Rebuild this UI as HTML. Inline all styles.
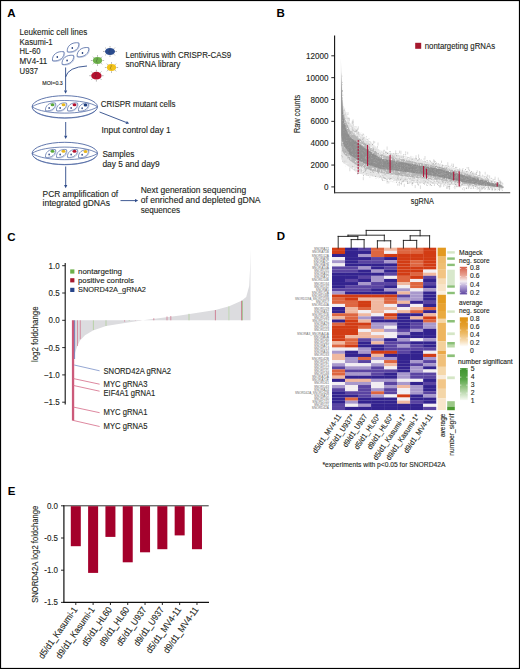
<!DOCTYPE html>
<html><head><meta charset="utf-8"><style>
html,body{margin:0;padding:0;background:#fff;}
svg{display:block;font-family:"Liberation Sans", sans-serif;}
</style></head><body>
<svg width="520" height="669" viewBox="0 0 520 669">
<rect width="520" height="669" fill="#fff"/>
<rect x="0.5" y="0.5" width="519" height="668" fill="none" stroke="#000" stroke-width="1.2"/>
<text x="7.20" y="17.00" font-size="11.5" fill="#000" text-anchor="start" stroke="#000" stroke-width="0" font-weight="bold" >A</text>
<text x="276.60" y="17.40" font-size="11.5" fill="#000" text-anchor="start" stroke="#000" stroke-width="0" font-weight="bold" >B</text>
<text x="7.20" y="240.80" font-size="11.5" fill="#000" text-anchor="start" stroke="#000" stroke-width="0" font-weight="bold" >C</text>
<text x="276.80" y="240.40" font-size="11.5" fill="#000" text-anchor="start" stroke="#000" stroke-width="0" font-weight="bold" >D</text>
<text x="7.80" y="495.20" font-size="11.5" fill="#000" text-anchor="start" stroke="#000" stroke-width="0" font-weight="bold" >E</text>
<text x="19.60" y="34.80" font-size="8.3" fill="#231f20" text-anchor="start" stroke="#231f20" stroke-width="0.12" textLength="67.7" lengthAdjust="spacingAndGlyphs" >Leukemic cell lines</text>
<text x="19.60" y="44.55" font-size="8.3" fill="#231f20" text-anchor="start" stroke="#231f20" stroke-width="0.12" textLength="33.1" lengthAdjust="spacingAndGlyphs" >Kasumi-1</text>
<text x="19.60" y="54.30" font-size="8.3" fill="#231f20" text-anchor="start" stroke="#231f20" stroke-width="0.12" textLength="20.8" lengthAdjust="spacingAndGlyphs" >HL-60</text>
<text x="19.60" y="64.05" font-size="8.3" fill="#231f20" text-anchor="start" stroke="#231f20" stroke-width="0.12" textLength="27.7" lengthAdjust="spacingAndGlyphs" >MV4-11</text>
<text x="19.60" y="73.80" font-size="8.3" fill="#231f20" text-anchor="start" stroke="#231f20" stroke-width="0.12" textLength="18.5" lengthAdjust="spacingAndGlyphs" >U937</text>
<text x="62.80" y="85.30" font-size="5.0" fill="#231f20" text-anchor="end" stroke="#231f20" stroke-width="0.12" textLength="20.5" lengthAdjust="spacingAndGlyphs" >MOI=0.3</text>
<text x="125.50" y="57.60" font-size="8.2" fill="#231f20" text-anchor="start" stroke="#231f20" stroke-width="0.12" textLength="105.7" lengthAdjust="spacingAndGlyphs" >Lentivirus with CRISPR-CAS9</text>
<text x="125.50" y="67.20" font-size="8.2" fill="#231f20" text-anchor="start" stroke="#231f20" stroke-width="0.12" textLength="55" lengthAdjust="spacingAndGlyphs" >snoRNA library</text>
<text x="100.80" y="107.30" font-size="8.2" fill="#231f20" text-anchor="start" stroke="#231f20" stroke-width="0.12" textLength="74.6" lengthAdjust="spacingAndGlyphs" >CRISPR mutant cells</text>
<text x="101.50" y="132.70" font-size="8.2" fill="#231f20" text-anchor="start" stroke="#231f20" stroke-width="0.12" textLength="69.2" lengthAdjust="spacingAndGlyphs" >Input control day 1</text>
<text x="102.40" y="157.00" font-size="8.2" fill="#231f20" text-anchor="start" stroke="#231f20" stroke-width="0.12" textLength="31.9" lengthAdjust="spacingAndGlyphs" >Samples</text>
<text x="102.40" y="166.70" font-size="8.2" fill="#231f20" text-anchor="start" stroke="#231f20" stroke-width="0.12" textLength="57.3" lengthAdjust="spacingAndGlyphs" >day 5 and day9</text>
<text x="42.60" y="196.90" font-size="8.2" fill="#231f20" text-anchor="start" stroke="#231f20" stroke-width="0.12" textLength="75.6" lengthAdjust="spacingAndGlyphs" >PCR amplification of</text>
<text x="42.60" y="205.60" font-size="8.2" fill="#231f20" text-anchor="start" stroke="#231f20" stroke-width="0.12" textLength="67.4" lengthAdjust="spacingAndGlyphs" >integrated gDNAs</text>
<text x="140.70" y="192.90" font-size="8.2" fill="#231f20" text-anchor="start" stroke="#231f20" stroke-width="0.12" textLength="105.5" lengthAdjust="spacingAndGlyphs" >Next generation sequencing</text>
<text x="140.70" y="203.00" font-size="8.2" fill="#231f20" text-anchor="start" stroke="#231f20" stroke-width="0.12" textLength="119.9" lengthAdjust="spacingAndGlyphs" >of enriched and depleted gDNA</text>
<text x="140.70" y="212.50" font-size="8.2" fill="#231f20" text-anchor="start" stroke="#231f20" stroke-width="0.12" textLength="39.3" lengthAdjust="spacingAndGlyphs" >sequences</text>
<path transform="translate(58.3 56.2)" d="M-5.80,4.60 C-6.60,-1.20 -1.20,-5.60 5.70,-4.40 C6.60,1.20 1.20,5.60 -5.80,4.60 Z" fill="#fff" stroke="#4f68a3" stroke-width="0.8"/>
<path transform="translate(58.3 56.2)" d="M-5.20,5.20 C1.80,6.20 7.20,1.80 6.30,-3.80" fill="none" stroke="#8a9cc8" stroke-width="0.5"/>
<ellipse cx="57.3" cy="57.1" rx="0.8" ry="1.0" fill="#1f3a7a"/>
<path transform="translate(73.1 47.3)" d="M-5.80,4.60 C-6.60,-1.20 -1.20,-5.60 5.70,-4.40 C6.60,1.20 1.20,5.60 -5.80,4.60 Z" fill="#fff" stroke="#4f68a3" stroke-width="0.8"/>
<path transform="translate(73.1 47.3)" d="M-5.20,5.20 C1.80,6.20 7.20,1.80 6.30,-3.80" fill="none" stroke="#8a9cc8" stroke-width="0.5"/>
<ellipse cx="72.3" cy="48.1" rx="0.8" ry="1.0" fill="#1f3a7a"/>
<path transform="translate(83.0 52.1)" d="M-5.80,4.60 C-6.60,-1.20 -1.20,-5.60 5.70,-4.40 C6.60,1.20 1.20,5.60 -5.80,4.60 Z" fill="#fff" stroke="#4f68a3" stroke-width="0.8"/>
<path transform="translate(83.0 52.1)" d="M-5.20,5.20 C1.80,6.20 7.20,1.80 6.30,-3.80" fill="none" stroke="#8a9cc8" stroke-width="0.5"/>
<ellipse cx="82.5" cy="53.1" rx="0.8" ry="1.0" fill="#1f3a7a"/>
<path transform="translate(67.9 59.8)" d="M-5.80,4.60 C-6.60,-1.20 -1.20,-5.60 5.70,-4.40 C6.60,1.20 1.20,5.60 -5.80,4.60 Z" fill="#fff" stroke="#4f68a3" stroke-width="0.8"/>
<path transform="translate(67.9 59.8)" d="M-5.20,5.20 C1.80,6.20 7.20,1.80 6.30,-3.80" fill="none" stroke="#8a9cc8" stroke-width="0.5"/>
<ellipse cx="67.1" cy="60.6" rx="0.8" ry="1.0" fill="#1f3a7a"/>
<path d="M65.6,77 Q68,67 87,66" fill="none" stroke="#2d4a88" stroke-width="0.9"/>
<line x1="65.6" y1="67.5" x2="65.60" y2="90.60" stroke="#2d4a88" stroke-width="0.9"/>
<path d="M65.60,93.80 L64.00,90.60 L67.20,90.60 Z" fill="#2d4a88"/>
<line x1="65.7" y1="122" x2="65.70" y2="135.80" stroke="#2d4a88" stroke-width="0.9"/>
<path d="M65.70,139.00 L64.10,135.80 L67.30,135.80 Z" fill="#2d4a88"/>
<line x1="65.7" y1="166.5" x2="65.70" y2="185.10" stroke="#2d4a88" stroke-width="0.9"/>
<path d="M65.70,188.30 L64.10,185.10 L67.30,185.10 Z" fill="#2d4a88"/>
<line x1="99.6" y1="112" x2="126.22" y2="122.43" stroke="#2d4a88" stroke-width="0.9"/>
<path d="M129.20,123.60 L125.64,123.92 L126.80,120.94 Z" fill="#2d4a88"/>
<line x1="120.5" y1="200.6" x2="135.00" y2="200.60" stroke="#2d4a88" stroke-width="0.9"/>
<path d="M138.20,200.60 L135.00,202.20 L135.00,199.00 Z" fill="#2d4a88"/>
<line x1="115.30" y1="51.50" x2="117.00" y2="51.50" stroke="#7a7a7a" stroke-width="0.55"/>
<line x1="113.75" y1="54.19" x2="114.95" y2="55.39" stroke="#7a7a7a" stroke-width="0.55"/>
<line x1="110.00" y1="55.30" x2="110.00" y2="57.00" stroke="#7a7a7a" stroke-width="0.55"/>
<line x1="106.25" y1="54.19" x2="105.05" y2="55.39" stroke="#7a7a7a" stroke-width="0.55"/>
<line x1="104.70" y1="51.50" x2="103.00" y2="51.50" stroke="#7a7a7a" stroke-width="0.55"/>
<line x1="106.25" y1="48.81" x2="105.05" y2="47.61" stroke="#7a7a7a" stroke-width="0.55"/>
<line x1="110.00" y1="47.70" x2="110.00" y2="46.00" stroke="#7a7a7a" stroke-width="0.55"/>
<line x1="113.75" y1="48.81" x2="114.95" y2="47.61" stroke="#7a7a7a" stroke-width="0.55"/>
<ellipse cx="110" cy="51.5" rx="5" ry="3.5" fill="#2a4b8d"/>
<path d="M109.2,48.8 q1.6,0.8 0,2.4499999999999997 q-1.2,0.8 0.6,2.4499999999999997" fill="none" stroke="#333" stroke-width="0.5" opacity="0.7"/>
<line x1="102.40" y1="60.50" x2="104.10" y2="60.50" stroke="#7a7a7a" stroke-width="0.55"/>
<line x1="100.96" y1="63.12" x2="102.17" y2="64.32" stroke="#7a7a7a" stroke-width="0.55"/>
<line x1="97.50" y1="64.20" x2="97.50" y2="65.90" stroke="#7a7a7a" stroke-width="0.55"/>
<line x1="94.04" y1="63.12" x2="92.83" y2="64.32" stroke="#7a7a7a" stroke-width="0.55"/>
<line x1="92.60" y1="60.50" x2="90.90" y2="60.50" stroke="#7a7a7a" stroke-width="0.55"/>
<line x1="94.04" y1="57.88" x2="92.83" y2="56.68" stroke="#7a7a7a" stroke-width="0.55"/>
<line x1="97.50" y1="56.80" x2="97.50" y2="55.10" stroke="#7a7a7a" stroke-width="0.55"/>
<line x1="100.96" y1="57.88" x2="102.17" y2="56.68" stroke="#7a7a7a" stroke-width="0.55"/>
<ellipse cx="97.5" cy="60.5" rx="4.6" ry="3.4" fill="#6cb04a"/>
<path d="M96.7,57.9 q1.6,0.8 0,2.38 q-1.2,0.8 0.6,2.38" fill="none" stroke="#333" stroke-width="0.5" opacity="0.7"/>
<line x1="116.40" y1="67.50" x2="118.10" y2="67.50" stroke="#7a7a7a" stroke-width="0.55"/>
<line x1="114.96" y1="70.12" x2="116.17" y2="71.32" stroke="#7a7a7a" stroke-width="0.55"/>
<line x1="111.50" y1="71.20" x2="111.50" y2="72.90" stroke="#7a7a7a" stroke-width="0.55"/>
<line x1="108.04" y1="70.12" x2="106.83" y2="71.32" stroke="#7a7a7a" stroke-width="0.55"/>
<line x1="106.60" y1="67.50" x2="104.90" y2="67.50" stroke="#7a7a7a" stroke-width="0.55"/>
<line x1="108.04" y1="64.88" x2="106.83" y2="63.68" stroke="#7a7a7a" stroke-width="0.55"/>
<line x1="111.50" y1="63.80" x2="111.50" y2="62.10" stroke="#7a7a7a" stroke-width="0.55"/>
<line x1="114.96" y1="64.88" x2="116.17" y2="63.68" stroke="#7a7a7a" stroke-width="0.55"/>
<ellipse cx="111.5" cy="67.5" rx="4.6" ry="3.4" fill="#f2c21a"/>
<path d="M110.7,64.89999999999999 q1.6,0.8 0,2.38 q-1.2,0.8 0.6,2.38" fill="none" stroke="#333" stroke-width="0.5" opacity="0.7"/>
<line x1="101.90" y1="75.70" x2="103.60" y2="75.70" stroke="#7a7a7a" stroke-width="0.55"/>
<line x1="100.29" y1="78.67" x2="101.49" y2="79.87" stroke="#7a7a7a" stroke-width="0.55"/>
<line x1="96.40" y1="79.90" x2="96.40" y2="81.60" stroke="#7a7a7a" stroke-width="0.55"/>
<line x1="92.51" y1="78.67" x2="91.31" y2="79.87" stroke="#7a7a7a" stroke-width="0.55"/>
<line x1="90.90" y1="75.70" x2="89.20" y2="75.70" stroke="#7a7a7a" stroke-width="0.55"/>
<line x1="92.51" y1="72.73" x2="91.31" y2="71.53" stroke="#7a7a7a" stroke-width="0.55"/>
<line x1="96.40" y1="71.50" x2="96.40" y2="69.80" stroke="#7a7a7a" stroke-width="0.55"/>
<line x1="100.29" y1="72.73" x2="101.49" y2="71.53" stroke="#7a7a7a" stroke-width="0.55"/>
<ellipse cx="96.4" cy="75.7" rx="5.2" ry="3.9" fill="#b5102e"/>
<path d="M95.60000000000001,72.6 q1.6,0.8 0,2.73 q-1.2,0.8 0.6,2.73" fill="none" stroke="#333" stroke-width="0.5" opacity="0.7"/>
<ellipse cx="64.8" cy="106.8" rx="32.7" ry="11.1" fill="#fff" stroke="#4f68a3" stroke-width="0.9"/>
<path d="M33.3,109.8 A32.4,11 0 0 0 96.3,109.8" fill="none" stroke="#4f68a3" stroke-width="0.6"/>
<path d="M32.099999999999994,106.8 C43.8,98.39999999999999 85.8,98.39999999999999 97.5,106.8 C85.8,115.2 43.8,115.2 32.099999999999994,106.8 Z" fill="none" stroke="#4f68a3" stroke-width="0.8"/>
<path transform="translate(50.5 106.8)" d="M-4.99,3.96 C-5.68,-1.03 -1.03,-4.82 4.90,-3.78 C5.68,1.03 1.03,4.82 -4.99,3.96 Z" fill="#fff" stroke="#4f68a3" stroke-width="0.7"/>
<path transform="translate(50.5 106.8)" d="M-4.39,4.56 C1.63,5.42 6.28,1.63 5.50,-3.18" fill="none" stroke="#8a9cc8" stroke-width="0.5"/>
<ellipse cx="52.5" cy="104.7" rx="1.9" ry="1.5" fill="#5aa83a"/>
<ellipse cx="49.1" cy="107.89999999999999" rx="0.75" ry="1.0" fill="#1f3a7a"/>
<path transform="translate(61.5 106.8)" d="M-4.99,3.96 C-5.68,-1.03 -1.03,-4.82 4.90,-3.78 C5.68,1.03 1.03,4.82 -4.99,3.96 Z" fill="#fff" stroke="#4f68a3" stroke-width="0.7"/>
<path transform="translate(61.5 106.8)" d="M-4.39,4.56 C1.63,5.42 6.28,1.63 5.50,-3.18" fill="none" stroke="#8a9cc8" stroke-width="0.5"/>
<ellipse cx="63.5" cy="104.7" rx="1.9" ry="1.5" fill="#e8b820"/>
<ellipse cx="60.1" cy="107.89999999999999" rx="0.75" ry="1.0" fill="#1f3a7a"/>
<path transform="translate(72.5 106.8)" d="M-4.99,3.96 C-5.68,-1.03 -1.03,-4.82 4.90,-3.78 C5.68,1.03 1.03,4.82 -4.99,3.96 Z" fill="#fff" stroke="#4f68a3" stroke-width="0.7"/>
<path transform="translate(72.5 106.8)" d="M-4.39,4.56 C1.63,5.42 6.28,1.63 5.50,-3.18" fill="none" stroke="#8a9cc8" stroke-width="0.5"/>
<ellipse cx="74.5" cy="104.7" rx="1.9" ry="1.5" fill="#b5102e"/>
<ellipse cx="71.1" cy="107.89999999999999" rx="0.75" ry="1.0" fill="#1f3a7a"/>
<path transform="translate(83.5 107.1)" d="M-4.99,3.96 C-5.68,-1.03 -1.03,-4.82 4.90,-3.78 C5.68,1.03 1.03,4.82 -4.99,3.96 Z" fill="#fff" stroke="#4f68a3" stroke-width="0.7"/>
<path transform="translate(83.5 107.1)" d="M-4.39,4.56 C1.63,5.42 6.28,1.63 5.50,-3.18" fill="none" stroke="#8a9cc8" stroke-width="0.5"/>
<ellipse cx="85.5" cy="105.0" rx="1.9" ry="1.5" fill="#1f3f80"/>
<ellipse cx="82.1" cy="108.19999999999999" rx="0.75" ry="1.0" fill="#1f3a7a"/>
<ellipse cx="64.8" cy="153.4" rx="32.7" ry="11.1" fill="#fff" stroke="#4f68a3" stroke-width="0.9"/>
<path d="M33.3,156.4 A32.4,11 0 0 0 96.3,156.4" fill="none" stroke="#4f68a3" stroke-width="0.6"/>
<path d="M32.099999999999994,153.4 C43.8,145.0 85.8,145.0 97.5,153.4 C85.8,161.8 43.8,161.8 32.099999999999994,153.4 Z" fill="none" stroke="#4f68a3" stroke-width="0.8"/>
<path transform="translate(50.5 153.4)" d="M-4.99,3.96 C-5.68,-1.03 -1.03,-4.82 4.90,-3.78 C5.68,1.03 1.03,4.82 -4.99,3.96 Z" fill="#fff" stroke="#4f68a3" stroke-width="0.7"/>
<path transform="translate(50.5 153.4)" d="M-4.39,4.56 C1.63,5.42 6.28,1.63 5.50,-3.18" fill="none" stroke="#8a9cc8" stroke-width="0.5"/>
<ellipse cx="52.5" cy="151.3" rx="1.9" ry="1.5" fill="#5aa83a"/>
<ellipse cx="49.1" cy="154.5" rx="0.75" ry="1.0" fill="#1f3a7a"/>
<path transform="translate(61.5 153.4)" d="M-4.99,3.96 C-5.68,-1.03 -1.03,-4.82 4.90,-3.78 C5.68,1.03 1.03,4.82 -4.99,3.96 Z" fill="#fff" stroke="#4f68a3" stroke-width="0.7"/>
<path transform="translate(61.5 153.4)" d="M-4.39,4.56 C1.63,5.42 6.28,1.63 5.50,-3.18" fill="none" stroke="#8a9cc8" stroke-width="0.5"/>
<ellipse cx="63.5" cy="151.3" rx="1.9" ry="1.5" fill="#e8b820"/>
<ellipse cx="60.1" cy="154.5" rx="0.75" ry="1.0" fill="#1f3a7a"/>
<path transform="translate(72.5 153.4)" d="M-4.99,3.96 C-5.68,-1.03 -1.03,-4.82 4.90,-3.78 C5.68,1.03 1.03,4.82 -4.99,3.96 Z" fill="#fff" stroke="#4f68a3" stroke-width="0.7"/>
<path transform="translate(72.5 153.4)" d="M-4.39,4.56 C1.63,5.42 6.28,1.63 5.50,-3.18" fill="none" stroke="#8a9cc8" stroke-width="0.5"/>
<ellipse cx="74.5" cy="151.3" rx="1.9" ry="1.5" fill="#b5102e"/>
<ellipse cx="71.1" cy="154.5" rx="0.75" ry="1.0" fill="#1f3a7a"/>
<path transform="translate(83.5 153.70000000000002)" d="M-4.99,3.96 C-5.68,-1.03 -1.03,-4.82 4.90,-3.78 C5.68,1.03 1.03,4.82 -4.99,3.96 Z" fill="#fff" stroke="#4f68a3" stroke-width="0.7"/>
<path transform="translate(83.5 153.70000000000002)" d="M-4.39,4.56 C1.63,5.42 6.28,1.63 5.50,-3.18" fill="none" stroke="#8a9cc8" stroke-width="0.5"/>
<ellipse cx="85.5" cy="151.60000000000002" rx="1.9" ry="1.5" fill="#e8b820"/>
<ellipse cx="82.1" cy="154.8" rx="0.75" ry="1.0" fill="#1f3a7a"/>
<line x1="334.6" y1="35.5" x2="334.6" y2="193.3" stroke="#111" stroke-width="1.1"/>
<line x1="334.1" y1="192.8" x2="510.2" y2="192.8" stroke="#333" stroke-width="1.1"/>
<line x1="331.3" y1="186.90" x2="334.6" y2="186.90" stroke="#111" stroke-width="0.9"/>
<text x="328.40" y="190.00" font-size="8.96" fill="#231f20" text-anchor="end" stroke="#231f20" stroke-width="0.12" textLength="4.5" lengthAdjust="spacingAndGlyphs" >0</text>
<line x1="331.3" y1="165.05" x2="334.6" y2="165.05" stroke="#111" stroke-width="0.9"/>
<text x="328.40" y="168.15" font-size="8.96" fill="#231f20" text-anchor="end" stroke="#231f20" stroke-width="0.12" textLength="18.0" lengthAdjust="spacingAndGlyphs" >2000</text>
<line x1="331.3" y1="143.20" x2="334.6" y2="143.20" stroke="#111" stroke-width="0.9"/>
<text x="328.40" y="146.30" font-size="8.96" fill="#231f20" text-anchor="end" stroke="#231f20" stroke-width="0.12" textLength="18.0" lengthAdjust="spacingAndGlyphs" >4000</text>
<line x1="331.3" y1="121.35" x2="334.6" y2="121.35" stroke="#111" stroke-width="0.9"/>
<text x="328.40" y="124.45" font-size="8.96" fill="#231f20" text-anchor="end" stroke="#231f20" stroke-width="0.12" textLength="18.0" lengthAdjust="spacingAndGlyphs" >6000</text>
<line x1="331.3" y1="99.50" x2="334.6" y2="99.50" stroke="#111" stroke-width="0.9"/>
<text x="328.40" y="102.60" font-size="8.96" fill="#231f20" text-anchor="end" stroke="#231f20" stroke-width="0.12" textLength="18.0" lengthAdjust="spacingAndGlyphs" >8000</text>
<line x1="331.3" y1="77.65" x2="334.6" y2="77.65" stroke="#111" stroke-width="0.9"/>
<text x="328.40" y="80.75" font-size="8.96" fill="#231f20" text-anchor="end" stroke="#231f20" stroke-width="0.12" textLength="22.5" lengthAdjust="spacingAndGlyphs" >10000</text>
<line x1="331.3" y1="55.80" x2="334.6" y2="55.80" stroke="#111" stroke-width="0.9"/>
<text x="328.40" y="58.90" font-size="8.96" fill="#231f20" text-anchor="end" stroke="#231f20" stroke-width="0.12" textLength="22.5" lengthAdjust="spacingAndGlyphs" >12000</text>
<text x="299.80" y="114.00" font-size="9.6" fill="#231f20" text-anchor="middle" stroke="#231f20" stroke-width="0.12" textLength="38.2" lengthAdjust="spacingAndGlyphs" transform="rotate(-90 299.80 114.00)" >Raw counts</text>
<text x="422.30" y="204.40" font-size="9.29" fill="#231f20" text-anchor="middle" stroke="#231f20" stroke-width="0.12" textLength="23" lengthAdjust="spacingAndGlyphs" >sgRNA</text>
<rect x="415.2" y="42.8" width="6" height="6" fill="#a6192e"/>
<text x="424.70" y="48.60" font-size="8.53" fill="#231f20" text-anchor="start" stroke="#231f20" stroke-width="0.12" textLength="70.4" lengthAdjust="spacingAndGlyphs" >nontargeting gRNAs</text>
<polygon points="340.8,58.0 341.3,68.0 341.8,78.4 342.3,89.1 342.8,99.7 343.3,104.9 343.8,106.3 344.3,107.7 344.8,109.1 345.3,110.6 345.8,112.0 346.3,113.4 346.8,114.8 347.3,116.1 347.8,117.3 348.3,118.6 348.8,119.9 349.3,121.2 349.8,122.5 350.3,123.3 350.8,123.8 351.3,124.3 351.8,124.8 352.3,125.3 352.8,125.8 353.3,126.3 353.8,126.8 354.3,127.3 354.8,127.8 355.3,128.3 355.8,128.8 356.3,129.3 356.8,129.8 357.3,130.3 357.8,130.8 358.3,131.3 358.8,131.7 359.3,132.1 359.8,132.6 360.3,133.0 360.8,133.5 361.3,133.9 361.8,134.4 362.3,134.8 362.8,135.2 363.3,135.7 363.8,136.1 364.3,136.6 364.8,137.0 365.3,137.4 365.8,137.9 366.3,138.3 366.8,138.8 367.3,139.2 367.8,139.6 368.3,140.1 368.8,140.5 369.3,141.0 369.8,141.4 370.3,141.8 370.8,142.3 371.3,142.7 371.8,143.2 372.3,143.6 372.8,144.1 373.3,144.5 373.8,144.9 374.3,145.4 374.8,145.8 375.3,146.3 375.8,146.7 376.3,147.1 376.8,147.6 377.3,148.0 377.8,148.5 378.3,148.9 378.8,149.3 379.3,149.8 379.8,150.2 380.3,150.5 380.8,150.6 381.3,150.7 381.8,150.8 382.3,150.9 382.8,151.0 383.3,151.2 383.8,151.3 384.3,151.4 384.8,151.5 385.3,151.6 385.8,151.7 386.3,151.8 386.8,152.0 387.3,152.1 387.8,152.2 388.3,152.3 388.8,152.4 389.3,152.5 389.8,152.7 390.3,152.8 390.8,152.9 391.3,153.0 391.8,153.1 392.3,153.2 392.8,153.3 393.3,153.5 393.8,153.6 394.3,153.7 394.8,153.8 395.3,153.9 395.8,154.0 396.3,154.1 396.8,154.3 397.3,154.4 397.8,154.5 398.3,154.6 398.8,154.7 399.3,154.8 399.8,155.0 400.3,155.1 400.8,155.2 401.3,155.3 401.8,155.4 402.3,155.5 402.8,155.6 403.3,155.8 403.8,155.9 404.3,156.0 404.8,156.1 405.3,156.2 405.8,156.3 406.3,156.4 406.8,156.6 407.3,156.7 407.8,156.8 408.3,156.9 408.8,157.0 409.3,157.1 409.8,157.3 410.3,157.4 410.8,157.5 411.3,157.6 411.8,157.7 412.3,157.8 412.8,157.9 413.3,158.1 413.8,158.2 414.3,158.3 414.8,158.4 415.3,158.5 415.8,158.6 416.3,158.7 416.8,158.9 417.3,159.0 417.8,159.1 418.3,159.2 418.8,159.3 419.3,159.4 419.8,159.6 420.3,159.7 420.8,159.8 421.3,159.9 421.8,160.0 422.3,160.1 422.8,160.2 423.3,160.4 423.8,160.5 424.3,160.6 424.8,160.7 425.3,160.8 425.8,160.9 426.3,161.0 426.8,161.2 427.3,161.3 427.8,161.4 428.3,161.5 428.8,161.6 429.3,161.7 429.8,161.9 430.3,162.0 430.8,162.1 431.3,162.2 431.8,162.3 432.3,162.4 432.8,162.5 433.3,162.7 433.8,162.8 434.3,162.9 434.8,163.0 435.3,163.1 435.8,163.2 436.3,163.3 436.8,163.5 437.3,163.6 437.8,163.7 438.3,163.8 438.8,163.9 439.3,164.0 439.8,164.2 440.3,164.3 440.8,164.4 441.3,164.5 441.8,164.7 442.3,164.8 442.8,164.9 443.3,165.1 443.8,165.2 444.3,165.3 444.8,165.4 445.3,165.6 445.8,165.7 446.3,165.8 446.8,166.0 447.3,166.1 447.8,166.2 448.3,166.4 448.8,166.5 449.3,166.6 449.8,166.7 450.3,166.9 450.8,167.0 451.3,167.1 451.8,167.3 452.3,167.4 452.8,167.5 453.3,167.7 453.8,167.8 454.3,167.9 454.8,168.0 455.3,168.2 455.8,168.3 456.3,168.4 456.8,168.6 457.3,168.7 457.8,168.8 458.3,169.0 458.8,169.1 459.3,169.2 459.8,169.3 460.3,169.5 460.8,169.6 461.3,169.7 461.8,169.9 462.3,170.0 462.8,170.1 463.3,170.3 463.8,170.4 464.3,170.5 464.8,170.6 465.3,170.8 465.8,170.9 466.3,171.0 466.8,171.2 467.3,171.3 467.8,171.4 468.3,171.6 468.8,171.7 469.3,171.8 469.8,171.9 470.3,172.1 470.8,172.3 471.3,172.5 471.8,172.7 472.3,172.8 472.8,173.0 473.3,173.2 473.8,173.4 474.3,173.6 474.8,173.8 475.3,173.9 475.8,174.1 476.3,174.3 476.8,174.5 477.3,174.7 477.8,174.9 478.3,175.0 478.8,175.2 479.3,175.4 479.8,175.6 480.3,175.8 480.8,176.0 481.3,176.1 481.8,176.3 482.3,176.5 482.8,176.7 483.3,176.9 483.8,177.1 484.3,177.2 484.8,177.4 485.3,177.6 485.8,177.8 486.3,178.0 486.8,178.2 487.3,178.3 487.8,178.5 488.3,178.7 488.8,178.9 489.3,179.1 489.8,179.3 490.3,179.4 490.8,179.6 491.3,179.8 491.8,180.0 492.3,180.2 492.8,180.4 493.3,180.5 493.8,180.7 494.3,180.9 494.8,181.1 495.3,181.3 495.8,181.5 496.3,181.6 496.8,181.8 497.3,182.0 497.8,182.2 498.3,182.4 498.8,182.6 499.3,182.7 499.8,182.9 500.3,183.3 500.8,183.8 501.3,184.3 501.8,184.8 502.3,185.3 502.8,185.8 503.3,186.3 503.3,188.2 502.8,188.2 502.3,188.1 501.8,188.1 501.3,188.1 500.8,188.0 500.3,188.0 499.8,188.0 499.3,188.0 498.8,187.9 498.3,187.9 497.8,187.9 497.3,187.9 496.8,187.8 496.3,187.8 495.8,187.8 495.3,187.8 494.8,187.7 494.3,187.7 493.8,187.7 493.3,187.7 492.8,187.6 492.3,187.6 491.8,187.6 491.3,187.6 490.8,187.5 490.3,187.5 489.8,187.5 489.3,187.5 488.8,187.4 488.3,187.4 487.8,187.4 487.3,187.4 486.8,187.3 486.3,187.3 485.8,187.3 485.3,187.3 484.8,187.2 484.3,187.2 483.8,187.2 483.3,187.2 482.8,187.1 482.3,187.1 481.8,187.1 481.3,187.1 480.8,187.0 480.3,187.0 479.8,187.0 479.3,187.0 478.8,186.9 478.3,186.9 477.8,186.9 477.3,186.9 476.8,186.8 476.3,186.8 475.8,186.8 475.3,186.8 474.8,186.7 474.3,186.7 473.8,186.7 473.3,186.7 472.8,186.6 472.3,186.6 471.8,186.6 471.3,186.6 470.8,186.5 470.3,186.5 469.8,186.5 469.3,186.4 468.8,186.4 468.3,186.4 467.8,186.3 467.3,186.3 466.8,186.2 466.3,186.2 465.8,186.2 465.3,186.1 464.8,186.1 464.3,186.0 463.8,186.0 463.3,185.9 462.8,185.9 462.3,185.9 461.8,185.8 461.3,185.8 460.8,185.7 460.3,185.7 459.8,185.7 459.3,185.6 458.8,185.6 458.3,185.5 457.8,185.5 457.3,185.4 456.8,185.4 456.3,185.4 455.8,185.3 455.3,185.3 454.8,185.2 454.3,185.2 453.8,185.2 453.3,185.1 452.8,185.1 452.3,185.0 451.8,185.0 451.3,184.9 450.8,184.9 450.3,184.9 449.8,184.8 449.3,184.8 448.8,184.7 448.3,184.7 447.8,184.7 447.3,184.6 446.8,184.6 446.3,184.5 445.8,184.5 445.3,184.4 444.8,184.4 444.3,184.4 443.8,184.3 443.3,184.3 442.8,184.2 442.3,184.2 441.8,184.2 441.3,184.1 440.8,184.1 440.3,184.0 439.8,184.0 439.3,184.0 438.8,183.9 438.3,183.9 437.8,183.9 437.3,183.9 436.8,183.9 436.3,183.8 435.8,183.8 435.3,183.8 434.8,183.8 434.3,183.8 433.8,183.7 433.3,183.7 432.8,183.7 432.3,183.7 431.8,183.6 431.3,183.6 430.8,183.6 430.3,183.6 429.8,183.6 429.3,183.5 428.8,183.5 428.3,183.5 427.8,183.5 427.3,183.4 426.8,183.4 426.3,183.4 425.8,183.4 425.3,183.4 424.8,183.3 424.3,183.3 423.8,183.3 423.3,183.3 422.8,183.3 422.3,183.2 421.8,183.2 421.3,183.2 420.8,183.2 420.3,183.1 419.8,183.1 419.3,183.1 418.8,183.1 418.3,183.1 417.8,183.0 417.3,183.0 416.8,183.0 416.3,183.0 415.8,183.0 415.3,182.9 414.8,182.9 414.3,182.9 413.8,182.9 413.3,182.8 412.8,182.8 412.3,182.8 411.8,182.8 411.3,182.8 410.8,182.7 410.3,182.7 409.8,182.7 409.3,182.6 408.8,182.5 408.3,182.4 407.8,182.4 407.3,182.3 406.8,182.2 406.3,182.1 405.8,182.0 405.3,182.0 404.8,181.9 404.3,181.8 403.8,181.7 403.3,181.7 402.8,181.6 402.3,181.5 401.8,181.4 401.3,181.3 400.8,181.3 400.3,181.2 399.8,181.1 399.3,181.0 398.8,180.9 398.3,180.9 397.8,180.8 397.3,180.7 396.8,180.6 396.3,180.6 395.8,180.5 395.3,180.4 394.8,180.3 394.3,180.2 393.8,180.2 393.3,180.1 392.8,180.0 392.3,179.9 391.8,179.8 391.3,179.8 390.8,179.7 390.3,179.6 389.8,179.5 389.3,179.5 388.8,179.4 388.3,179.3 387.8,179.2 387.3,179.1 386.8,179.1 386.3,179.0 385.8,178.9 385.3,178.8 384.8,178.8 384.3,178.7 383.8,178.6 383.3,178.5 382.8,178.4 382.3,178.4 381.8,178.3 381.3,178.2 380.8,178.1 380.3,178.0 379.8,178.0 379.3,177.9 378.8,177.7 378.3,177.6 377.8,177.5 377.3,177.4 376.8,177.3 376.3,177.2 375.8,177.1 375.3,177.0 374.8,176.9 374.3,176.8 373.8,176.7 373.3,176.6 372.8,176.5 372.3,176.4 371.8,176.3 371.3,176.2 370.8,176.1 370.3,176.0 369.8,175.9 369.3,175.8 368.8,175.7 368.3,175.6 367.8,175.4 367.3,175.3 366.8,175.2 366.3,175.1 365.8,175.0 365.3,174.9 364.8,174.8 364.3,174.7 363.8,174.6 363.3,174.5 362.8,174.4 362.3,174.3 361.8,174.2 361.3,174.1 360.8,174.0 360.3,173.9 359.8,173.8 359.3,173.7 358.8,173.6 358.3,173.5 357.8,173.3 357.3,172.9 356.8,172.5 356.3,172.1 355.8,171.8 355.3,171.4 354.8,171.0 354.3,170.7 353.8,170.3 353.3,169.9 352.8,169.6 352.3,169.2 351.8,168.8 351.3,168.5 350.8,168.1 350.3,167.7 349.8,167.4 349.3,167.0 348.8,166.6 348.3,166.3 347.8,165.9 347.3,165.6 346.8,165.2 346.3,164.9 345.8,164.6 345.3,164.3 344.8,164.0 344.3,163.7 343.8,163.5 343.3,163.2 342.8,162.5 342.3,161.3 341.8,160.0 341.3,158.8 340.8,110.0" fill="#e4e4e4"/>
<polygon points="341.0,71.9 341.5,79.0 342.0,90.2 342.5,101.4 343.0,108.8 343.5,112.0 344.0,115.2 344.5,116.7 345.0,118.2 345.5,119.8 346.0,121.3 346.5,122.8 347.0,123.9 347.5,125.1 348.0,126.2 348.5,127.3 349.0,128.4 349.5,129.6 350.0,130.7 350.5,131.1 351.0,131.6 351.5,132.0 352.0,132.4 352.5,132.9 353.0,133.3 353.5,133.7 354.0,134.2 354.5,134.6 355.0,135.0 355.5,135.4 356.0,135.9 356.5,136.3 357.0,136.7 357.5,137.2 358.0,137.6 358.5,138.0 359.0,138.4 359.5,138.8 360.0,139.2 360.5,139.6 361.0,140.0 361.5,140.4 362.0,140.8 362.5,141.2 363.0,141.6 363.5,142.1 364.0,142.5 364.5,142.8 365.0,143.2 365.5,143.6 366.0,144.0 366.5,144.4 367.0,144.7 367.5,145.1 368.0,145.5 368.5,145.9 369.0,146.2 369.5,146.6 370.0,147.0 370.5,147.4 371.0,147.8 371.5,148.1 372.0,148.5 372.5,148.9 373.0,149.3 373.5,149.7 374.0,150.0 374.5,150.4 375.0,150.8 375.5,151.2 376.0,151.5 376.5,151.9 377.0,152.3 377.5,152.7 378.0,153.1 378.5,153.4 379.0,153.8 379.5,154.2 380.0,154.6 380.5,154.7 381.0,154.8 381.5,154.9 382.0,155.0 382.5,155.1 383.0,155.2 383.5,155.3 384.0,155.4 384.5,155.5 385.0,155.6 385.5,155.7 386.0,155.8 386.5,155.9 387.0,156.0 387.5,156.1 388.0,156.2 388.5,156.3 389.0,156.4 389.5,156.5 390.0,156.6 390.5,156.7 391.0,156.8 391.5,157.0 392.0,157.1 392.5,157.2 393.0,157.3 393.5,157.4 394.0,157.5 394.5,157.6 395.0,157.7 395.5,157.8 396.0,157.9 396.5,158.0 397.0,158.1 397.5,158.2 398.0,158.3 398.5,158.4 399.0,158.5 399.5,158.6 400.0,158.7 400.5,158.8 401.0,158.9 401.5,159.0 402.0,159.1 402.5,159.2 403.0,159.3 403.5,159.4 404.0,159.5 404.5,159.6 405.0,159.7 405.5,159.8 406.0,159.9 406.5,160.0 407.0,160.1 407.5,160.2 408.0,160.4 408.5,160.5 409.0,160.6 409.5,160.7 410.0,160.8 410.5,160.9 411.0,161.0 411.5,161.1 412.0,161.2 412.5,161.3 413.0,161.4 413.5,161.5 414.0,161.6 414.5,161.7 415.0,161.8 415.5,161.9 416.0,162.0 416.5,162.1 417.0,162.2 417.5,162.3 418.0,162.4 418.5,162.5 419.0,162.6 419.5,162.7 420.0,162.8 420.5,162.9 421.0,163.0 421.5,163.1 422.0,163.2 422.5,163.3 423.0,163.4 423.5,163.5 424.0,163.6 424.5,163.7 425.0,163.8 425.5,163.9 426.0,164.0 426.5,164.1 427.0,164.2 427.5,164.3 428.0,164.4 428.5,164.5 429.0,164.6 429.5,164.7 430.0,164.8 430.5,164.9 431.0,165.0 431.5,165.1 432.0,165.2 432.5,165.3 433.0,165.4 433.5,165.5 434.0,165.6 434.5,165.7 435.0,165.8 435.5,165.9 436.0,166.0 436.5,166.1 437.0,166.2 437.5,166.3 438.0,166.4 438.5,166.5 439.0,166.6 439.5,166.7 440.0,166.8 440.5,167.0 441.0,167.1 441.5,167.2 442.0,167.3 442.5,167.5 443.0,167.6 443.5,167.7 444.0,167.9 444.5,168.0 445.0,168.1 445.5,168.2 446.0,168.4 446.5,168.5 447.0,168.6 447.5,168.7 448.0,168.9 448.5,169.0 449.0,169.1 449.5,169.3 450.0,169.4 450.5,169.5 451.0,169.6 451.5,169.8 452.0,169.9 452.5,170.0 453.0,170.1 453.5,170.3 454.0,170.4 454.5,170.5 455.0,170.7 455.5,170.8 456.0,170.9 456.5,171.0 457.0,171.2 457.5,171.3 458.0,171.4 458.5,171.5 459.0,171.7 459.5,171.8 460.0,171.9 460.5,172.1 461.0,172.2 461.5,172.3 462.0,172.4 462.5,172.6 463.0,172.7 463.5,172.8 464.0,172.9 464.5,173.1 465.0,173.2 465.5,173.3 466.0,173.5 466.5,173.6 467.0,173.7 467.5,173.8 468.0,174.0 468.5,174.1 469.0,174.2 469.5,174.3 470.0,174.5 470.5,174.6 471.0,174.8 471.5,174.9 472.0,175.1 472.5,175.3 473.0,175.4 473.5,175.6 474.0,175.7 474.5,175.9 475.0,176.1 475.5,176.2 476.0,176.4 476.5,176.5 477.0,176.7 477.5,176.8 478.0,177.0 478.5,177.2 479.0,177.3 479.5,177.5 480.0,177.6 480.5,177.8 481.0,177.9 481.5,178.1 482.0,178.3 482.5,178.4 483.0,178.6 483.5,178.7 484.0,178.9 484.5,179.0 485.0,179.2 485.5,179.4 486.0,179.5 486.5,179.7 487.0,179.8 487.5,180.0 488.0,180.2 488.5,180.3 489.0,180.5 489.5,180.6 490.0,180.8 490.5,180.9 491.0,181.1 491.5,181.3 492.0,181.4 492.5,181.6 493.0,181.7 493.5,181.9 494.0,182.0 494.5,182.2 495.0,182.4 495.5,182.5 496.0,182.7 496.5,182.8 497.0,183.0 497.5,183.1 498.0,183.3 498.5,183.5 499.0,183.6 499.5,183.8 500.0,183.9 500.5,184.3 501.0,184.7 501.5,185.1 502.0,185.5 502.5,185.9 503.0,186.3 503.5,186.7 503.5,187.9 503.0,187.8 502.5,187.8 502.0,187.8 501.5,187.7 501.0,187.7 500.5,187.7 500.0,187.6 499.5,187.6 499.0,187.5 498.5,187.5 498.0,187.4 497.5,187.4 497.0,187.3 496.5,187.3 496.0,187.2 495.5,187.2 495.0,187.2 494.5,187.1 494.0,187.1 493.5,187.0 493.0,187.0 492.5,186.9 492.0,186.9 491.5,186.8 491.0,186.8 490.5,186.7 490.0,186.7 489.5,186.6 489.0,186.6 488.5,186.6 488.0,186.5 487.5,186.5 487.0,186.4 486.5,186.4 486.0,186.3 485.5,186.3 485.0,186.2 484.5,186.2 484.0,186.1 483.5,186.1 483.0,186.0 482.5,186.0 482.0,186.0 481.5,185.9 481.0,185.9 480.5,185.8 480.0,185.8 479.5,185.7 479.0,185.7 478.5,185.6 478.0,185.6 477.5,185.5 477.0,185.5 476.5,185.4 476.0,185.4 475.5,185.4 475.0,185.3 474.5,185.3 474.0,185.2 473.5,185.2 473.0,185.1 472.5,185.1 472.0,185.0 471.5,185.0 471.0,184.9 470.5,184.9 470.0,184.9 469.5,184.8 469.0,184.7 468.5,184.6 468.0,184.5 467.5,184.5 467.0,184.4 466.5,184.3 466.0,184.2 465.5,184.1 465.0,184.1 464.5,184.0 464.0,183.9 463.5,183.8 463.0,183.8 462.5,183.7 462.0,183.6 461.5,183.5 461.0,183.4 460.5,183.4 460.0,183.3 459.5,183.2 459.0,183.1 458.5,183.0 458.0,183.0 457.5,182.9 457.0,182.8 456.5,182.7 456.0,182.7 455.5,182.6 455.0,182.5 454.5,182.4 454.0,182.3 453.5,182.3 453.0,182.2 452.5,182.1 452.0,182.0 451.5,182.0 451.0,181.9 450.5,181.8 450.0,181.7 449.5,181.6 449.0,181.6 448.5,181.5 448.0,181.4 447.5,181.3 447.0,181.2 446.5,181.2 446.0,181.1 445.5,181.0 445.0,180.9 444.5,180.9 444.0,180.8 443.5,180.7 443.0,180.6 442.5,180.5 442.0,180.5 441.5,180.4 441.0,180.3 440.5,180.2 440.0,180.2 439.5,180.1 439.0,180.0 438.5,180.0 438.0,179.9 437.5,179.9 437.0,179.8 436.5,179.8 436.0,179.7 435.5,179.7 435.0,179.6 434.5,179.6 434.0,179.5 433.5,179.5 433.0,179.4 432.5,179.4 432.0,179.3 431.5,179.3 431.0,179.2 430.5,179.1 430.0,179.1 429.5,179.0 429.0,179.0 428.5,178.9 428.0,178.9 427.5,178.8 427.0,178.8 426.5,178.7 426.0,178.7 425.5,178.6 425.0,178.6 424.5,178.5 424.0,178.5 423.5,178.4 423.0,178.4 422.5,178.3 422.0,178.2 421.5,178.2 421.0,178.1 420.5,178.1 420.0,178.0 419.5,178.0 419.0,177.9 418.5,177.9 418.0,177.8 417.5,177.8 417.0,177.7 416.5,177.7 416.0,177.6 415.5,177.6 415.0,177.5 414.5,177.5 414.0,177.4 413.5,177.3 413.0,177.3 412.5,177.2 412.0,177.2 411.5,177.1 411.0,177.1 410.5,177.0 410.0,177.0 409.5,176.9 409.0,176.8 408.5,176.8 408.0,176.7 407.5,176.6 407.0,176.6 406.5,176.5 406.0,176.4 405.5,176.4 405.0,176.3 404.5,176.2 404.0,176.2 403.5,176.1 403.0,176.0 402.5,176.0 402.0,175.9 401.5,175.8 401.0,175.8 400.5,175.7 400.0,175.6 399.5,175.6 399.0,175.5 398.5,175.4 398.0,175.4 397.5,175.3 397.0,175.2 396.5,175.2 396.0,175.1 395.5,175.0 395.0,175.0 394.5,174.9 394.0,174.8 393.5,174.8 393.0,174.7 392.5,174.6 392.0,174.6 391.5,174.5 391.0,174.4 390.5,174.4 390.0,174.3 389.5,174.2 389.0,174.2 388.5,174.1 388.0,174.0 387.5,174.0 387.0,173.9 386.5,173.8 386.0,173.7 385.5,173.7 385.0,173.6 384.5,173.5 384.0,173.5 383.5,173.4 383.0,173.3 382.5,173.3 382.0,173.2 381.5,173.1 381.0,173.1 380.5,173.0 380.0,172.9 379.5,172.8 379.0,172.6 378.5,172.5 378.0,172.4 377.5,172.2 377.0,172.1 376.5,171.9 376.0,171.8 375.5,171.6 375.0,171.5 374.5,171.3 374.0,171.2 373.5,171.0 373.0,170.9 372.5,170.7 372.0,170.6 371.5,170.4 371.0,170.3 370.5,170.2 370.0,170.0 369.5,169.9 369.0,169.7 368.5,169.6 368.0,169.4 367.5,169.3 367.0,169.1 366.5,169.0 366.0,168.8 365.5,168.7 365.0,168.5 364.5,168.4 364.0,168.2 363.5,168.1 363.0,167.9 362.5,167.7 362.0,167.5 361.5,167.3 361.0,167.1 360.5,167.0 360.0,166.8 359.5,166.6 359.0,166.4 358.5,166.2 358.0,166.0 357.5,165.7 357.0,165.4 356.5,165.0 356.0,164.7 355.5,164.3 355.0,164.0 354.5,163.7 354.0,163.3 353.5,163.0 353.0,162.7 352.5,162.3 352.0,162.0 351.5,161.6 351.0,161.3 350.5,161.0 350.0,160.6 349.5,160.0 349.0,159.4 348.5,158.7 348.0,158.1 347.5,157.5 347.0,156.8 346.5,156.2 346.0,155.7 345.5,155.3 345.0,154.8 344.5,154.4 344.0,153.9 343.5,153.0 343.0,152.2 342.5,150.9 342.0,148.7 341.5,146.6 341.0,145.4" fill="#b6b6b6"/>
<polygon points="341.3,80.0 341.8,91.7 342.3,103.3 342.8,110.8 343.3,115.5 343.8,120.1 344.3,123.0 344.8,124.6 345.3,126.2 345.8,127.8 346.3,129.4 346.8,130.6 347.3,131.6 347.8,132.6 348.3,133.6 348.8,134.6 349.3,135.6 349.8,136.6 350.3,137.2 350.8,137.6 351.3,138.0 351.8,138.4 352.3,138.7 352.8,139.1 353.3,139.5 353.8,139.9 354.3,140.2 354.8,140.6 355.3,141.0 355.8,141.4 356.3,141.7 356.8,142.1 357.3,142.5 357.8,142.9 358.3,143.2 358.8,143.6 359.3,144.0 359.8,144.4 360.3,144.7 360.8,145.1 361.3,145.5 361.8,145.9 362.3,146.2 362.8,146.6 363.3,147.0 363.8,147.4 364.3,147.7 364.8,148.0 365.3,148.4 365.8,148.7 366.3,149.0 366.8,149.3 367.3,149.7 367.8,150.0 368.3,150.3 368.8,150.7 369.3,151.0 369.8,151.3 370.3,151.6 370.8,152.0 371.3,152.3 371.8,152.6 372.3,152.9 372.8,153.3 373.3,153.6 373.8,153.9 374.3,154.3 374.8,154.6 375.3,154.9 375.8,155.2 376.3,155.6 376.8,155.9 377.3,156.2 377.8,156.6 378.3,156.9 378.8,157.2 379.3,157.5 379.8,157.9 380.3,158.1 380.8,158.1 381.3,158.2 381.8,158.3 382.3,158.4 382.8,158.5 383.3,158.6 383.8,158.7 384.3,158.8 384.8,158.9 385.3,159.0 385.8,159.1 386.3,159.2 386.8,159.3 387.3,159.4 387.8,159.5 388.3,159.5 388.8,159.6 389.3,159.7 389.8,159.8 390.3,159.9 390.8,160.0 391.3,160.1 391.8,160.2 392.3,160.3 392.8,160.4 393.3,160.5 393.8,160.6 394.3,160.7 394.8,160.8 395.3,160.9 395.8,160.9 396.3,161.0 396.8,161.1 397.3,161.2 397.8,161.3 398.3,161.4 398.8,161.5 399.3,161.6 399.8,161.7 400.3,161.8 400.8,161.9 401.3,162.0 401.8,162.1 402.3,162.2 402.8,162.3 403.3,162.3 403.8,162.4 404.3,162.5 404.8,162.6 405.3,162.7 405.8,162.8 406.3,162.9 406.8,163.0 407.3,163.1 407.8,163.2 408.3,163.3 408.8,163.4 409.3,163.5 409.8,163.6 410.3,163.7 410.8,163.7 411.3,163.8 411.8,163.9 412.3,164.0 412.8,164.1 413.3,164.2 413.8,164.3 414.3,164.4 414.8,164.5 415.3,164.6 415.8,164.6 416.3,164.7 416.8,164.8 417.3,164.9 417.8,165.0 418.3,165.1 418.8,165.2 419.3,165.3 419.8,165.4 420.3,165.5 420.8,165.5 421.3,165.6 421.8,165.7 422.3,165.8 422.8,165.9 423.3,166.0 423.8,166.1 424.3,166.2 424.8,166.3 425.3,166.4 425.8,166.4 426.3,166.5 426.8,166.6 427.3,166.7 427.8,166.8 428.3,166.9 428.8,167.0 429.3,167.1 429.8,167.2 430.3,167.3 430.8,167.3 431.3,167.4 431.8,167.5 432.3,167.6 432.8,167.7 433.3,167.8 433.8,167.9 434.3,168.0 434.8,168.1 435.3,168.2 435.8,168.2 436.3,168.3 436.8,168.4 437.3,168.5 437.8,168.6 438.3,168.7 438.8,168.8 439.3,168.9 439.8,169.0 440.3,169.1 440.8,169.2 441.3,169.3 441.8,169.4 442.3,169.6 442.8,169.7 443.3,169.8 443.8,169.9 444.3,170.1 444.8,170.2 445.3,170.3 445.8,170.4 446.3,170.6 446.8,170.7 447.3,170.8 447.8,171.0 448.3,171.1 448.8,171.2 449.3,171.3 449.8,171.4 450.3,171.6 450.8,171.7 451.3,171.8 451.8,171.9 452.3,172.1 452.8,172.2 453.3,172.3 453.8,172.4 454.3,172.6 454.8,172.7 455.3,172.8 455.8,172.9 456.3,173.1 456.8,173.2 457.3,173.3 457.8,173.4 458.3,173.6 458.8,173.7 459.3,173.8 459.8,173.9 460.3,174.1 460.8,174.2 461.3,174.3 461.8,174.4 462.3,174.6 462.8,174.7 463.3,174.8 463.8,174.9 464.3,175.1 464.8,175.2 465.3,175.3 465.8,175.4 466.3,175.6 466.8,175.7 467.3,175.8 467.8,175.9 468.3,176.1 468.8,176.2 469.3,176.3 469.8,176.4 470.3,176.6 470.8,176.7 471.3,176.9 471.8,177.0 472.3,177.1 472.8,177.3 473.3,177.4 473.8,177.5 474.3,177.7 474.8,177.8 475.3,177.9 475.8,178.1 476.3,178.2 476.8,178.4 477.3,178.5 477.8,178.6 478.3,178.8 478.8,178.9 479.3,179.0 479.8,179.2 480.3,179.3 480.8,179.5 481.3,179.6 481.8,179.7 482.3,179.9 482.8,180.0 483.3,180.1 483.8,180.3 484.3,180.4 484.8,180.5 485.3,180.7 485.8,180.8 486.3,181.0 486.8,181.1 487.3,181.2 487.8,181.4 488.3,181.5 488.8,181.6 489.3,181.8 489.8,181.9 490.3,182.0 490.8,182.2 491.3,182.3 491.8,182.5 492.3,182.6 492.8,182.7 493.3,182.9 493.8,183.0 494.3,183.1 494.8,183.3 495.3,183.4 495.8,183.6 496.3,183.7 496.8,183.8 497.3,184.0 497.8,184.1 498.3,184.2 498.8,184.4 499.3,184.5 499.8,184.6 500.3,184.9 500.8,185.2 501.3,185.5 501.8,185.8 502.3,186.1 502.8,186.5 503.3,186.8 503.3,187.6 502.8,187.5 502.3,187.5 501.8,187.5 501.3,187.4 500.8,187.4 500.3,187.3 499.8,187.3 499.3,187.2 498.8,187.1 498.3,187.1 497.8,187.0 497.3,187.0 496.8,186.9 496.3,186.8 495.8,186.8 495.3,186.7 494.8,186.6 494.3,186.6 493.8,186.5 493.3,186.5 492.8,186.4 492.3,186.3 491.8,186.3 491.3,186.2 490.8,186.1 490.3,186.1 489.8,186.0 489.3,185.9 488.8,185.9 488.3,185.8 487.8,185.8 487.3,185.7 486.8,185.6 486.3,185.6 485.8,185.5 485.3,185.4 484.8,185.4 484.3,185.3 483.8,185.2 483.3,185.2 482.8,185.1 482.3,185.1 481.8,185.0 481.3,184.9 480.8,184.9 480.3,184.8 479.8,184.7 479.3,184.7 478.8,184.6 478.3,184.6 477.8,184.5 477.3,184.4 476.8,184.4 476.3,184.3 475.8,184.2 475.3,184.2 474.8,184.1 474.3,184.0 473.8,184.0 473.3,183.9 472.8,183.9 472.3,183.8 471.8,183.7 471.3,183.7 470.8,183.6 470.3,183.5 469.8,183.5 469.3,183.3 468.8,183.2 468.3,183.1 467.8,183.0 467.3,182.9 466.8,182.8 466.3,182.7 465.8,182.6 465.3,182.5 464.8,182.4 464.3,182.3 463.8,182.2 463.3,182.0 462.8,181.9 462.3,181.8 461.8,181.7 461.3,181.6 460.8,181.5 460.3,181.4 459.8,181.3 459.3,181.2 458.8,181.1 458.3,181.0 457.8,180.9 457.3,180.7 456.8,180.6 456.3,180.5 455.8,180.4 455.3,180.3 454.8,180.2 454.3,180.1 453.8,180.0 453.3,179.9 452.8,179.8 452.3,179.7 451.8,179.6 451.3,179.4 450.8,179.3 450.3,179.2 449.8,179.1 449.3,179.0 448.8,178.9 448.3,178.8 447.8,178.7 447.3,178.6 446.8,178.5 446.3,178.4 445.8,178.3 445.3,178.1 444.8,178.0 444.3,177.9 443.8,177.8 443.3,177.7 442.8,177.6 442.3,177.5 441.8,177.4 441.3,177.3 440.8,177.2 440.3,177.1 439.8,177.0 439.3,176.9 438.8,176.8 438.3,176.7 437.8,176.7 437.3,176.6 436.8,176.5 436.3,176.4 435.8,176.3 435.3,176.3 434.8,176.2 434.3,176.1 433.8,176.0 433.3,176.0 432.8,175.9 432.3,175.8 431.8,175.7 431.3,175.6 430.8,175.6 430.3,175.5 429.8,175.4 429.3,175.3 428.8,175.2 428.3,175.2 427.8,175.1 427.3,175.0 426.8,174.9 426.3,174.9 425.8,174.8 425.3,174.7 424.8,174.6 424.3,174.5 423.8,174.5 423.3,174.4 422.8,174.3 422.3,174.2 421.8,174.1 421.3,174.1 420.8,174.0 420.3,173.9 419.8,173.8 419.3,173.8 418.8,173.7 418.3,173.6 417.8,173.5 417.3,173.4 416.8,173.4 416.3,173.3 415.8,173.2 415.3,173.1 414.8,173.1 414.3,173.0 413.8,172.9 413.3,172.8 412.8,172.7 412.3,172.7 411.8,172.6 411.3,172.5 410.8,172.4 410.3,172.3 409.8,172.3 409.3,172.2 408.8,172.2 408.3,172.1 407.8,172.0 407.3,172.0 406.8,171.9 406.3,171.9 405.8,171.8 405.3,171.8 404.8,171.7 404.3,171.6 403.8,171.6 403.3,171.5 402.8,171.5 402.3,171.4 401.8,171.3 401.3,171.3 400.8,171.2 400.3,171.2 399.8,171.1 399.3,171.1 398.8,171.0 398.3,170.9 397.8,170.9 397.3,170.8 396.8,170.8 396.3,170.7 395.8,170.6 395.3,170.6 394.8,170.5 394.3,170.5 393.8,170.4 393.3,170.4 392.8,170.3 392.3,170.2 391.8,170.2 391.3,170.1 390.8,170.1 390.3,170.0 389.8,169.9 389.3,169.9 388.8,169.8 388.3,169.8 387.8,169.7 387.3,169.7 386.8,169.6 386.3,169.5 385.8,169.5 385.3,169.4 384.8,169.4 384.3,169.3 383.8,169.2 383.3,169.2 382.8,169.1 382.3,169.1 381.8,169.0 381.3,169.0 380.8,168.9 380.3,168.8 379.8,168.7 379.3,168.5 378.8,168.4 378.3,168.2 377.8,168.0 377.3,167.8 376.8,167.6 376.3,167.5 375.8,167.3 375.3,167.1 374.8,166.9 374.3,166.7 373.8,166.6 373.3,166.4 372.8,166.2 372.3,166.0 371.8,165.8 371.3,165.6 370.8,165.5 370.3,165.3 369.8,165.1 369.3,164.9 368.8,164.7 368.3,164.6 367.8,164.4 367.3,164.2 366.8,164.0 366.3,163.8 365.8,163.7 365.3,163.5 364.8,163.3 364.3,163.1 363.8,162.9 363.3,162.7 362.8,162.4 362.3,162.2 361.8,161.9 361.3,161.7 360.8,161.4 360.3,161.2 359.8,160.9 359.3,160.7 358.8,160.4 358.3,160.2 357.8,159.9 357.3,159.6 356.8,159.2 356.3,158.9 355.8,158.6 355.3,158.3 354.8,158.0 354.3,157.7 353.8,157.4 353.3,157.1 352.8,156.8 352.3,156.4 351.8,156.1 351.3,155.8 350.8,155.5 350.3,155.2 349.8,154.7 349.3,153.8 348.8,152.9 348.3,152.1 347.8,151.2 347.3,150.4 346.8,149.5 346.3,148.8 345.8,148.2 345.3,147.6 344.8,147.0 344.3,146.4 343.8,145.5 343.3,144.1 342.8,142.8 342.3,140.8 341.8,137.9 341.3,135.0" fill="#8f8f8f"/>
<g><rect x="393.6" y="162.0" width="0.8" height="0.7" fill="#a4a4a4"/><rect x="353.2" y="148.8" width="0.8" height="0.7" fill="#848484"/><rect x="435.3" y="175.5" width="0.8" height="0.7" fill="#9c9c9c"/><rect x="347.5" y="140.2" width="0.8" height="0.7" fill="#a4a4a4"/><rect x="380.2" y="164.0" width="0.8" height="0.7" fill="#a4a4a4"/><rect x="474.6" y="178.5" width="0.8" height="0.7" fill="#9c9c9c"/><rect x="443.0" y="174.4" width="0.8" height="0.7" fill="#a4a4a4"/><rect x="434.4" y="171.2" width="0.8" height="0.7" fill="#9c9c9c"/><rect x="349.0" y="150.7" width="0.8" height="0.7" fill="#848484"/><rect x="409.0" y="168.2" width="0.8" height="0.7" fill="#848484"/><rect x="431.7" y="173.1" width="0.8" height="0.7" fill="#a4a4a4"/><rect x="435.1" y="173.3" width="0.8" height="0.7" fill="#848484"/><rect x="357.2" y="154.6" width="0.8" height="0.7" fill="#a4a4a4"/><rect x="441.2" y="173.2" width="0.8" height="0.7" fill="#b0b0b0"/><rect x="466.6" y="179.0" width="0.8" height="0.7" fill="#b0b0b0"/><rect x="399.7" y="164.0" width="0.8" height="0.7" fill="#9c9c9c"/><rect x="454.0" y="174.3" width="0.8" height="0.7" fill="#848484"/><rect x="426.1" y="173.8" width="0.8" height="0.7" fill="#b0b0b0"/><rect x="387.9" y="169.5" width="0.8" height="0.7" fill="#a4a4a4"/><rect x="423.9" y="167.5" width="0.8" height="0.7" fill="#848484"/><rect x="366.0" y="156.1" width="0.8" height="0.7" fill="#a4a4a4"/><rect x="496.4" y="184.0" width="0.8" height="0.7" fill="#848484"/><rect x="396.3" y="164.4" width="0.8" height="0.7" fill="#b0b0b0"/><rect x="434.9" y="171.8" width="0.8" height="0.7" fill="#a4a4a4"/><rect x="493.6" y="184.6" width="0.8" height="0.7" fill="#a4a4a4"/><rect x="351.3" y="150.5" width="0.8" height="0.7" fill="#b0b0b0"/><rect x="387.3" y="163.3" width="0.8" height="0.7" fill="#848484"/><rect x="345.1" y="135.7" width="0.8" height="0.7" fill="#9c9c9c"/><rect x="439.9" y="172.9" width="0.8" height="0.7" fill="#9c9c9c"/><rect x="465.2" y="176.2" width="0.8" height="0.7" fill="#9c9c9c"/><rect x="405.6" y="171.0" width="0.8" height="0.7" fill="#b0b0b0"/><rect x="354.5" y="148.2" width="0.8" height="0.7" fill="#848484"/><rect x="483.7" y="184.3" width="0.8" height="0.7" fill="#848484"/><rect x="455.2" y="180.2" width="0.8" height="0.7" fill="#b0b0b0"/><rect x="495.7" y="184.0" width="0.8" height="0.7" fill="#9c9c9c"/><rect x="365.9" y="158.6" width="0.8" height="0.7" fill="#a4a4a4"/><rect x="419.6" y="170.3" width="0.8" height="0.7" fill="#848484"/><rect x="386.9" y="160.8" width="0.8" height="0.7" fill="#848484"/><rect x="439.7" y="171.5" width="0.8" height="0.7" fill="#9c9c9c"/><rect x="452.7" y="176.1" width="0.8" height="0.7" fill="#a4a4a4"/><rect x="415.0" y="172.0" width="0.8" height="0.7" fill="#b0b0b0"/><rect x="405.6" y="166.3" width="0.8" height="0.7" fill="#b0b0b0"/><rect x="443.6" y="170.4" width="0.8" height="0.7" fill="#a4a4a4"/><rect x="500.0" y="185.9" width="0.8" height="0.7" fill="#a4a4a4"/><rect x="396.2" y="161.5" width="0.8" height="0.7" fill="#a4a4a4"/><rect x="432.8" y="172.1" width="0.8" height="0.7" fill="#848484"/><rect x="440.3" y="169.6" width="0.8" height="0.7" fill="#9c9c9c"/><rect x="440.4" y="170.3" width="0.8" height="0.7" fill="#848484"/><rect x="495.3" y="185.4" width="0.8" height="0.7" fill="#b0b0b0"/><rect x="361.3" y="159.2" width="0.8" height="0.7" fill="#b0b0b0"/><rect x="418.8" y="167.8" width="0.8" height="0.7" fill="#9c9c9c"/><rect x="358.0" y="148.8" width="0.8" height="0.7" fill="#848484"/><rect x="418.6" y="171.0" width="0.8" height="0.7" fill="#a4a4a4"/><rect x="374.5" y="166.2" width="0.8" height="0.7" fill="#848484"/><rect x="365.1" y="156.5" width="0.8" height="0.7" fill="#a4a4a4"/><rect x="463.6" y="177.0" width="0.8" height="0.7" fill="#a4a4a4"/><rect x="453.6" y="174.4" width="0.8" height="0.7" fill="#848484"/><rect x="487.7" y="182.9" width="0.8" height="0.7" fill="#9c9c9c"/><rect x="427.2" y="173.2" width="0.8" height="0.7" fill="#848484"/><rect x="444.0" y="174.8" width="0.8" height="0.7" fill="#9c9c9c"/><rect x="471.3" y="182.4" width="0.8" height="0.7" fill="#9c9c9c"/><rect x="373.7" y="160.1" width="0.8" height="0.7" fill="#a4a4a4"/><rect x="500.8" y="186.9" width="0.8" height="0.7" fill="#b0b0b0"/><rect x="383.2" y="165.9" width="0.8" height="0.7" fill="#848484"/><rect x="413.5" y="172.3" width="0.8" height="0.7" fill="#848484"/><rect x="495.3" y="184.6" width="0.8" height="0.7" fill="#9c9c9c"/><rect x="357.9" y="151.0" width="0.8" height="0.7" fill="#848484"/><rect x="374.4" y="162.1" width="0.8" height="0.7" fill="#a4a4a4"/><rect x="418.7" y="170.7" width="0.8" height="0.7" fill="#a4a4a4"/><rect x="475.9" y="178.8" width="0.8" height="0.7" fill="#b0b0b0"/><rect x="467.5" y="181.2" width="0.8" height="0.7" fill="#b0b0b0"/><rect x="484.6" y="182.6" width="0.8" height="0.7" fill="#848484"/><rect x="355.5" y="157.5" width="0.8" height="0.7" fill="#b0b0b0"/><rect x="416.1" y="171.1" width="0.8" height="0.7" fill="#a4a4a4"/><rect x="458.2" y="174.8" width="0.8" height="0.7" fill="#9c9c9c"/><rect x="345.9" y="140.1" width="0.8" height="0.7" fill="#b0b0b0"/><rect x="471.3" y="177.9" width="0.8" height="0.7" fill="#b0b0b0"/><rect x="447.3" y="173.5" width="0.8" height="0.7" fill="#9c9c9c"/><rect x="344.9" y="142.7" width="0.8" height="0.7" fill="#a4a4a4"/><rect x="426.3" y="174.3" width="0.8" height="0.7" fill="#b0b0b0"/><rect x="500.3" y="185.4" width="0.8" height="0.7" fill="#9c9c9c"/><rect x="346.0" y="132.7" width="0.8" height="0.7" fill="#9c9c9c"/><rect x="464.5" y="177.5" width="0.8" height="0.7" fill="#b0b0b0"/><rect x="475.8" y="178.5" width="0.8" height="0.7" fill="#848484"/><rect x="486.0" y="184.0" width="0.8" height="0.7" fill="#b0b0b0"/><rect x="474.7" y="183.3" width="0.8" height="0.7" fill="#9c9c9c"/><rect x="427.1" y="171.0" width="0.8" height="0.7" fill="#a4a4a4"/><rect x="482.0" y="183.9" width="0.8" height="0.7" fill="#a4a4a4"/><rect x="466.4" y="176.7" width="0.8" height="0.7" fill="#9c9c9c"/><rect x="417.7" y="171.2" width="0.8" height="0.7" fill="#a4a4a4"/><rect x="394.0" y="165.7" width="0.8" height="0.7" fill="#b0b0b0"/><rect x="467.8" y="176.7" width="0.8" height="0.7" fill="#a4a4a4"/><rect x="381.5" y="161.2" width="0.8" height="0.7" fill="#a4a4a4"/><rect x="423.2" y="170.7" width="0.8" height="0.7" fill="#a4a4a4"/><rect x="412.9" y="169.4" width="0.8" height="0.7" fill="#9c9c9c"/><rect x="453.0" y="175.7" width="0.8" height="0.7" fill="#b0b0b0"/><rect x="423.2" y="168.1" width="0.8" height="0.7" fill="#848484"/><rect x="490.1" y="185.6" width="0.8" height="0.7" fill="#9c9c9c"/><rect x="476.7" y="179.2" width="0.8" height="0.7" fill="#a4a4a4"/><rect x="404.7" y="165.5" width="0.8" height="0.7" fill="#9c9c9c"/><rect x="410.5" y="165.5" width="0.8" height="0.7" fill="#848484"/><rect x="467.7" y="182.3" width="0.8" height="0.7" fill="#9c9c9c"/><rect x="492.8" y="185.1" width="0.8" height="0.7" fill="#848484"/><rect x="364.5" y="161.4" width="0.8" height="0.7" fill="#b0b0b0"/><rect x="376.9" y="167.1" width="0.8" height="0.7" fill="#b0b0b0"/><rect x="484.0" y="181.1" width="0.8" height="0.7" fill="#9c9c9c"/><rect x="367.5" y="156.0" width="0.8" height="0.7" fill="#b0b0b0"/><rect x="396.1" y="162.9" width="0.8" height="0.7" fill="#848484"/><rect x="356.3" y="148.1" width="0.8" height="0.7" fill="#848484"/><rect x="430.7" y="170.9" width="0.8" height="0.7" fill="#a4a4a4"/><rect x="403.4" y="167.1" width="0.8" height="0.7" fill="#848484"/><rect x="424.0" y="166.7" width="0.8" height="0.7" fill="#9c9c9c"/><rect x="497.9" y="184.4" width="0.8" height="0.7" fill="#848484"/><rect x="385.3" y="168.4" width="0.8" height="0.7" fill="#9c9c9c"/><rect x="385.0" y="160.3" width="0.8" height="0.7" fill="#b0b0b0"/><rect x="478.3" y="182.7" width="0.8" height="0.7" fill="#848484"/><rect x="406.9" y="167.8" width="0.8" height="0.7" fill="#b0b0b0"/><rect x="454.3" y="173.2" width="0.8" height="0.7" fill="#a4a4a4"/><rect x="470.2" y="177.8" width="0.8" height="0.7" fill="#a4a4a4"/><rect x="384.8" y="159.1" width="0.8" height="0.7" fill="#a4a4a4"/><rect x="470.6" y="177.2" width="0.8" height="0.7" fill="#9c9c9c"/><rect x="352.2" y="154.0" width="0.8" height="0.7" fill="#b0b0b0"/><rect x="343.4" y="144.1" width="0.8" height="0.7" fill="#b0b0b0"/><rect x="490.7" y="183.2" width="0.8" height="0.7" fill="#9c9c9c"/><rect x="348.5" y="147.0" width="0.8" height="0.7" fill="#a4a4a4"/><rect x="497.5" y="184.8" width="0.8" height="0.7" fill="#9c9c9c"/><rect x="374.0" y="158.0" width="0.8" height="0.7" fill="#848484"/><rect x="427.0" y="168.4" width="0.8" height="0.7" fill="#b0b0b0"/><rect x="422.0" y="167.3" width="0.8" height="0.7" fill="#848484"/><rect x="470.9" y="183.6" width="0.8" height="0.7" fill="#a4a4a4"/><rect x="344.0" y="139.5" width="0.8" height="0.7" fill="#9c9c9c"/><rect x="424.3" y="168.2" width="0.8" height="0.7" fill="#b0b0b0"/><rect x="358.6" y="157.3" width="0.8" height="0.7" fill="#b0b0b0"/><rect x="447.2" y="175.0" width="0.8" height="0.7" fill="#b0b0b0"/><rect x="497.7" y="185.0" width="0.8" height="0.7" fill="#9c9c9c"/><rect x="499.7" y="185.5" width="0.8" height="0.7" fill="#9c9c9c"/><rect x="406.7" y="166.1" width="0.8" height="0.7" fill="#a4a4a4"/><rect x="476.3" y="178.3" width="0.8" height="0.7" fill="#848484"/><rect x="410.8" y="164.2" width="0.8" height="0.7" fill="#b0b0b0"/><rect x="481.7" y="183.2" width="0.8" height="0.7" fill="#848484"/><rect x="437.9" y="174.2" width="0.8" height="0.7" fill="#a4a4a4"/><rect x="415.5" y="165.9" width="0.8" height="0.7" fill="#b0b0b0"/><rect x="342.1" y="113.3" width="0.8" height="0.7" fill="#848484"/><rect x="498.1" y="185.8" width="0.8" height="0.7" fill="#9c9c9c"/><rect x="347.0" y="147.7" width="0.8" height="0.7" fill="#9c9c9c"/><rect x="398.9" y="161.5" width="0.8" height="0.7" fill="#b0b0b0"/><rect x="355.0" y="145.6" width="0.8" height="0.7" fill="#9c9c9c"/><rect x="381.5" y="166.6" width="0.8" height="0.7" fill="#a4a4a4"/><rect x="384.0" y="159.7" width="0.8" height="0.7" fill="#b0b0b0"/><rect x="436.0" y="171.5" width="0.8" height="0.7" fill="#848484"/><rect x="390.5" y="162.3" width="0.8" height="0.7" fill="#9c9c9c"/><rect x="447.4" y="176.4" width="0.8" height="0.7" fill="#b0b0b0"/><rect x="464.6" y="180.3" width="0.8" height="0.7" fill="#b0b0b0"/><rect x="365.6" y="159.4" width="0.8" height="0.7" fill="#9c9c9c"/><rect x="348.5" y="149.5" width="0.8" height="0.7" fill="#b0b0b0"/><rect x="459.7" y="179.9" width="0.8" height="0.7" fill="#9c9c9c"/><rect x="488.0" y="184.7" width="0.8" height="0.7" fill="#a4a4a4"/><rect x="474.6" y="181.4" width="0.8" height="0.7" fill="#9c9c9c"/><rect x="355.2" y="141.6" width="0.8" height="0.7" fill="#848484"/><rect x="496.0" y="184.8" width="0.8" height="0.7" fill="#b0b0b0"/><rect x="431.4" y="172.6" width="0.8" height="0.7" fill="#9c9c9c"/><rect x="420.3" y="165.5" width="0.8" height="0.7" fill="#a4a4a4"/><rect x="462.0" y="178.1" width="0.8" height="0.7" fill="#a4a4a4"/><rect x="447.6" y="171.4" width="0.8" height="0.7" fill="#b0b0b0"/><rect x="382.1" y="159.2" width="0.8" height="0.7" fill="#848484"/><rect x="379.3" y="165.9" width="0.8" height="0.7" fill="#9c9c9c"/><rect x="460.6" y="181.3" width="0.8" height="0.7" fill="#b0b0b0"/><rect x="477.6" y="179.0" width="0.8" height="0.7" fill="#848484"/><rect x="465.0" y="179.7" width="0.8" height="0.7" fill="#9c9c9c"/><rect x="354.0" y="142.6" width="0.8" height="0.7" fill="#848484"/><rect x="446.4" y="176.0" width="0.8" height="0.7" fill="#9c9c9c"/><rect x="343.5" y="119.1" width="0.8" height="0.7" fill="#848484"/><rect x="498.1" y="184.5" width="0.8" height="0.7" fill="#9c9c9c"/><rect x="450.3" y="173.8" width="0.8" height="0.7" fill="#848484"/><rect x="416.3" y="168.7" width="0.8" height="0.7" fill="#a4a4a4"/><rect x="501.4" y="186.6" width="0.8" height="0.7" fill="#848484"/><rect x="499.0" y="187.0" width="0.8" height="0.7" fill="#a4a4a4"/><rect x="388.1" y="160.3" width="0.8" height="0.7" fill="#b0b0b0"/><rect x="501.5" y="186.3" width="0.8" height="0.7" fill="#9c9c9c"/><rect x="353.5" y="141.2" width="0.8" height="0.7" fill="#848484"/><rect x="494.9" y="183.7" width="0.8" height="0.7" fill="#848484"/><rect x="484.3" y="183.9" width="0.8" height="0.7" fill="#9c9c9c"/><rect x="421.7" y="173.1" width="0.8" height="0.7" fill="#b0b0b0"/><rect x="345.5" y="126.9" width="0.8" height="0.7" fill="#b0b0b0"/><rect x="451.2" y="174.9" width="0.8" height="0.7" fill="#9c9c9c"/><rect x="408.5" y="166.6" width="0.8" height="0.7" fill="#a4a4a4"/><rect x="476.8" y="178.4" width="0.8" height="0.7" fill="#848484"/><rect x="476.6" y="179.0" width="0.8" height="0.7" fill="#9c9c9c"/><rect x="456.3" y="179.8" width="0.8" height="0.7" fill="#848484"/><rect x="382.3" y="159.1" width="0.8" height="0.7" fill="#b0b0b0"/><rect x="502.3" y="186.9" width="0.8" height="0.7" fill="#848484"/><rect x="490.5" y="185.1" width="0.8" height="0.7" fill="#a4a4a4"/><rect x="386.7" y="159.8" width="0.8" height="0.7" fill="#848484"/><rect x="443.7" y="171.1" width="0.8" height="0.7" fill="#848484"/><rect x="411.7" y="166.6" width="0.8" height="0.7" fill="#848484"/><rect x="467.9" y="179.0" width="0.8" height="0.7" fill="#a4a4a4"/><rect x="472.2" y="181.3" width="0.8" height="0.7" fill="#9c9c9c"/><rect x="457.4" y="173.7" width="0.8" height="0.7" fill="#b0b0b0"/><rect x="414.1" y="170.8" width="0.8" height="0.7" fill="#848484"/><rect x="419.7" y="173.1" width="0.8" height="0.7" fill="#9c9c9c"/><rect x="369.0" y="156.6" width="0.8" height="0.7" fill="#848484"/><rect x="389.4" y="167.3" width="0.8" height="0.7" fill="#848484"/><rect x="406.9" y="165.1" width="0.8" height="0.7" fill="#b0b0b0"/><rect x="431.2" y="170.7" width="0.8" height="0.7" fill="#9c9c9c"/><rect x="445.1" y="170.9" width="0.8" height="0.7" fill="#b0b0b0"/><rect x="430.1" y="170.9" width="0.8" height="0.7" fill="#848484"/><rect x="501.9" y="186.6" width="0.8" height="0.7" fill="#9c9c9c"/><rect x="429.7" y="169.2" width="0.8" height="0.7" fill="#9c9c9c"/><rect x="396.6" y="162.0" width="0.8" height="0.7" fill="#9c9c9c"/><rect x="400.8" y="169.4" width="0.8" height="0.7" fill="#9c9c9c"/><rect x="484.3" y="184.1" width="0.8" height="0.7" fill="#b0b0b0"/><rect x="403.1" y="169.2" width="0.8" height="0.7" fill="#9c9c9c"/><rect x="402.2" y="165.3" width="0.8" height="0.7" fill="#a4a4a4"/><rect x="421.7" y="170.5" width="0.8" height="0.7" fill="#848484"/><rect x="361.8" y="153.9" width="0.8" height="0.7" fill="#9c9c9c"/><rect x="356.4" y="157.2" width="0.8" height="0.7" fill="#b0b0b0"/><rect x="405.9" y="166.8" width="0.8" height="0.7" fill="#848484"/><rect x="478.1" y="183.8" width="0.8" height="0.7" fill="#a4a4a4"/><rect x="362.0" y="152.8" width="0.8" height="0.7" fill="#b0b0b0"/><rect x="497.4" y="185.4" width="0.8" height="0.7" fill="#a4a4a4"/><rect x="404.5" y="171.0" width="0.8" height="0.7" fill="#b0b0b0"/><rect x="498.0" y="184.9" width="0.8" height="0.7" fill="#a4a4a4"/><rect x="377.5" y="158.1" width="0.8" height="0.7" fill="#a4a4a4"/><rect x="493.1" y="185.4" width="0.8" height="0.7" fill="#b0b0b0"/><rect x="355.2" y="154.4" width="0.8" height="0.7" fill="#a4a4a4"/><rect x="467.5" y="177.5" width="0.8" height="0.7" fill="#a4a4a4"/><rect x="445.4" y="172.7" width="0.8" height="0.7" fill="#9c9c9c"/><rect x="442.4" y="173.8" width="0.8" height="0.7" fill="#b0b0b0"/><rect x="454.0" y="173.3" width="0.8" height="0.7" fill="#a4a4a4"/><rect x="389.9" y="169.4" width="0.8" height="0.7" fill="#9c9c9c"/><rect x="404.0" y="164.5" width="0.8" height="0.7" fill="#a4a4a4"/><rect x="343.2" y="123.3" width="0.8" height="0.7" fill="#b0b0b0"/><rect x="386.4" y="162.5" width="0.8" height="0.7" fill="#9c9c9c"/><rect x="418.0" y="167.0" width="0.8" height="0.7" fill="#9c9c9c"/><rect x="346.2" y="137.1" width="0.8" height="0.7" fill="#848484"/><rect x="350.4" y="140.8" width="0.8" height="0.7" fill="#b0b0b0"/><rect x="354.6" y="144.4" width="0.8" height="0.7" fill="#b0b0b0"/><rect x="490.5" y="183.0" width="0.8" height="0.7" fill="#a4a4a4"/><rect x="453.5" y="177.8" width="0.8" height="0.7" fill="#848484"/><rect x="451.4" y="173.4" width="0.8" height="0.7" fill="#848484"/><rect x="460.5" y="177.8" width="0.8" height="0.7" fill="#9c9c9c"/><rect x="421.3" y="167.3" width="0.8" height="0.7" fill="#9c9c9c"/><rect x="378.7" y="159.6" width="0.8" height="0.7" fill="#848484"/><rect x="359.1" y="154.2" width="0.8" height="0.7" fill="#9c9c9c"/><rect x="485.8" y="183.1" width="0.8" height="0.7" fill="#a4a4a4"/><rect x="494.3" y="183.6" width="0.8" height="0.7" fill="#b0b0b0"/><rect x="350.3" y="137.6" width="0.8" height="0.7" fill="#9c9c9c"/><rect x="408.4" y="169.6" width="0.8" height="0.7" fill="#9c9c9c"/><rect x="404.8" y="170.8" width="0.8" height="0.7" fill="#848484"/><rect x="459.5" y="181.2" width="0.8" height="0.7" fill="#9c9c9c"/><rect x="394.5" y="162.5" width="0.8" height="0.7" fill="#b0b0b0"/><rect x="346.6" y="142.9" width="0.8" height="0.7" fill="#b0b0b0"/><rect x="476.6" y="184.2" width="0.8" height="0.7" fill="#b0b0b0"/><rect x="368.8" y="150.7" width="0.8" height="0.7" fill="#848484"/><rect x="354.5" y="147.7" width="0.8" height="0.7" fill="#a4a4a4"/><rect x="431.8" y="173.7" width="0.8" height="0.7" fill="#b0b0b0"/><rect x="398.9" y="169.3" width="0.8" height="0.7" fill="#b0b0b0"/><rect x="355.6" y="153.4" width="0.8" height="0.7" fill="#9c9c9c"/><rect x="401.5" y="170.6" width="0.8" height="0.7" fill="#9c9c9c"/><rect x="393.6" y="167.8" width="0.8" height="0.7" fill="#b0b0b0"/><rect x="346.4" y="137.5" width="0.8" height="0.7" fill="#b0b0b0"/><rect x="348.0" y="133.7" width="0.8" height="0.7" fill="#a4a4a4"/><rect x="470.8" y="177.2" width="0.8" height="0.7" fill="#9c9c9c"/><rect x="461.8" y="181.0" width="0.8" height="0.7" fill="#848484"/><rect x="399.9" y="164.9" width="0.8" height="0.7" fill="#a4a4a4"/><rect x="383.7" y="166.2" width="0.8" height="0.7" fill="#848484"/><rect x="490.3" y="183.2" width="0.8" height="0.7" fill="#a4a4a4"/><rect x="345.4" y="131.5" width="0.8" height="0.7" fill="#b0b0b0"/><rect x="456.7" y="176.6" width="0.8" height="0.7" fill="#b0b0b0"/><rect x="468.7" y="182.6" width="0.8" height="0.7" fill="#b0b0b0"/><rect x="362.9" y="154.5" width="0.8" height="0.7" fill="#a4a4a4"/><rect x="470.7" y="181.8" width="0.8" height="0.7" fill="#9c9c9c"/><rect x="439.3" y="171.5" width="0.8" height="0.7" fill="#848484"/><rect x="415.7" y="171.3" width="0.8" height="0.7" fill="#a4a4a4"/><rect x="423.9" y="169.4" width="0.8" height="0.7" fill="#9c9c9c"/><rect x="381.3" y="158.9" width="0.8" height="0.7" fill="#a4a4a4"/><rect x="419.1" y="169.9" width="0.8" height="0.7" fill="#9c9c9c"/><rect x="499.3" y="186.9" width="0.8" height="0.7" fill="#a4a4a4"/><rect x="384.1" y="159.7" width="0.8" height="0.7" fill="#a4a4a4"/><rect x="409.3" y="172.1" width="0.8" height="0.7" fill="#b0b0b0"/><rect x="369.4" y="152.9" width="0.8" height="0.7" fill="#b0b0b0"/><rect x="441.4" y="174.7" width="0.8" height="0.7" fill="#a4a4a4"/><rect x="467.0" y="177.8" width="0.8" height="0.7" fill="#848484"/><rect x="432.8" y="170.7" width="0.8" height="0.7" fill="#848484"/><rect x="373.6" y="156.9" width="0.8" height="0.7" fill="#9c9c9c"/><rect x="379.4" y="160.7" width="0.8" height="0.7" fill="#9c9c9c"/><rect x="394.0" y="164.5" width="0.8" height="0.7" fill="#9c9c9c"/><rect x="423.2" y="167.9" width="0.8" height="0.7" fill="#a4a4a4"/><rect x="446.7" y="178.4" width="0.8" height="0.7" fill="#a4a4a4"/><rect x="342.2" y="135.8" width="0.8" height="0.7" fill="#9c9c9c"/><rect x="476.8" y="183.9" width="0.8" height="0.7" fill="#a4a4a4"/><rect x="482.7" y="181.2" width="0.8" height="0.7" fill="#a4a4a4"/><rect x="372.0" y="165.6" width="0.8" height="0.7" fill="#9c9c9c"/><rect x="491.3" y="183.8" width="0.8" height="0.7" fill="#9c9c9c"/><rect x="413.8" y="166.5" width="0.8" height="0.7" fill="#a4a4a4"/><rect x="358.5" y="153.5" width="0.8" height="0.7" fill="#848484"/><rect x="376.5" y="160.1" width="0.8" height="0.7" fill="#9c9c9c"/><rect x="348.6" y="152.6" width="0.8" height="0.7" fill="#a4a4a4"/><rect x="438.0" y="173.9" width="0.8" height="0.7" fill="#9c9c9c"/><rect x="472.7" y="182.6" width="0.8" height="0.7" fill="#b0b0b0"/><rect x="450.7" y="173.1" width="0.8" height="0.7" fill="#848484"/><rect x="354.0" y="140.6" width="0.8" height="0.7" fill="#b0b0b0"/><rect x="429.7" y="167.7" width="0.8" height="0.7" fill="#a4a4a4"/><rect x="469.6" y="181.1" width="0.8" height="0.7" fill="#9c9c9c"/><rect x="444.4" y="170.8" width="0.8" height="0.7" fill="#9c9c9c"/><rect x="405.5" y="165.2" width="0.8" height="0.7" fill="#848484"/><rect x="449.0" y="174.5" width="0.8" height="0.7" fill="#a4a4a4"/><rect x="391.8" y="165.9" width="0.8" height="0.7" fill="#848484"/><rect x="408.2" y="163.4" width="0.8" height="0.7" fill="#848484"/><rect x="445.3" y="173.4" width="0.8" height="0.7" fill="#b0b0b0"/><rect x="374.3" y="154.3" width="0.8" height="0.7" fill="#9c9c9c"/><rect x="409.7" y="170.7" width="0.8" height="0.7" fill="#b0b0b0"/><rect x="434.5" y="171.0" width="0.8" height="0.7" fill="#9c9c9c"/><rect x="362.4" y="147.1" width="0.8" height="0.7" fill="#9c9c9c"/><rect x="444.6" y="177.3" width="0.8" height="0.7" fill="#a4a4a4"/><rect x="433.7" y="175.4" width="0.8" height="0.7" fill="#9c9c9c"/><rect x="365.0" y="152.5" width="0.8" height="0.7" fill="#9c9c9c"/><rect x="490.5" y="182.5" width="0.8" height="0.7" fill="#b0b0b0"/><rect x="462.8" y="180.4" width="0.8" height="0.7" fill="#9c9c9c"/><rect x="390.1" y="168.3" width="0.8" height="0.7" fill="#a4a4a4"/><rect x="498.6" y="185.7" width="0.8" height="0.7" fill="#a4a4a4"/><rect x="439.3" y="174.0" width="0.8" height="0.7" fill="#a4a4a4"/><rect x="487.1" y="184.0" width="0.8" height="0.7" fill="#9c9c9c"/><rect x="444.6" y="176.9" width="0.8" height="0.7" fill="#b0b0b0"/><rect x="440.5" y="170.7" width="0.8" height="0.7" fill="#b0b0b0"/><rect x="371.0" y="155.0" width="0.8" height="0.7" fill="#b0b0b0"/><rect x="492.6" y="183.3" width="0.8" height="0.7" fill="#848484"/><rect x="361.3" y="149.5" width="0.8" height="0.7" fill="#9c9c9c"/><rect x="348.1" y="143.7" width="0.8" height="0.7" fill="#a4a4a4"/><rect x="449.0" y="173.8" width="0.8" height="0.7" fill="#b0b0b0"/><rect x="438.0" y="173.1" width="0.8" height="0.7" fill="#848484"/><rect x="446.0" y="172.9" width="0.8" height="0.7" fill="#9c9c9c"/><rect x="410.0" y="169.3" width="0.8" height="0.7" fill="#b0b0b0"/><rect x="422.6" y="167.4" width="0.8" height="0.7" fill="#a4a4a4"/><rect x="441.1" y="173.2" width="0.8" height="0.7" fill="#9c9c9c"/><rect x="413.4" y="169.6" width="0.8" height="0.7" fill="#b0b0b0"/><rect x="476.2" y="183.1" width="0.8" height="0.7" fill="#b0b0b0"/><rect x="358.7" y="145.7" width="0.8" height="0.7" fill="#b0b0b0"/><rect x="400.3" y="169.3" width="0.8" height="0.7" fill="#a4a4a4"/><rect x="348.0" y="135.5" width="0.8" height="0.7" fill="#848484"/><rect x="466.7" y="179.3" width="0.8" height="0.7" fill="#a4a4a4"/><rect x="462.6" y="181.1" width="0.8" height="0.7" fill="#9c9c9c"/><rect x="345.7" y="128.7" width="0.8" height="0.7" fill="#a4a4a4"/><rect x="372.7" y="165.9" width="0.8" height="0.7" fill="#b0b0b0"/><rect x="387.8" y="167.8" width="0.8" height="0.7" fill="#9c9c9c"/><rect x="452.0" y="177.5" width="0.8" height="0.7" fill="#9c9c9c"/><rect x="352.0" y="144.8" width="0.8" height="0.7" fill="#848484"/><rect x="367.1" y="162.6" width="0.8" height="0.7" fill="#848484"/><rect x="487.2" y="183.2" width="0.8" height="0.7" fill="#848484"/><rect x="422.4" y="173.6" width="0.8" height="0.7" fill="#9c9c9c"/><rect x="436.8" y="173.4" width="0.8" height="0.7" fill="#9c9c9c"/><rect x="392.9" y="160.8" width="0.8" height="0.7" fill="#9c9c9c"/><rect x="406.5" y="168.6" width="0.8" height="0.7" fill="#848484"/><rect x="450.9" y="178.6" width="0.8" height="0.7" fill="#9c9c9c"/><rect x="469.0" y="178.1" width="0.8" height="0.7" fill="#a4a4a4"/><rect x="443.9" y="172.8" width="0.8" height="0.7" fill="#b0b0b0"/><rect x="430.9" y="172.1" width="0.8" height="0.7" fill="#a4a4a4"/><rect x="382.1" y="164.1" width="0.8" height="0.7" fill="#b0b0b0"/><rect x="460.3" y="176.8" width="0.8" height="0.7" fill="#b0b0b0"/><rect x="501.0" y="186.5" width="0.8" height="0.7" fill="#848484"/><rect x="394.8" y="161.6" width="0.8" height="0.7" fill="#9c9c9c"/><rect x="370.0" y="161.6" width="0.8" height="0.7" fill="#a4a4a4"/><rect x="389.2" y="165.0" width="0.8" height="0.7" fill="#848484"/><rect x="444.4" y="177.8" width="0.8" height="0.7" fill="#848484"/><rect x="459.5" y="179.4" width="0.8" height="0.7" fill="#9c9c9c"/><rect x="365.5" y="157.8" width="0.8" height="0.7" fill="#b0b0b0"/><rect x="408.7" y="166.6" width="0.8" height="0.7" fill="#a4a4a4"/><rect x="362.8" y="150.2" width="0.8" height="0.7" fill="#a4a4a4"/><rect x="345.1" y="125.5" width="0.8" height="0.7" fill="#848484"/><rect x="390.4" y="165.2" width="0.8" height="0.7" fill="#9c9c9c"/><rect x="408.0" y="165.9" width="0.8" height="0.7" fill="#9c9c9c"/><rect x="374.4" y="162.1" width="0.8" height="0.7" fill="#b0b0b0"/><rect x="367.0" y="149.7" width="0.8" height="0.7" fill="#9c9c9c"/><rect x="455.4" y="176.2" width="0.8" height="0.7" fill="#a4a4a4"/><rect x="444.3" y="176.9" width="0.8" height="0.7" fill="#848484"/><rect x="406.2" y="165.3" width="0.8" height="0.7" fill="#a4a4a4"/><rect x="350.5" y="152.1" width="0.8" height="0.7" fill="#848484"/><rect x="437.3" y="173.2" width="0.8" height="0.7" fill="#b0b0b0"/><rect x="381.5" y="167.9" width="0.8" height="0.7" fill="#a4a4a4"/><rect x="351.4" y="138.5" width="0.8" height="0.7" fill="#9c9c9c"/><rect x="379.8" y="158.5" width="0.8" height="0.7" fill="#a4a4a4"/><rect x="343.5" y="132.3" width="0.8" height="0.7" fill="#9c9c9c"/><rect x="364.4" y="150.8" width="0.8" height="0.7" fill="#b0b0b0"/><rect x="472.5" y="178.3" width="0.8" height="0.7" fill="#848484"/><rect x="351.8" y="149.5" width="0.8" height="0.7" fill="#b0b0b0"/><rect x="456.7" y="173.2" width="0.8" height="0.7" fill="#b0b0b0"/><rect x="461.5" y="177.8" width="0.8" height="0.7" fill="#b0b0b0"/><rect x="369.7" y="165.0" width="0.8" height="0.7" fill="#848484"/><rect x="378.9" y="157.7" width="0.8" height="0.7" fill="#848484"/><rect x="485.0" y="185.0" width="0.8" height="0.7" fill="#848484"/><rect x="456.1" y="175.0" width="0.8" height="0.7" fill="#b0b0b0"/><rect x="451.9" y="179.0" width="0.8" height="0.7" fill="#848484"/><rect x="389.1" y="169.1" width="0.8" height="0.7" fill="#9c9c9c"/><rect x="355.3" y="149.7" width="0.8" height="0.7" fill="#9c9c9c"/><rect x="383.4" y="161.1" width="0.8" height="0.7" fill="#9c9c9c"/><rect x="493.6" y="185.6" width="0.8" height="0.7" fill="#848484"/><rect x="372.4" y="158.1" width="0.8" height="0.7" fill="#9c9c9c"/><rect x="402.6" y="170.1" width="0.8" height="0.7" fill="#b0b0b0"/><rect x="417.5" y="169.5" width="0.8" height="0.7" fill="#a4a4a4"/><rect x="479.6" y="181.6" width="0.8" height="0.7" fill="#9c9c9c"/><rect x="433.3" y="170.3" width="0.8" height="0.7" fill="#9c9c9c"/><rect x="404.5" y="167.9" width="0.8" height="0.7" fill="#9c9c9c"/><rect x="364.8" y="148.4" width="0.8" height="0.7" fill="#a4a4a4"/><rect x="441.6" y="170.7" width="0.8" height="0.7" fill="#9c9c9c"/><rect x="454.3" y="172.8" width="0.8" height="0.7" fill="#9c9c9c"/><rect x="453.0" y="177.0" width="0.8" height="0.7" fill="#a4a4a4"/><rect x="460.1" y="174.5" width="0.8" height="0.7" fill="#848484"/><rect x="373.6" y="165.9" width="0.8" height="0.7" fill="#a4a4a4"/><rect x="483.1" y="183.9" width="0.8" height="0.7" fill="#b0b0b0"/><rect x="358.7" y="147.0" width="0.8" height="0.7" fill="#a4a4a4"/><rect x="347.0" y="148.8" width="0.8" height="0.7" fill="#a4a4a4"/><rect x="474.3" y="181.7" width="0.8" height="0.7" fill="#848484"/><rect x="418.3" y="166.2" width="0.8" height="0.7" fill="#9c9c9c"/><rect x="388.9" y="163.1" width="0.8" height="0.7" fill="#848484"/><rect x="344.9" y="130.5" width="0.8" height="0.7" fill="#848484"/><rect x="349.3" y="149.4" width="0.8" height="0.7" fill="#848484"/><rect x="465.3" y="179.6" width="0.8" height="0.7" fill="#b0b0b0"/><rect x="478.6" y="182.4" width="0.8" height="0.7" fill="#a4a4a4"/><rect x="468.5" y="176.4" width="0.8" height="0.7" fill="#a4a4a4"/><rect x="397.3" y="168.0" width="0.8" height="0.7" fill="#9c9c9c"/><rect x="456.5" y="179.3" width="0.8" height="0.7" fill="#848484"/><rect x="368.9" y="150.8" width="0.8" height="0.7" fill="#9c9c9c"/><rect x="387.9" y="167.2" width="0.8" height="0.7" fill="#a4a4a4"/><rect x="342.2" y="120.3" width="0.8" height="0.7" fill="#b0b0b0"/><rect x="453.4" y="178.6" width="0.8" height="0.7" fill="#b0b0b0"/><rect x="436.9" y="176.2" width="0.8" height="0.7" fill="#848484"/><rect x="434.6" y="169.3" width="0.8" height="0.7" fill="#9c9c9c"/><rect x="492.6" y="183.5" width="0.8" height="0.7" fill="#9c9c9c"/><rect x="359.2" y="154.5" width="0.8" height="0.7" fill="#a4a4a4"/><rect x="420.4" y="173.9" width="0.8" height="0.7" fill="#a4a4a4"/><rect x="442.6" y="172.5" width="0.8" height="0.7" fill="#b0b0b0"/><rect x="491.0" y="185.7" width="0.8" height="0.7" fill="#a4a4a4"/><rect x="409.5" y="169.1" width="0.8" height="0.7" fill="#848484"/><rect x="374.7" y="157.8" width="0.8" height="0.7" fill="#9c9c9c"/><rect x="402.6" y="170.4" width="0.8" height="0.7" fill="#9c9c9c"/><rect x="493.5" y="183.4" width="0.8" height="0.7" fill="#a4a4a4"/><rect x="397.6" y="164.4" width="0.8" height="0.7" fill="#9c9c9c"/><rect x="481.2" y="182.0" width="0.8" height="0.7" fill="#848484"/><rect x="368.8" y="156.8" width="0.8" height="0.7" fill="#848484"/><rect x="434.7" y="169.1" width="0.8" height="0.7" fill="#b0b0b0"/><rect x="445.0" y="175.7" width="0.8" height="0.7" fill="#9c9c9c"/><rect x="384.6" y="166.8" width="0.8" height="0.7" fill="#9c9c9c"/><rect x="458.0" y="180.7" width="0.8" height="0.7" fill="#848484"/><rect x="438.6" y="171.5" width="0.8" height="0.7" fill="#9c9c9c"/><rect x="394.3" y="162.5" width="0.8" height="0.7" fill="#a4a4a4"/><rect x="368.0" y="159.5" width="0.8" height="0.7" fill="#9c9c9c"/><rect x="403.4" y="171.4" width="0.8" height="0.7" fill="#848484"/><rect x="459.6" y="177.1" width="0.8" height="0.7" fill="#9c9c9c"/><rect x="359.1" y="159.1" width="0.8" height="0.7" fill="#848484"/><rect x="374.7" y="159.3" width="0.8" height="0.7" fill="#a4a4a4"/><rect x="343.5" y="140.8" width="0.8" height="0.7" fill="#b0b0b0"/><rect x="453.1" y="176.1" width="0.8" height="0.7" fill="#848484"/><rect x="416.1" y="165.9" width="0.8" height="0.7" fill="#b0b0b0"/><rect x="342.4" y="114.1" width="0.8" height="0.7" fill="#b0b0b0"/><rect x="454.4" y="177.0" width="0.8" height="0.7" fill="#b0b0b0"/><rect x="477.7" y="182.5" width="0.8" height="0.7" fill="#9c9c9c"/><rect x="450.9" y="176.6" width="0.8" height="0.7" fill="#b0b0b0"/><rect x="411.1" y="166.1" width="0.8" height="0.7" fill="#a4a4a4"/><rect x="485.6" y="181.9" width="0.8" height="0.7" fill="#b0b0b0"/><rect x="456.3" y="177.8" width="0.8" height="0.7" fill="#848484"/><rect x="478.3" y="181.6" width="0.8" height="0.7" fill="#a4a4a4"/><rect x="441.6" y="172.6" width="0.8" height="0.7" fill="#9c9c9c"/><rect x="485.5" y="182.3" width="0.8" height="0.7" fill="#a4a4a4"/><rect x="404.1" y="167.0" width="0.8" height="0.7" fill="#a4a4a4"/><rect x="347.6" y="142.4" width="0.8" height="0.7" fill="#9c9c9c"/><rect x="456.8" y="180.3" width="0.8" height="0.7" fill="#9c9c9c"/><rect x="425.1" y="167.2" width="0.8" height="0.7" fill="#b0b0b0"/><rect x="428.6" y="172.9" width="0.8" height="0.7" fill="#a4a4a4"/><rect x="444.4" y="176.6" width="0.8" height="0.7" fill="#848484"/><rect x="407.6" y="171.6" width="0.8" height="0.7" fill="#9c9c9c"/><rect x="500.9" y="185.7" width="0.8" height="0.7" fill="#a4a4a4"/><rect x="458.9" y="178.2" width="0.8" height="0.7" fill="#a4a4a4"/><rect x="382.1" y="162.5" width="0.8" height="0.7" fill="#a4a4a4"/><rect x="343.6" y="129.7" width="0.8" height="0.7" fill="#b0b0b0"/><rect x="442.7" y="175.0" width="0.8" height="0.7" fill="#848484"/><rect x="359.1" y="148.9" width="0.8" height="0.7" fill="#b0b0b0"/><rect x="492.8" y="184.7" width="0.8" height="0.7" fill="#9c9c9c"/><rect x="501.6" y="187.4" width="0.8" height="0.7" fill="#b0b0b0"/><rect x="375.6" y="156.7" width="0.8" height="0.7" fill="#a4a4a4"/><rect x="471.8" y="181.3" width="0.8" height="0.7" fill="#b0b0b0"/><rect x="444.9" y="175.9" width="0.8" height="0.7" fill="#9c9c9c"/><rect x="398.4" y="167.5" width="0.8" height="0.7" fill="#b0b0b0"/><rect x="416.9" y="167.3" width="0.8" height="0.7" fill="#9c9c9c"/><rect x="467.1" y="179.1" width="0.8" height="0.7" fill="#9c9c9c"/><rect x="384.6" y="162.8" width="0.8" height="0.7" fill="#848484"/><rect x="499.7" y="186.4" width="0.8" height="0.7" fill="#b0b0b0"/><rect x="341.9" y="126.5" width="0.8" height="0.7" fill="#848484"/><rect x="399.1" y="167.8" width="0.8" height="0.7" fill="#848484"/><rect x="418.7" y="168.8" width="0.8" height="0.7" fill="#a4a4a4"/><rect x="447.6" y="173.7" width="0.8" height="0.7" fill="#848484"/><rect x="479.1" y="179.3" width="0.8" height="0.7" fill="#848484"/><rect x="467.7" y="176.9" width="0.8" height="0.7" fill="#848484"/><rect x="443.4" y="170.0" width="0.8" height="0.7" fill="#a4a4a4"/><rect x="375.3" y="155.8" width="0.8" height="0.7" fill="#848484"/><rect x="381.8" y="159.4" width="0.8" height="0.7" fill="#9c9c9c"/><rect x="479.0" y="180.0" width="0.8" height="0.7" fill="#b0b0b0"/><rect x="397.3" y="162.7" width="0.8" height="0.7" fill="#b0b0b0"/><rect x="469.0" y="177.4" width="0.8" height="0.7" fill="#a4a4a4"/><rect x="449.1" y="178.2" width="0.8" height="0.7" fill="#848484"/><rect x="373.3" y="162.4" width="0.8" height="0.7" fill="#a4a4a4"/><rect x="460.9" y="177.4" width="0.8" height="0.7" fill="#a4a4a4"/><rect x="430.9" y="169.5" width="0.8" height="0.7" fill="#9c9c9c"/><rect x="474.7" y="180.8" width="0.8" height="0.7" fill="#a4a4a4"/><rect x="419.5" y="173.0" width="0.8" height="0.7" fill="#b0b0b0"/><rect x="381.2" y="160.0" width="0.8" height="0.7" fill="#a4a4a4"/><rect x="367.3" y="154.3" width="0.8" height="0.7" fill="#b0b0b0"/><rect x="448.6" y="177.6" width="0.8" height="0.7" fill="#848484"/><rect x="410.1" y="172.3" width="0.8" height="0.7" fill="#a4a4a4"/><rect x="370.6" y="156.7" width="0.8" height="0.7" fill="#a4a4a4"/><rect x="344.8" y="125.6" width="0.8" height="0.7" fill="#848484"/><rect x="471.7" y="177.6" width="0.8" height="0.7" fill="#b0b0b0"/><rect x="419.5" y="172.9" width="0.8" height="0.7" fill="#a4a4a4"/><rect x="375.9" y="160.3" width="0.8" height="0.7" fill="#9c9c9c"/><rect x="396.0" y="169.3" width="0.8" height="0.7" fill="#848484"/><rect x="396.5" y="168.6" width="0.8" height="0.7" fill="#9c9c9c"/><rect x="387.2" y="162.9" width="0.8" height="0.7" fill="#848484"/><rect x="430.7" y="174.1" width="0.8" height="0.7" fill="#848484"/><rect x="398.7" y="166.2" width="0.8" height="0.7" fill="#848484"/><rect x="422.6" y="168.2" width="0.8" height="0.7" fill="#848484"/><rect x="498.5" y="186.1" width="0.8" height="0.7" fill="#a4a4a4"/><rect x="394.8" y="163.9" width="0.8" height="0.7" fill="#848484"/><rect x="362.0" y="161.6" width="0.8" height="0.7" fill="#a4a4a4"/><rect x="467.8" y="176.2" width="0.8" height="0.7" fill="#b0b0b0"/><rect x="429.3" y="167.5" width="0.8" height="0.7" fill="#848484"/><rect x="359.0" y="144.5" width="0.8" height="0.7" fill="#b0b0b0"/><rect x="439.5" y="174.2" width="0.8" height="0.7" fill="#b0b0b0"/><rect x="440.8" y="174.2" width="0.8" height="0.7" fill="#a4a4a4"/><rect x="375.7" y="163.2" width="0.8" height="0.7" fill="#b0b0b0"/><rect x="442.2" y="170.9" width="0.8" height="0.7" fill="#9c9c9c"/><rect x="481.4" y="181.9" width="0.8" height="0.7" fill="#a4a4a4"/><rect x="488.7" y="184.4" width="0.8" height="0.7" fill="#848484"/><rect x="481.9" y="180.5" width="0.8" height="0.7" fill="#848484"/><rect x="432.0" y="169.7" width="0.8" height="0.7" fill="#848484"/><rect x="371.2" y="152.7" width="0.8" height="0.7" fill="#a4a4a4"/><rect x="410.8" y="169.3" width="0.8" height="0.7" fill="#a4a4a4"/><rect x="421.6" y="170.1" width="0.8" height="0.7" fill="#a4a4a4"/><rect x="466.1" y="178.5" width="0.8" height="0.7" fill="#b0b0b0"/><rect x="413.4" y="164.3" width="0.8" height="0.7" fill="#b0b0b0"/><rect x="437.1" y="176.5" width="0.8" height="0.7" fill="#9c9c9c"/><rect x="418.0" y="168.6" width="0.8" height="0.7" fill="#a4a4a4"/><rect x="354.9" y="148.9" width="0.8" height="0.7" fill="#9c9c9c"/><rect x="442.4" y="173.0" width="0.8" height="0.7" fill="#a4a4a4"/><rect x="451.6" y="172.8" width="0.8" height="0.7" fill="#a4a4a4"/><rect x="376.6" y="157.2" width="0.8" height="0.7" fill="#b0b0b0"/><rect x="344.4" y="139.9" width="0.8" height="0.7" fill="#9c9c9c"/><rect x="414.1" y="170.7" width="0.8" height="0.7" fill="#a4a4a4"/><rect x="400.4" y="168.8" width="0.8" height="0.7" fill="#9c9c9c"/><rect x="459.0" y="174.4" width="0.8" height="0.7" fill="#b0b0b0"/><rect x="415.7" y="172.6" width="0.8" height="0.7" fill="#848484"/><rect x="488.6" y="181.8" width="0.8" height="0.7" fill="#a4a4a4"/><rect x="343.3" y="116.2" width="0.8" height="0.7" fill="#a4a4a4"/><rect x="404.1" y="165.3" width="0.8" height="0.7" fill="#9c9c9c"/><rect x="495.7" y="186.2" width="0.8" height="0.7" fill="#a4a4a4"/><rect x="392.4" y="169.7" width="0.8" height="0.7" fill="#b0b0b0"/><rect x="417.1" y="166.3" width="0.8" height="0.7" fill="#a4a4a4"/><rect x="400.0" y="167.8" width="0.8" height="0.7" fill="#b0b0b0"/><rect x="418.3" y="171.7" width="0.8" height="0.7" fill="#b0b0b0"/><rect x="493.6" y="185.7" width="0.8" height="0.7" fill="#848484"/><rect x="388.6" y="160.2" width="0.8" height="0.7" fill="#848484"/><rect x="481.5" y="183.5" width="0.8" height="0.7" fill="#a4a4a4"/><rect x="475.3" y="181.7" width="0.8" height="0.7" fill="#848484"/><rect x="435.6" y="176.1" width="0.8" height="0.7" fill="#9c9c9c"/><rect x="402.1" y="168.5" width="0.8" height="0.7" fill="#9c9c9c"/><rect x="471.5" y="178.8" width="0.8" height="0.7" fill="#a4a4a4"/><rect x="393.3" y="163.1" width="0.8" height="0.7" fill="#9c9c9c"/><rect x="435.9" y="174.9" width="0.8" height="0.7" fill="#a4a4a4"/><rect x="388.0" y="160.9" width="0.8" height="0.7" fill="#9c9c9c"/><rect x="385.6" y="167.9" width="0.8" height="0.7" fill="#b0b0b0"/><rect x="397.3" y="162.1" width="0.8" height="0.7" fill="#b0b0b0"/><rect x="469.9" y="177.9" width="0.8" height="0.7" fill="#9c9c9c"/><rect x="391.3" y="160.7" width="0.8" height="0.7" fill="#b0b0b0"/><rect x="416.4" y="166.5" width="0.8" height="0.7" fill="#848484"/><rect x="435.9" y="168.3" width="0.8" height="0.7" fill="#b0b0b0"/><rect x="415.5" y="165.3" width="0.8" height="0.7" fill="#848484"/><rect x="465.8" y="177.1" width="0.8" height="0.7" fill="#848484"/><rect x="484.0" y="182.9" width="0.8" height="0.7" fill="#b0b0b0"/><rect x="423.0" y="167.6" width="0.8" height="0.7" fill="#9c9c9c"/><rect x="372.5" y="155.4" width="0.8" height="0.7" fill="#848484"/><rect x="399.9" y="167.0" width="0.8" height="0.7" fill="#b0b0b0"/><rect x="467.0" y="181.8" width="0.8" height="0.7" fill="#9c9c9c"/><rect x="348.7" y="152.7" width="0.8" height="0.7" fill="#848484"/><rect x="481.0" y="181.5" width="0.8" height="0.7" fill="#b0b0b0"/><rect x="468.3" y="177.2" width="0.8" height="0.7" fill="#a4a4a4"/><rect x="397.0" y="166.2" width="0.8" height="0.7" fill="#a4a4a4"/><rect x="356.6" y="145.5" width="0.8" height="0.7" fill="#b0b0b0"/><rect x="436.0" y="170.0" width="0.8" height="0.7" fill="#848484"/><rect x="410.1" y="171.8" width="0.8" height="0.7" fill="#9c9c9c"/><rect x="382.4" y="158.8" width="0.8" height="0.7" fill="#9c9c9c"/><rect x="501.6" y="186.4" width="0.8" height="0.7" fill="#a4a4a4"/><rect x="349.7" y="146.5" width="0.8" height="0.7" fill="#b0b0b0"/><rect x="419.9" y="172.5" width="0.8" height="0.7" fill="#a4a4a4"/><rect x="480.4" y="182.9" width="0.8" height="0.7" fill="#a4a4a4"/><rect x="455.2" y="173.5" width="0.8" height="0.7" fill="#848484"/><rect x="432.4" y="172.9" width="0.8" height="0.7" fill="#b0b0b0"/><rect x="370.9" y="163.5" width="0.8" height="0.7" fill="#848484"/><rect x="497.0" y="186.9" width="0.8" height="0.7" fill="#9c9c9c"/><rect x="369.2" y="164.1" width="0.8" height="0.7" fill="#848484"/><rect x="351.0" y="147.7" width="0.8" height="0.7" fill="#a4a4a4"/><rect x="476.3" y="178.5" width="0.8" height="0.7" fill="#b0b0b0"/><rect x="350.5" y="140.0" width="0.8" height="0.7" fill="#a4a4a4"/><rect x="492.7" y="185.2" width="0.8" height="0.7" fill="#848484"/><rect x="436.5" y="171.9" width="0.8" height="0.7" fill="#a4a4a4"/><rect x="417.3" y="168.1" width="0.8" height="0.7" fill="#b0b0b0"/><rect x="361.5" y="153.4" width="0.8" height="0.7" fill="#9c9c9c"/><rect x="412.6" y="171.0" width="0.8" height="0.7" fill="#a4a4a4"/><rect x="416.8" y="172.6" width="0.8" height="0.7" fill="#a4a4a4"/><rect x="366.8" y="161.5" width="0.8" height="0.7" fill="#a4a4a4"/><rect x="491.9" y="185.8" width="0.8" height="0.7" fill="#9c9c9c"/><rect x="466.8" y="182.5" width="0.8" height="0.7" fill="#b0b0b0"/><rect x="477.1" y="182.2" width="0.8" height="0.7" fill="#b0b0b0"/><rect x="498.0" y="185.1" width="0.8" height="0.7" fill="#9c9c9c"/><rect x="418.4" y="170.5" width="0.8" height="0.7" fill="#9c9c9c"/><rect x="394.9" y="168.0" width="0.8" height="0.7" fill="#9c9c9c"/><rect x="456.4" y="177.2" width="0.8" height="0.7" fill="#9c9c9c"/><rect x="412.2" y="165.3" width="0.8" height="0.7" fill="#b0b0b0"/><rect x="407.8" y="164.6" width="0.8" height="0.7" fill="#848484"/><rect x="433.4" y="170.2" width="0.8" height="0.7" fill="#9c9c9c"/><rect x="383.5" y="159.8" width="0.8" height="0.7" fill="#b0b0b0"/><rect x="486.9" y="181.6" width="0.8" height="0.7" fill="#a4a4a4"/><rect x="443.1" y="176.0" width="0.8" height="0.7" fill="#9c9c9c"/><rect x="431.7" y="174.3" width="0.8" height="0.7" fill="#a4a4a4"/><rect x="383.0" y="160.7" width="0.8" height="0.7" fill="#848484"/><rect x="411.1" y="166.1" width="0.8" height="0.7" fill="#9c9c9c"/><rect x="490.4" y="182.5" width="0.8" height="0.7" fill="#848484"/><rect x="408.4" y="164.7" width="0.8" height="0.7" fill="#848484"/><rect x="364.7" y="157.8" width="0.8" height="0.7" fill="#b0b0b0"/><rect x="471.4" y="179.2" width="0.8" height="0.7" fill="#9c9c9c"/><rect x="412.8" y="170.9" width="0.8" height="0.7" fill="#848484"/><rect x="371.4" y="158.2" width="0.8" height="0.7" fill="#b0b0b0"/><rect x="376.6" y="162.5" width="0.8" height="0.7" fill="#9c9c9c"/><rect x="477.3" y="181.6" width="0.8" height="0.7" fill="#9c9c9c"/><rect x="456.1" y="174.5" width="0.8" height="0.7" fill="#a4a4a4"/><rect x="475.0" y="183.4" width="0.8" height="0.7" fill="#b0b0b0"/><rect x="464.1" y="176.3" width="0.8" height="0.7" fill="#9c9c9c"/><rect x="440.1" y="174.7" width="0.8" height="0.7" fill="#9c9c9c"/><rect x="435.4" y="169.8" width="0.8" height="0.7" fill="#a4a4a4"/><rect x="453.0" y="176.2" width="0.8" height="0.7" fill="#a4a4a4"/><rect x="425.0" y="169.2" width="0.8" height="0.7" fill="#848484"/><rect x="477.0" y="183.6" width="0.8" height="0.7" fill="#b0b0b0"/><rect x="356.0" y="148.6" width="0.8" height="0.7" fill="#b0b0b0"/><rect x="363.0" y="157.2" width="0.8" height="0.7" fill="#9c9c9c"/><rect x="371.5" y="163.5" width="0.8" height="0.7" fill="#848484"/><rect x="347.4" y="145.0" width="0.8" height="0.7" fill="#a4a4a4"/><rect x="398.8" y="170.4" width="0.8" height="0.7" fill="#a4a4a4"/><rect x="360.9" y="156.8" width="0.8" height="0.7" fill="#848484"/><rect x="466.9" y="181.9" width="0.8" height="0.7" fill="#a4a4a4"/><rect x="388.4" y="160.7" width="0.8" height="0.7" fill="#b0b0b0"/><rect x="413.4" y="164.4" width="0.8" height="0.7" fill="#9c9c9c"/><rect x="344.8" y="146.3" width="0.8" height="0.7" fill="#9c9c9c"/><rect x="441.2" y="170.6" width="0.8" height="0.7" fill="#848484"/><rect x="381.8" y="167.1" width="0.8" height="0.7" fill="#a4a4a4"/><rect x="344.6" y="145.1" width="0.8" height="0.7" fill="#9c9c9c"/><rect x="383.6" y="167.5" width="0.8" height="0.7" fill="#b0b0b0"/><rect x="425.7" y="172.3" width="0.8" height="0.7" fill="#a4a4a4"/><rect x="398.0" y="162.2" width="0.8" height="0.7" fill="#9c9c9c"/><rect x="348.8" y="136.8" width="0.8" height="0.7" fill="#b0b0b0"/><rect x="435.8" y="174.4" width="0.8" height="0.7" fill="#a4a4a4"/><rect x="361.1" y="151.9" width="0.8" height="0.7" fill="#9c9c9c"/><rect x="428.7" y="168.8" width="0.8" height="0.7" fill="#9c9c9c"/><rect x="365.2" y="157.0" width="0.8" height="0.7" fill="#b0b0b0"/><rect x="368.0" y="161.9" width="0.8" height="0.7" fill="#b0b0b0"/><rect x="453.2" y="176.8" width="0.8" height="0.7" fill="#a4a4a4"/><rect x="405.2" y="171.2" width="0.8" height="0.7" fill="#848484"/><rect x="396.0" y="163.3" width="0.8" height="0.7" fill="#848484"/><rect x="456.7" y="179.4" width="0.8" height="0.7" fill="#848484"/><rect x="472.7" y="182.8" width="0.8" height="0.7" fill="#a4a4a4"/><rect x="393.8" y="162.0" width="0.8" height="0.7" fill="#848484"/><rect x="381.6" y="162.8" width="0.8" height="0.7" fill="#a4a4a4"/><rect x="400.2" y="166.7" width="0.8" height="0.7" fill="#a4a4a4"/><rect x="393.7" y="162.5" width="0.8" height="0.7" fill="#a4a4a4"/><rect x="377.8" y="161.4" width="0.8" height="0.7" fill="#b0b0b0"/><rect x="466.5" y="182.3" width="0.8" height="0.7" fill="#a4a4a4"/><rect x="471.8" y="182.9" width="0.8" height="0.7" fill="#a4a4a4"/><rect x="347.0" y="143.2" width="0.8" height="0.7" fill="#848484"/><rect x="489.3" y="184.4" width="0.8" height="0.7" fill="#a4a4a4"/><rect x="441.5" y="171.4" width="0.8" height="0.7" fill="#a4a4a4"/><rect x="411.3" y="172.1" width="0.8" height="0.7" fill="#848484"/><rect x="359.7" y="150.0" width="0.8" height="0.7" fill="#9c9c9c"/><rect x="360.9" y="154.8" width="0.8" height="0.7" fill="#848484"/><rect x="355.1" y="151.1" width="0.8" height="0.7" fill="#9c9c9c"/><rect x="412.3" y="168.4" width="0.8" height="0.7" fill="#848484"/><rect x="488.9" y="184.1" width="0.8" height="0.7" fill="#848484"/><rect x="380.7" y="159.1" width="0.8" height="0.7" fill="#848484"/><rect x="476.7" y="182.0" width="0.8" height="0.7" fill="#9c9c9c"/><rect x="446.2" y="172.1" width="0.8" height="0.7" fill="#848484"/><rect x="415.7" y="169.3" width="0.8" height="0.7" fill="#b0b0b0"/><rect x="417.0" y="167.5" width="0.8" height="0.7" fill="#9c9c9c"/><rect x="395.2" y="162.7" width="0.8" height="0.7" fill="#b0b0b0"/><rect x="497.6" y="185.2" width="0.8" height="0.7" fill="#848484"/><rect x="367.6" y="163.6" width="0.8" height="0.7" fill="#848484"/><rect x="431.1" y="171.4" width="0.8" height="0.7" fill="#848484"/><rect x="482.9" y="181.1" width="0.8" height="0.7" fill="#a4a4a4"/><rect x="465.8" y="176.6" width="0.8" height="0.7" fill="#a4a4a4"/><rect x="439.1" y="171.6" width="0.8" height="0.7" fill="#a4a4a4"/><rect x="424.7" y="173.2" width="0.8" height="0.7" fill="#848484"/><rect x="459.9" y="174.8" width="0.8" height="0.7" fill="#9c9c9c"/><rect x="500.8" y="186.7" width="0.8" height="0.7" fill="#9c9c9c"/><rect x="408.6" y="169.2" width="0.8" height="0.7" fill="#9c9c9c"/><rect x="450.2" y="176.3" width="0.8" height="0.7" fill="#848484"/><rect x="473.7" y="180.9" width="0.8" height="0.7" fill="#b0b0b0"/></g>
<g><rect x="384.5" y="176.5" width="0.8" height="0.8" fill="#ffffff"/><rect x="361.7" y="161.9" width="0.8" height="0.8" fill="#f0f0f0"/><rect x="429.9" y="162.8" width="0.8" height="0.8" fill="#ffffff"/><rect x="365.3" y="167.2" width="0.8" height="0.8" fill="#ffffff"/><rect x="439.2" y="165.1" width="0.8" height="0.8" fill="#d8d8d8"/><rect x="387.7" y="153.4" width="0.8" height="0.8" fill="#ffffff"/><rect x="430.8" y="162.4" width="0.8" height="0.8" fill="#f0f0f0"/><rect x="461.5" y="184.0" width="0.8" height="0.8" fill="#c8c8c8"/><rect x="370.9" y="142.1" width="0.8" height="0.8" fill="#ffffff"/><rect x="402.0" y="160.6" width="0.8" height="0.8" fill="#c8c8c8"/><rect x="393.4" y="180.2" width="0.8" height="0.8" fill="#c8c8c8"/><rect x="374.2" y="153.2" width="0.8" height="0.8" fill="#a0a0a0"/><rect x="345.3" y="124.4" width="0.8" height="0.8" fill="#c8c8c8"/><rect x="489.6" y="187.9" width="0.8" height="0.8" fill="#d8d8d8"/><rect x="424.7" y="182.0" width="0.8" height="0.8" fill="#d8d8d8"/><rect x="416.1" y="162.1" width="0.8" height="0.8" fill="#d8d8d8"/><rect x="494.1" y="188.2" width="0.8" height="0.8" fill="#a0a0a0"/><rect x="407.3" y="180.0" width="0.8" height="0.8" fill="#ffffff"/><rect x="366.1" y="141.5" width="0.8" height="0.8" fill="#d8d8d8"/><rect x="412.2" y="184.7" width="0.8" height="0.8" fill="#c8c8c8"/><rect x="452.8" y="180.4" width="0.8" height="0.8" fill="#c8c8c8"/><rect x="392.5" y="179.9" width="0.8" height="0.8" fill="#ffffff"/><rect x="369.5" y="168.8" width="0.8" height="0.8" fill="#c8c8c8"/><rect x="473.6" y="188.1" width="0.8" height="0.8" fill="#d8d8d8"/><rect x="443.0" y="184.7" width="0.8" height="0.8" fill="#b4b4b4"/><rect x="422.6" y="159.6" width="0.8" height="0.8" fill="#ffffff"/><rect x="432.3" y="164.5" width="0.8" height="0.8" fill="#ffffff"/><rect x="443.9" y="166.0" width="0.8" height="0.8" fill="#f0f0f0"/><rect x="341.6" y="150.6" width="0.8" height="0.8" fill="#c8c8c8"/><rect x="405.3" y="154.4" width="0.8" height="0.8" fill="#a0a0a0"/><rect x="372.9" y="148.4" width="0.8" height="0.8" fill="#c8c8c8"/><rect x="481.7" y="187.1" width="0.8" height="0.8" fill="#b4b4b4"/><rect x="433.9" y="161.7" width="0.8" height="0.8" fill="#b4b4b4"/><rect x="424.8" y="174.9" width="0.8" height="0.8" fill="#a0a0a0"/><rect x="368.7" y="175.4" width="0.8" height="0.8" fill="#ffffff"/><rect x="410.7" y="180.4" width="0.8" height="0.8" fill="#ffffff"/><rect x="465.5" y="173.5" width="0.8" height="0.8" fill="#c8c8c8"/><rect x="385.6" y="155.6" width="0.8" height="0.8" fill="#f0f0f0"/><rect x="487.0" y="186.9" width="0.8" height="0.8" fill="#d8d8d8"/><rect x="441.9" y="164.2" width="0.8" height="0.8" fill="#d8d8d8"/><rect x="435.2" y="180.4" width="0.8" height="0.8" fill="#ffffff"/><rect x="379.6" y="149.6" width="0.8" height="0.8" fill="#ffffff"/><rect x="479.1" y="178.4" width="0.8" height="0.8" fill="#f0f0f0"/><rect x="414.7" y="158.4" width="0.8" height="0.8" fill="#d8d8d8"/><rect x="499.2" y="183.3" width="0.8" height="0.8" fill="#ffffff"/><rect x="457.1" y="168.7" width="0.8" height="0.8" fill="#ffffff"/><rect x="419.3" y="176.5" width="0.8" height="0.8" fill="#b4b4b4"/><rect x="368.6" y="138.4" width="0.8" height="0.8" fill="#c8c8c8"/><rect x="405.1" y="157.0" width="0.8" height="0.8" fill="#f0f0f0"/><rect x="403.4" y="154.3" width="0.8" height="0.8" fill="#a0a0a0"/><rect x="409.3" y="179.1" width="0.8" height="0.8" fill="#d8d8d8"/><rect x="372.0" y="144.1" width="0.8" height="0.8" fill="#a0a0a0"/><rect x="386.2" y="157.3" width="0.8" height="0.8" fill="#b4b4b4"/><rect x="455.1" y="167.9" width="0.8" height="0.8" fill="#f0f0f0"/><rect x="468.2" y="185.6" width="0.8" height="0.8" fill="#f0f0f0"/><rect x="471.0" y="172.6" width="0.8" height="0.8" fill="#ffffff"/><rect x="406.6" y="179.0" width="0.8" height="0.8" fill="#c8c8c8"/><rect x="494.6" y="187.3" width="0.8" height="0.8" fill="#d8d8d8"/><rect x="450.1" y="186.8" width="0.8" height="0.8" fill="#ffffff"/><rect x="486.3" y="186.9" width="0.8" height="0.8" fill="#b4b4b4"/><rect x="406.4" y="173.4" width="0.8" height="0.8" fill="#f0f0f0"/><rect x="361.0" y="169.4" width="0.8" height="0.8" fill="#c8c8c8"/><rect x="459.9" y="181.5" width="0.8" height="0.8" fill="#ffffff"/><rect x="432.8" y="163.3" width="0.8" height="0.8" fill="#a0a0a0"/><rect x="453.2" y="181.5" width="0.8" height="0.8" fill="#b4b4b4"/><rect x="448.1" y="168.1" width="0.8" height="0.8" fill="#c8c8c8"/><rect x="471.1" y="184.6" width="0.8" height="0.8" fill="#ffffff"/><rect x="391.4" y="152.2" width="0.8" height="0.8" fill="#ffffff"/><rect x="405.6" y="161.4" width="0.8" height="0.8" fill="#d8d8d8"/><rect x="466.2" y="187.4" width="0.8" height="0.8" fill="#b4b4b4"/><rect x="492.3" y="179.8" width="0.8" height="0.8" fill="#f0f0f0"/><rect x="448.2" y="167.1" width="0.8" height="0.8" fill="#ffffff"/><rect x="454.7" y="172.7" width="0.8" height="0.8" fill="#d8d8d8"/><rect x="398.0" y="173.1" width="0.8" height="0.8" fill="#a0a0a0"/><rect x="384.9" y="171.9" width="0.8" height="0.8" fill="#ffffff"/><rect x="347.7" y="118.0" width="0.8" height="0.8" fill="#b4b4b4"/><rect x="463.3" y="173.1" width="0.8" height="0.8" fill="#ffffff"/><rect x="391.4" y="172.2" width="0.8" height="0.8" fill="#f0f0f0"/><rect x="377.9" y="151.8" width="0.8" height="0.8" fill="#d8d8d8"/><rect x="449.3" y="186.3" width="0.8" height="0.8" fill="#a0a0a0"/><rect x="475.8" y="185.5" width="0.8" height="0.8" fill="#a0a0a0"/><rect x="482.4" y="187.9" width="0.8" height="0.8" fill="#b4b4b4"/><rect x="451.1" y="167.2" width="0.8" height="0.8" fill="#f0f0f0"/><rect x="488.7" y="186.2" width="0.8" height="0.8" fill="#ffffff"/><rect x="461.2" y="185.4" width="0.8" height="0.8" fill="#b4b4b4"/><rect x="386.6" y="158.7" width="0.8" height="0.8" fill="#d8d8d8"/><rect x="412.6" y="160.0" width="0.8" height="0.8" fill="#ffffff"/><rect x="475.1" y="186.2" width="0.8" height="0.8" fill="#a0a0a0"/><rect x="450.3" y="169.4" width="0.8" height="0.8" fill="#f0f0f0"/><rect x="490.9" y="181.1" width="0.8" height="0.8" fill="#a0a0a0"/><rect x="494.8" y="188.4" width="0.8" height="0.8" fill="#b4b4b4"/><rect x="429.3" y="181.8" width="0.8" height="0.8" fill="#ffffff"/><rect x="383.2" y="171.1" width="0.8" height="0.8" fill="#c8c8c8"/><rect x="407.6" y="157.4" width="0.8" height="0.8" fill="#b4b4b4"/><rect x="451.9" y="168.5" width="0.8" height="0.8" fill="#ffffff"/><rect x="380.2" y="173.8" width="0.8" height="0.8" fill="#ffffff"/><rect x="397.9" y="160.3" width="0.8" height="0.8" fill="#b4b4b4"/><rect x="436.0" y="165.7" width="0.8" height="0.8" fill="#a0a0a0"/><rect x="429.6" y="177.1" width="0.8" height="0.8" fill="#ffffff"/><rect x="366.2" y="175.0" width="0.8" height="0.8" fill="#d8d8d8"/><rect x="475.3" y="173.7" width="0.8" height="0.8" fill="#c8c8c8"/><rect x="419.7" y="164.5" width="0.8" height="0.8" fill="#c8c8c8"/><rect x="373.0" y="171.8" width="0.8" height="0.8" fill="#a0a0a0"/><rect x="367.2" y="144.2" width="0.8" height="0.8" fill="#c8c8c8"/><rect x="368.3" y="138.2" width="0.8" height="0.8" fill="#f0f0f0"/><rect x="419.5" y="177.5" width="0.8" height="0.8" fill="#ffffff"/><rect x="432.1" y="163.9" width="0.8" height="0.8" fill="#d8d8d8"/><rect x="420.0" y="177.5" width="0.8" height="0.8" fill="#c8c8c8"/><rect x="489.5" y="188.2" width="0.8" height="0.8" fill="#ffffff"/><rect x="446.5" y="165.5" width="0.8" height="0.8" fill="#b4b4b4"/><rect x="461.8" y="170.5" width="0.8" height="0.8" fill="#b4b4b4"/><rect x="389.0" y="156.3" width="0.8" height="0.8" fill="#f0f0f0"/><rect x="485.7" y="185.9" width="0.8" height="0.8" fill="#ffffff"/><rect x="475.1" y="185.7" width="0.8" height="0.8" fill="#b4b4b4"/><rect x="445.6" y="165.2" width="0.8" height="0.8" fill="#b4b4b4"/><rect x="430.1" y="166.0" width="0.8" height="0.8" fill="#b4b4b4"/><rect x="350.5" y="134.3" width="0.8" height="0.8" fill="#f0f0f0"/><rect x="502.5" y="183.6" width="0.8" height="0.8" fill="#b4b4b4"/><rect x="420.9" y="159.0" width="0.8" height="0.8" fill="#c8c8c8"/><rect x="438.4" y="178.1" width="0.8" height="0.8" fill="#b4b4b4"/><rect x="367.6" y="149.5" width="0.8" height="0.8" fill="#a0a0a0"/><rect x="499.1" y="188.5" width="0.8" height="0.8" fill="#b4b4b4"/><rect x="457.8" y="172.4" width="0.8" height="0.8" fill="#f0f0f0"/><rect x="475.6" y="184.9" width="0.8" height="0.8" fill="#a0a0a0"/><rect x="447.9" y="182.1" width="0.8" height="0.8" fill="#c8c8c8"/><rect x="351.3" y="137.3" width="0.8" height="0.8" fill="#b4b4b4"/><rect x="487.0" y="177.7" width="0.8" height="0.8" fill="#d8d8d8"/><rect x="470.9" y="186.4" width="0.8" height="0.8" fill="#d8d8d8"/><rect x="354.9" y="132.7" width="0.8" height="0.8" fill="#ffffff"/><rect x="487.8" y="189.3" width="0.8" height="0.8" fill="#ffffff"/><rect x="441.2" y="177.8" width="0.8" height="0.8" fill="#ffffff"/><rect x="394.7" y="177.2" width="0.8" height="0.8" fill="#d8d8d8"/><rect x="494.9" y="181.8" width="0.8" height="0.8" fill="#c8c8c8"/><rect x="480.8" y="187.5" width="0.8" height="0.8" fill="#f0f0f0"/><rect x="371.7" y="171.4" width="0.8" height="0.8" fill="#a0a0a0"/><rect x="364.9" y="170.8" width="0.8" height="0.8" fill="#d8d8d8"/><rect x="399.3" y="156.7" width="0.8" height="0.8" fill="#c8c8c8"/><rect x="359.6" y="142.7" width="0.8" height="0.8" fill="#ffffff"/><rect x="462.2" y="173.5" width="0.8" height="0.8" fill="#ffffff"/><rect x="356.5" y="162.9" width="0.8" height="0.8" fill="#d8d8d8"/><rect x="377.8" y="151.9" width="0.8" height="0.8" fill="#ffffff"/><rect x="359.4" y="169.5" width="0.8" height="0.8" fill="#a0a0a0"/><rect x="478.6" y="188.1" width="0.8" height="0.8" fill="#b4b4b4"/><rect x="480.5" y="187.8" width="0.8" height="0.8" fill="#f0f0f0"/><rect x="494.1" y="189.6" width="0.8" height="0.8" fill="#ffffff"/><rect x="357.7" y="165.8" width="0.8" height="0.8" fill="#b4b4b4"/><rect x="497.3" y="181.9" width="0.8" height="0.8" fill="#a0a0a0"/><rect x="363.3" y="163.4" width="0.8" height="0.8" fill="#b4b4b4"/><rect x="348.8" y="129.7" width="0.8" height="0.8" fill="#b4b4b4"/><rect x="415.4" y="157.6" width="0.8" height="0.8" fill="#a0a0a0"/><rect x="441.4" y="182.3" width="0.8" height="0.8" fill="#ffffff"/><rect x="481.7" y="178.3" width="0.8" height="0.8" fill="#c8c8c8"/><rect x="470.9" y="183.7" width="0.8" height="0.8" fill="#c8c8c8"/><rect x="361.0" y="141.7" width="0.8" height="0.8" fill="#c8c8c8"/><rect x="457.6" y="170.8" width="0.8" height="0.8" fill="#a0a0a0"/><rect x="398.6" y="158.0" width="0.8" height="0.8" fill="#a0a0a0"/><rect x="490.5" y="187.0" width="0.8" height="0.8" fill="#b4b4b4"/><rect x="453.1" y="172.2" width="0.8" height="0.8" fill="#d8d8d8"/><rect x="359.5" y="131.9" width="0.8" height="0.8" fill="#f0f0f0"/><rect x="382.9" y="157.9" width="0.8" height="0.8" fill="#f0f0f0"/><rect x="452.0" y="166.3" width="0.8" height="0.8" fill="#c8c8c8"/><rect x="428.0" y="183.5" width="0.8" height="0.8" fill="#d8d8d8"/><rect x="343.4" y="105.2" width="0.8" height="0.8" fill="#ffffff"/><rect x="419.3" y="164.0" width="0.8" height="0.8" fill="#a0a0a0"/><rect x="370.6" y="174.0" width="0.8" height="0.8" fill="#d8d8d8"/><rect x="477.2" y="187.5" width="0.8" height="0.8" fill="#d8d8d8"/><rect x="404.7" y="179.1" width="0.8" height="0.8" fill="#a0a0a0"/><rect x="399.4" y="174.8" width="0.8" height="0.8" fill="#b4b4b4"/><rect x="436.2" y="162.5" width="0.8" height="0.8" fill="#c8c8c8"/><rect x="458.5" y="170.1" width="0.8" height="0.8" fill="#c8c8c8"/><rect x="391.9" y="155.5" width="0.8" height="0.8" fill="#b4b4b4"/><rect x="344.5" y="123.4" width="0.8" height="0.8" fill="#a0a0a0"/><rect x="443.0" y="178.9" width="0.8" height="0.8" fill="#d8d8d8"/><rect x="385.3" y="172.4" width="0.8" height="0.8" fill="#ffffff"/><rect x="433.7" y="177.4" width="0.8" height="0.8" fill="#ffffff"/><rect x="346.7" y="163.1" width="0.8" height="0.8" fill="#f0f0f0"/><rect x="373.3" y="148.9" width="0.8" height="0.8" fill="#a0a0a0"/><rect x="399.7" y="159.9" width="0.8" height="0.8" fill="#f0f0f0"/><rect x="469.7" y="170.4" width="0.8" height="0.8" fill="#f0f0f0"/><rect x="396.3" y="159.7" width="0.8" height="0.8" fill="#b4b4b4"/><rect x="397.7" y="175.7" width="0.8" height="0.8" fill="#a0a0a0"/><rect x="454.8" y="186.4" width="0.8" height="0.8" fill="#f0f0f0"/><rect x="418.9" y="159.3" width="0.8" height="0.8" fill="#b4b4b4"/><rect x="502.0" y="183.6" width="0.8" height="0.8" fill="#f0f0f0"/><rect x="449.5" y="167.3" width="0.8" height="0.8" fill="#f0f0f0"/><rect x="390.0" y="151.3" width="0.8" height="0.8" fill="#c8c8c8"/><rect x="457.3" y="170.5" width="0.8" height="0.8" fill="#ffffff"/><rect x="492.4" y="182.3" width="0.8" height="0.8" fill="#ffffff"/><rect x="490.4" y="187.1" width="0.8" height="0.8" fill="#c8c8c8"/><rect x="500.5" y="184.2" width="0.8" height="0.8" fill="#d8d8d8"/><rect x="457.5" y="186.4" width="0.8" height="0.8" fill="#c8c8c8"/><rect x="486.2" y="177.2" width="0.8" height="0.8" fill="#a0a0a0"/><rect x="463.5" y="183.5" width="0.8" height="0.8" fill="#a0a0a0"/><rect x="376.4" y="147.3" width="0.8" height="0.8" fill="#ffffff"/><rect x="386.8" y="170.7" width="0.8" height="0.8" fill="#b4b4b4"/><rect x="459.6" y="185.1" width="0.8" height="0.8" fill="#a0a0a0"/><rect x="353.0" y="165.4" width="0.8" height="0.8" fill="#ffffff"/><rect x="363.2" y="140.8" width="0.8" height="0.8" fill="#a0a0a0"/><rect x="444.4" y="179.7" width="0.8" height="0.8" fill="#c8c8c8"/><rect x="481.2" y="176.7" width="0.8" height="0.8" fill="#ffffff"/><rect x="450.7" y="165.4" width="0.8" height="0.8" fill="#d8d8d8"/><rect x="469.6" y="173.9" width="0.8" height="0.8" fill="#f0f0f0"/><rect x="420.9" y="176.9" width="0.8" height="0.8" fill="#d8d8d8"/><rect x="482.1" y="176.1" width="0.8" height="0.8" fill="#ffffff"/><rect x="500.5" y="183.6" width="0.8" height="0.8" fill="#ffffff"/><rect x="475.9" y="172.3" width="0.8" height="0.8" fill="#b4b4b4"/><rect x="364.2" y="164.3" width="0.8" height="0.8" fill="#f0f0f0"/><rect x="399.5" y="158.8" width="0.8" height="0.8" fill="#f0f0f0"/><rect x="430.7" y="181.6" width="0.8" height="0.8" fill="#c8c8c8"/><rect x="378.3" y="177.5" width="0.8" height="0.8" fill="#d8d8d8"/><rect x="464.3" y="184.1" width="0.8" height="0.8" fill="#f0f0f0"/><rect x="429.8" y="181.1" width="0.8" height="0.8" fill="#c8c8c8"/><rect x="425.6" y="176.1" width="0.8" height="0.8" fill="#a0a0a0"/><rect x="431.2" y="166.0" width="0.8" height="0.8" fill="#c8c8c8"/><rect x="365.5" y="168.9" width="0.8" height="0.8" fill="#a0a0a0"/><rect x="492.3" y="186.7" width="0.8" height="0.8" fill="#ffffff"/><rect x="422.1" y="176.2" width="0.8" height="0.8" fill="#ffffff"/><rect x="400.2" y="154.6" width="0.8" height="0.8" fill="#ffffff"/><rect x="479.2" y="186.9" width="0.8" height="0.8" fill="#c8c8c8"/><rect x="466.7" y="175.6" width="0.8" height="0.8" fill="#d8d8d8"/><rect x="375.6" y="177.9" width="0.8" height="0.8" fill="#d8d8d8"/><rect x="415.4" y="163.8" width="0.8" height="0.8" fill="#a0a0a0"/><rect x="447.7" y="169.6" width="0.8" height="0.8" fill="#d8d8d8"/><rect x="450.0" y="166.3" width="0.8" height="0.8" fill="#d8d8d8"/><rect x="407.3" y="183.6" width="0.8" height="0.8" fill="#ffffff"/><rect x="480.0" y="173.8" width="0.8" height="0.8" fill="#ffffff"/><rect x="411.2" y="157.2" width="0.8" height="0.8" fill="#f0f0f0"/><rect x="409.9" y="162.6" width="0.8" height="0.8" fill="#d8d8d8"/><rect x="376.1" y="169.2" width="0.8" height="0.8" fill="#f0f0f0"/><rect x="491.8" y="189.4" width="0.8" height="0.8" fill="#b4b4b4"/><rect x="473.9" y="173.5" width="0.8" height="0.8" fill="#d8d8d8"/><rect x="481.9" y="176.1" width="0.8" height="0.8" fill="#ffffff"/><rect x="437.6" y="165.7" width="0.8" height="0.8" fill="#f0f0f0"/><rect x="375.0" y="171.3" width="0.8" height="0.8" fill="#f0f0f0"/><rect x="466.0" y="171.8" width="0.8" height="0.8" fill="#b4b4b4"/><rect x="501.7" y="182.7" width="0.8" height="0.8" fill="#a0a0a0"/><rect x="365.7" y="165.4" width="0.8" height="0.8" fill="#c8c8c8"/><rect x="365.5" y="164.9" width="0.8" height="0.8" fill="#b4b4b4"/><rect x="416.1" y="160.0" width="0.8" height="0.8" fill="#ffffff"/><rect x="489.4" y="189.1" width="0.8" height="0.8" fill="#a0a0a0"/><rect x="435.6" y="165.6" width="0.8" height="0.8" fill="#a0a0a0"/><rect x="347.3" y="154.4" width="0.8" height="0.8" fill="#d8d8d8"/><rect x="453.9" y="180.3" width="0.8" height="0.8" fill="#c8c8c8"/><rect x="351.6" y="137.5" width="0.8" height="0.8" fill="#b4b4b4"/><rect x="425.9" y="160.6" width="0.8" height="0.8" fill="#ffffff"/><rect x="365.1" y="170.1" width="0.8" height="0.8" fill="#a0a0a0"/><rect x="426.7" y="185.0" width="0.8" height="0.8" fill="#a0a0a0"/><rect x="397.6" y="161.0" width="0.8" height="0.8" fill="#b4b4b4"/><rect x="459.2" y="168.4" width="0.8" height="0.8" fill="#c8c8c8"/><rect x="384.6" y="171.6" width="0.8" height="0.8" fill="#a0a0a0"/><rect x="407.0" y="176.4" width="0.8" height="0.8" fill="#a0a0a0"/><rect x="393.7" y="155.6" width="0.8" height="0.8" fill="#c8c8c8"/><rect x="429.7" y="185.4" width="0.8" height="0.8" fill="#f0f0f0"/><rect x="461.4" y="170.5" width="0.8" height="0.8" fill="#ffffff"/><rect x="408.8" y="176.9" width="0.8" height="0.8" fill="#d8d8d8"/><rect x="483.4" y="188.8" width="0.8" height="0.8" fill="#ffffff"/><rect x="342.0" y="160.9" width="0.8" height="0.8" fill="#c8c8c8"/><rect x="453.1" y="187.0" width="0.8" height="0.8" fill="#f0f0f0"/><rect x="373.2" y="151.8" width="0.8" height="0.8" fill="#f0f0f0"/><rect x="346.6" y="156.5" width="0.8" height="0.8" fill="#ffffff"/><rect x="393.5" y="176.8" width="0.8" height="0.8" fill="#c8c8c8"/><rect x="414.7" y="178.7" width="0.8" height="0.8" fill="#ffffff"/><rect x="478.9" y="187.2" width="0.8" height="0.8" fill="#d8d8d8"/><rect x="379.0" y="176.9" width="0.8" height="0.8" fill="#d8d8d8"/><rect x="398.5" y="161.2" width="0.8" height="0.8" fill="#c8c8c8"/><rect x="440.0" y="179.9" width="0.8" height="0.8" fill="#ffffff"/><rect x="469.8" y="188.1" width="0.8" height="0.8" fill="#f0f0f0"/><rect x="383.9" y="174.6" width="0.8" height="0.8" fill="#ffffff"/><rect x="397.3" y="177.6" width="0.8" height="0.8" fill="#b4b4b4"/><rect x="351.8" y="161.5" width="0.8" height="0.8" fill="#b4b4b4"/><rect x="426.3" y="177.4" width="0.8" height="0.8" fill="#b4b4b4"/><rect x="365.8" y="166.0" width="0.8" height="0.8" fill="#f0f0f0"/><rect x="479.2" y="188.6" width="0.8" height="0.8" fill="#c8c8c8"/><rect x="402.7" y="181.3" width="0.8" height="0.8" fill="#a0a0a0"/><rect x="407.3" y="176.6" width="0.8" height="0.8" fill="#c8c8c8"/><rect x="398.7" y="177.2" width="0.8" height="0.8" fill="#d8d8d8"/><rect x="448.0" y="166.2" width="0.8" height="0.8" fill="#d8d8d8"/><rect x="453.3" y="168.8" width="0.8" height="0.8" fill="#f0f0f0"/><rect x="369.3" y="165.0" width="0.8" height="0.8" fill="#b4b4b4"/><rect x="400.4" y="174.0" width="0.8" height="0.8" fill="#c8c8c8"/><rect x="425.6" y="177.4" width="0.8" height="0.8" fill="#ffffff"/><rect x="373.6" y="167.2" width="0.8" height="0.8" fill="#b4b4b4"/><rect x="390.6" y="180.7" width="0.8" height="0.8" fill="#c8c8c8"/><rect x="380.2" y="169.8" width="0.8" height="0.8" fill="#ffffff"/><rect x="420.8" y="158.8" width="0.8" height="0.8" fill="#f0f0f0"/><rect x="388.1" y="180.3" width="0.8" height="0.8" fill="#ffffff"/><rect x="412.6" y="161.7" width="0.8" height="0.8" fill="#c8c8c8"/><rect x="497.6" y="182.5" width="0.8" height="0.8" fill="#c8c8c8"/><rect x="398.0" y="157.7" width="0.8" height="0.8" fill="#ffffff"/><rect x="372.1" y="174.8" width="0.8" height="0.8" fill="#c8c8c8"/><rect x="351.4" y="135.9" width="0.8" height="0.8" fill="#a0a0a0"/><rect x="463.1" y="171.7" width="0.8" height="0.8" fill="#d8d8d8"/><rect x="492.1" y="188.9" width="0.8" height="0.8" fill="#a0a0a0"/><rect x="436.8" y="164.7" width="0.8" height="0.8" fill="#f0f0f0"/><rect x="411.5" y="174.7" width="0.8" height="0.8" fill="#a0a0a0"/><rect x="412.1" y="160.0" width="0.8" height="0.8" fill="#f0f0f0"/><rect x="342.7" y="99.1" width="0.8" height="0.8" fill="#ffffff"/><rect x="347.7" y="160.4" width="0.8" height="0.8" fill="#f0f0f0"/><rect x="403.7" y="154.6" width="0.8" height="0.8" fill="#f0f0f0"/><rect x="353.6" y="158.8" width="0.8" height="0.8" fill="#a0a0a0"/><rect x="478.0" y="175.5" width="0.8" height="0.8" fill="#f0f0f0"/><rect x="451.0" y="183.0" width="0.8" height="0.8" fill="#a0a0a0"/><rect x="430.0" y="184.0" width="0.8" height="0.8" fill="#b4b4b4"/><rect x="502.2" y="189.8" width="0.8" height="0.8" fill="#b4b4b4"/><rect x="392.9" y="160.2" width="0.8" height="0.8" fill="#b4b4b4"/><rect x="500.7" y="182.6" width="0.8" height="0.8" fill="#c8c8c8"/><rect x="403.1" y="175.1" width="0.8" height="0.8" fill="#d8d8d8"/><rect x="423.6" y="158.8" width="0.8" height="0.8" fill="#c8c8c8"/><rect x="381.3" y="152.9" width="0.8" height="0.8" fill="#ffffff"/><rect x="382.7" y="149.5" width="0.8" height="0.8" fill="#ffffff"/><rect x="446.4" y="183.7" width="0.8" height="0.8" fill="#ffffff"/><rect x="435.4" y="166.8" width="0.8" height="0.8" fill="#b4b4b4"/><rect x="414.8" y="180.9" width="0.8" height="0.8" fill="#ffffff"/><rect x="391.9" y="175.0" width="0.8" height="0.8" fill="#ffffff"/><rect x="474.0" y="172.8" width="0.8" height="0.8" fill="#d8d8d8"/><rect x="388.2" y="179.0" width="0.8" height="0.8" fill="#ffffff"/><rect x="439.7" y="167.1" width="0.8" height="0.8" fill="#b4b4b4"/><rect x="482.8" y="177.0" width="0.8" height="0.8" fill="#ffffff"/><rect x="361.3" y="143.8" width="0.8" height="0.8" fill="#f0f0f0"/><rect x="437.4" y="168.0" width="0.8" height="0.8" fill="#ffffff"/><rect x="460.1" y="168.9" width="0.8" height="0.8" fill="#ffffff"/><rect x="450.1" y="166.2" width="0.8" height="0.8" fill="#f0f0f0"/><rect x="366.8" y="173.5" width="0.8" height="0.8" fill="#ffffff"/><rect x="357.5" y="139.6" width="0.8" height="0.8" fill="#a0a0a0"/><rect x="408.1" y="175.3" width="0.8" height="0.8" fill="#d8d8d8"/><rect x="451.8" y="165.7" width="0.8" height="0.8" fill="#ffffff"/><rect x="362.7" y="139.1" width="0.8" height="0.8" fill="#f0f0f0"/><rect x="378.7" y="172.0" width="0.8" height="0.8" fill="#ffffff"/><rect x="457.2" y="168.4" width="0.8" height="0.8" fill="#ffffff"/><rect x="476.9" y="177.2" width="0.8" height="0.8" fill="#b4b4b4"/><rect x="404.3" y="157.2" width="0.8" height="0.8" fill="#ffffff"/><rect x="388.1" y="177.8" width="0.8" height="0.8" fill="#b4b4b4"/><rect x="416.1" y="178.3" width="0.8" height="0.8" fill="#ffffff"/><rect x="405.9" y="157.3" width="0.8" height="0.8" fill="#ffffff"/><rect x="490.1" y="189.3" width="0.8" height="0.8" fill="#ffffff"/><rect x="353.0" y="124.2" width="0.8" height="0.8" fill="#f0f0f0"/><rect x="421.3" y="175.1" width="0.8" height="0.8" fill="#d8d8d8"/><rect x="386.4" y="155.3" width="0.8" height="0.8" fill="#f0f0f0"/><rect x="355.5" y="130.4" width="0.8" height="0.8" fill="#f0f0f0"/><rect x="477.6" y="178.1" width="0.8" height="0.8" fill="#a0a0a0"/><rect x="434.8" y="161.0" width="0.8" height="0.8" fill="#b4b4b4"/><rect x="493.5" y="186.6" width="0.8" height="0.8" fill="#c8c8c8"/><rect x="397.7" y="155.4" width="0.8" height="0.8" fill="#c8c8c8"/><rect x="370.0" y="169.0" width="0.8" height="0.8" fill="#a0a0a0"/><rect x="457.9" y="171.8" width="0.8" height="0.8" fill="#a0a0a0"/><rect x="468.3" y="185.5" width="0.8" height="0.8" fill="#a0a0a0"/><rect x="347.6" y="157.9" width="0.8" height="0.8" fill="#ffffff"/><rect x="362.5" y="167.2" width="0.8" height="0.8" fill="#c8c8c8"/><rect x="458.6" y="183.4" width="0.8" height="0.8" fill="#ffffff"/><rect x="493.1" y="182.1" width="0.8" height="0.8" fill="#f0f0f0"/><rect x="476.2" y="173.8" width="0.8" height="0.8" fill="#a0a0a0"/><rect x="483.0" y="177.4" width="0.8" height="0.8" fill="#ffffff"/><rect x="428.5" y="161.4" width="0.8" height="0.8" fill="#ffffff"/><rect x="427.6" y="178.9" width="0.8" height="0.8" fill="#b4b4b4"/><rect x="386.9" y="180.9" width="0.8" height="0.8" fill="#b4b4b4"/><rect x="458.4" y="182.6" width="0.8" height="0.8" fill="#a0a0a0"/><rect x="343.6" y="155.0" width="0.8" height="0.8" fill="#f0f0f0"/><rect x="454.3" y="170.9" width="0.8" height="0.8" fill="#a0a0a0"/><rect x="462.2" y="169.7" width="0.8" height="0.8" fill="#a0a0a0"/><rect x="409.6" y="173.6" width="0.8" height="0.8" fill="#ffffff"/><rect x="484.8" y="178.4" width="0.8" height="0.8" fill="#b4b4b4"/><rect x="380.5" y="174.6" width="0.8" height="0.8" fill="#f0f0f0"/><rect x="351.2" y="131.6" width="0.8" height="0.8" fill="#a0a0a0"/><rect x="347.8" y="162.8" width="0.8" height="0.8" fill="#f0f0f0"/><rect x="390.2" y="157.7" width="0.8" height="0.8" fill="#ffffff"/><rect x="489.7" y="181.6" width="0.8" height="0.8" fill="#d8d8d8"/><rect x="468.1" y="174.6" width="0.8" height="0.8" fill="#b4b4b4"/><rect x="459.6" y="182.2" width="0.8" height="0.8" fill="#c8c8c8"/><rect x="465.4" y="174.9" width="0.8" height="0.8" fill="#ffffff"/><rect x="394.6" y="182.3" width="0.8" height="0.8" fill="#f0f0f0"/><rect x="483.3" y="177.6" width="0.8" height="0.8" fill="#c8c8c8"/><rect x="487.7" y="188.1" width="0.8" height="0.8" fill="#b4b4b4"/><rect x="481.0" y="176.0" width="0.8" height="0.8" fill="#d8d8d8"/><rect x="356.1" y="164.1" width="0.8" height="0.8" fill="#b4b4b4"/><rect x="470.8" y="175.2" width="0.8" height="0.8" fill="#d8d8d8"/><rect x="363.0" y="175.6" width="0.8" height="0.8" fill="#a0a0a0"/><rect x="461.4" y="186.6" width="0.8" height="0.8" fill="#ffffff"/><rect x="367.8" y="145.5" width="0.8" height="0.8" fill="#f0f0f0"/><rect x="423.9" y="180.9" width="0.8" height="0.8" fill="#ffffff"/><rect x="493.8" y="182.9" width="0.8" height="0.8" fill="#f0f0f0"/><rect x="470.6" y="187.8" width="0.8" height="0.8" fill="#b4b4b4"/><rect x="373.1" y="145.0" width="0.8" height="0.8" fill="#d8d8d8"/><rect x="433.9" y="184.7" width="0.8" height="0.8" fill="#a0a0a0"/><rect x="404.4" y="181.3" width="0.8" height="0.8" fill="#ffffff"/><rect x="466.0" y="171.4" width="0.8" height="0.8" fill="#a0a0a0"/><rect x="378.0" y="177.2" width="0.8" height="0.8" fill="#ffffff"/><rect x="437.2" y="183.9" width="0.8" height="0.8" fill="#a0a0a0"/><rect x="389.7" y="180.9" width="0.8" height="0.8" fill="#f0f0f0"/><rect x="417.9" y="159.5" width="0.8" height="0.8" fill="#b4b4b4"/><rect x="395.3" y="155.1" width="0.8" height="0.8" fill="#f0f0f0"/><rect x="416.4" y="159.4" width="0.8" height="0.8" fill="#c8c8c8"/><rect x="371.4" y="170.8" width="0.8" height="0.8" fill="#ffffff"/><rect x="471.4" y="174.9" width="0.8" height="0.8" fill="#a0a0a0"/><rect x="401.8" y="176.0" width="0.8" height="0.8" fill="#c8c8c8"/><rect x="495.7" y="180.3" width="0.8" height="0.8" fill="#f0f0f0"/><rect x="439.6" y="180.5" width="0.8" height="0.8" fill="#d8d8d8"/><rect x="392.6" y="179.5" width="0.8" height="0.8" fill="#ffffff"/><rect x="371.8" y="167.8" width="0.8" height="0.8" fill="#ffffff"/><rect x="342.7" y="144.7" width="0.8" height="0.8" fill="#b4b4b4"/><rect x="414.5" y="176.0" width="0.8" height="0.8" fill="#c8c8c8"/><rect x="450.3" y="184.8" width="0.8" height="0.8" fill="#f0f0f0"/><rect x="424.1" y="165.6" width="0.8" height="0.8" fill="#c8c8c8"/><rect x="448.7" y="168.6" width="0.8" height="0.8" fill="#d8d8d8"/><rect x="384.2" y="152.2" width="0.8" height="0.8" fill="#ffffff"/><rect x="443.1" y="166.5" width="0.8" height="0.8" fill="#ffffff"/><rect x="350.8" y="162.7" width="0.8" height="0.8" fill="#ffffff"/><rect x="498.7" y="183.7" width="0.8" height="0.8" fill="#ffffff"/><rect x="360.4" y="135.4" width="0.8" height="0.8" fill="#ffffff"/><rect x="484.9" y="188.3" width="0.8" height="0.8" fill="#a0a0a0"/><rect x="494.1" y="178.9" width="0.8" height="0.8" fill="#c8c8c8"/><rect x="364.5" y="171.0" width="0.8" height="0.8" fill="#a0a0a0"/><rect x="502.1" y="184.8" width="0.8" height="0.8" fill="#c8c8c8"/><rect x="442.4" y="168.1" width="0.8" height="0.8" fill="#a0a0a0"/><rect x="409.1" y="180.2" width="0.8" height="0.8" fill="#f0f0f0"/><rect x="494.4" y="188.1" width="0.8" height="0.8" fill="#ffffff"/><rect x="399.3" y="174.9" width="0.8" height="0.8" fill="#f0f0f0"/><rect x="434.0" y="183.7" width="0.8" height="0.8" fill="#c8c8c8"/><rect x="485.4" y="179.7" width="0.8" height="0.8" fill="#a0a0a0"/><rect x="367.4" y="166.5" width="0.8" height="0.8" fill="#c8c8c8"/><rect x="487.6" y="189.3" width="0.8" height="0.8" fill="#f0f0f0"/><rect x="497.2" y="187.5" width="0.8" height="0.8" fill="#c8c8c8"/><rect x="485.0" y="178.7" width="0.8" height="0.8" fill="#d8d8d8"/><rect x="406.2" y="176.3" width="0.8" height="0.8" fill="#c8c8c8"/><rect x="403.4" y="174.8" width="0.8" height="0.8" fill="#b4b4b4"/><rect x="490.5" y="187.8" width="0.8" height="0.8" fill="#d8d8d8"/><rect x="444.0" y="180.5" width="0.8" height="0.8" fill="#b4b4b4"/><rect x="386.2" y="177.1" width="0.8" height="0.8" fill="#f0f0f0"/><rect x="449.4" y="181.2" width="0.8" height="0.8" fill="#c8c8c8"/><rect x="456.9" y="172.0" width="0.8" height="0.8" fill="#f0f0f0"/><rect x="442.9" y="168.2" width="0.8" height="0.8" fill="#a0a0a0"/><rect x="427.0" y="178.2" width="0.8" height="0.8" fill="#ffffff"/><rect x="492.8" y="179.4" width="0.8" height="0.8" fill="#a0a0a0"/><rect x="482.4" y="177.8" width="0.8" height="0.8" fill="#f0f0f0"/><rect x="407.8" y="173.4" width="0.8" height="0.8" fill="#c8c8c8"/><rect x="368.0" y="146.7" width="0.8" height="0.8" fill="#ffffff"/><rect x="452.8" y="182.7" width="0.8" height="0.8" fill="#f0f0f0"/><rect x="461.0" y="170.2" width="0.8" height="0.8" fill="#f0f0f0"/><rect x="395.5" y="179.0" width="0.8" height="0.8" fill="#b4b4b4"/><rect x="427.0" y="182.0" width="0.8" height="0.8" fill="#c8c8c8"/><rect x="362.7" y="134.1" width="0.8" height="0.8" fill="#d8d8d8"/><rect x="352.0" y="131.9" width="0.8" height="0.8" fill="#b4b4b4"/><rect x="434.4" y="165.0" width="0.8" height="0.8" fill="#c8c8c8"/><rect x="467.9" y="187.5" width="0.8" height="0.8" fill="#b4b4b4"/><rect x="365.6" y="173.7" width="0.8" height="0.8" fill="#ffffff"/><rect x="361.4" y="132.4" width="0.8" height="0.8" fill="#f0f0f0"/><rect x="491.2" y="179.1" width="0.8" height="0.8" fill="#ffffff"/><rect x="454.8" y="184.5" width="0.8" height="0.8" fill="#c8c8c8"/><rect x="456.0" y="184.6" width="0.8" height="0.8" fill="#ffffff"/><rect x="385.2" y="151.7" width="0.8" height="0.8" fill="#a0a0a0"/><rect x="399.2" y="181.7" width="0.8" height="0.8" fill="#a0a0a0"/><rect x="399.2" y="171.9" width="0.8" height="0.8" fill="#f0f0f0"/><rect x="495.1" y="181.1" width="0.8" height="0.8" fill="#f0f0f0"/><rect x="363.6" y="134.7" width="0.8" height="0.8" fill="#d8d8d8"/><rect x="436.4" y="176.7" width="0.8" height="0.8" fill="#ffffff"/><rect x="474.7" y="173.1" width="0.8" height="0.8" fill="#ffffff"/><rect x="492.2" y="188.1" width="0.8" height="0.8" fill="#b4b4b4"/><rect x="376.3" y="169.9" width="0.8" height="0.8" fill="#f0f0f0"/><rect x="498.3" y="189.1" width="0.8" height="0.8" fill="#b4b4b4"/><rect x="466.7" y="172.4" width="0.8" height="0.8" fill="#d8d8d8"/><rect x="401.6" y="174.6" width="0.8" height="0.8" fill="#a0a0a0"/><rect x="435.5" y="164.8" width="0.8" height="0.8" fill="#ffffff"/><rect x="407.2" y="182.8" width="0.8" height="0.8" fill="#a0a0a0"/><rect x="470.9" y="185.2" width="0.8" height="0.8" fill="#c8c8c8"/><rect x="352.7" y="125.8" width="0.8" height="0.8" fill="#d8d8d8"/><rect x="497.5" y="188.8" width="0.8" height="0.8" fill="#b4b4b4"/><rect x="396.3" y="155.7" width="0.8" height="0.8" fill="#c8c8c8"/><rect x="463.7" y="174.3" width="0.8" height="0.8" fill="#a0a0a0"/><rect x="411.9" y="161.5" width="0.8" height="0.8" fill="#b4b4b4"/><rect x="465.9" y="173.9" width="0.8" height="0.8" fill="#f0f0f0"/><rect x="498.1" y="189.8" width="0.8" height="0.8" fill="#ffffff"/><rect x="457.7" y="181.3" width="0.8" height="0.8" fill="#b4b4b4"/><rect x="408.6" y="180.1" width="0.8" height="0.8" fill="#ffffff"/><rect x="442.8" y="165.3" width="0.8" height="0.8" fill="#b4b4b4"/><rect x="432.4" y="163.0" width="0.8" height="0.8" fill="#a0a0a0"/><rect x="348.3" y="122.7" width="0.8" height="0.8" fill="#a0a0a0"/><rect x="471.0" y="171.0" width="0.8" height="0.8" fill="#a0a0a0"/><rect x="479.6" y="178.5" width="0.8" height="0.8" fill="#d8d8d8"/><rect x="501.0" y="189.5" width="0.8" height="0.8" fill="#d8d8d8"/><rect x="485.9" y="188.7" width="0.8" height="0.8" fill="#ffffff"/><rect x="432.1" y="177.8" width="0.8" height="0.8" fill="#c8c8c8"/><rect x="447.1" y="180.1" width="0.8" height="0.8" fill="#c8c8c8"/><rect x="493.7" y="187.9" width="0.8" height="0.8" fill="#ffffff"/><rect x="458.3" y="172.9" width="0.8" height="0.8" fill="#d8d8d8"/><rect x="362.8" y="136.1" width="0.8" height="0.8" fill="#ffffff"/><rect x="426.9" y="165.2" width="0.8" height="0.8" fill="#f0f0f0"/><rect x="355.1" y="161.2" width="0.8" height="0.8" fill="#ffffff"/><rect x="427.4" y="161.7" width="0.8" height="0.8" fill="#ffffff"/><rect x="431.5" y="165.8" width="0.8" height="0.8" fill="#b4b4b4"/><rect x="342.4" y="94.7" width="0.8" height="0.8" fill="#a0a0a0"/><rect x="357.0" y="173.8" width="0.8" height="0.8" fill="#d8d8d8"/><rect x="414.8" y="180.6" width="0.8" height="0.8" fill="#ffffff"/><rect x="488.6" y="187.9" width="0.8" height="0.8" fill="#ffffff"/><rect x="349.9" y="127.1" width="0.8" height="0.8" fill="#ffffff"/><rect x="480.2" y="187.8" width="0.8" height="0.8" fill="#d8d8d8"/><rect x="452.8" y="166.5" width="0.8" height="0.8" fill="#d8d8d8"/><rect x="437.8" y="163.3" width="0.8" height="0.8" fill="#b4b4b4"/><rect x="342.0" y="156.5" width="0.8" height="0.8" fill="#b4b4b4"/><rect x="443.4" y="178.1" width="0.8" height="0.8" fill="#a0a0a0"/><rect x="487.7" y="176.5" width="0.8" height="0.8" fill="#d8d8d8"/><rect x="349.1" y="134.0" width="0.8" height="0.8" fill="#b4b4b4"/><rect x="466.3" y="172.7" width="0.8" height="0.8" fill="#ffffff"/><rect x="489.5" y="177.9" width="0.8" height="0.8" fill="#a0a0a0"/><rect x="418.4" y="182.3" width="0.8" height="0.8" fill="#ffffff"/><rect x="356.8" y="135.3" width="0.8" height="0.8" fill="#ffffff"/><rect x="423.8" y="164.5" width="0.8" height="0.8" fill="#d8d8d8"/><rect x="489.0" y="181.0" width="0.8" height="0.8" fill="#ffffff"/><rect x="445.8" y="167.5" width="0.8" height="0.8" fill="#ffffff"/><rect x="437.1" y="177.3" width="0.8" height="0.8" fill="#a0a0a0"/><rect x="447.9" y="182.3" width="0.8" height="0.8" fill="#ffffff"/><rect x="342.4" y="142.1" width="0.8" height="0.8" fill="#f0f0f0"/><rect x="423.0" y="176.6" width="0.8" height="0.8" fill="#ffffff"/><rect x="446.1" y="166.7" width="0.8" height="0.8" fill="#a0a0a0"/><rect x="440.0" y="165.7" width="0.8" height="0.8" fill="#ffffff"/><rect x="356.4" y="171.9" width="0.8" height="0.8" fill="#f0f0f0"/><rect x="499.9" y="182.0" width="0.8" height="0.8" fill="#c8c8c8"/><rect x="464.2" y="172.5" width="0.8" height="0.8" fill="#c8c8c8"/><rect x="465.2" y="169.2" width="0.8" height="0.8" fill="#a0a0a0"/><rect x="451.3" y="181.1" width="0.8" height="0.8" fill="#d8d8d8"/><rect x="414.7" y="161.3" width="0.8" height="0.8" fill="#ffffff"/><rect x="375.2" y="176.0" width="0.8" height="0.8" fill="#a0a0a0"/><rect x="488.4" y="188.4" width="0.8" height="0.8" fill="#a0a0a0"/><rect x="449.3" y="170.7" width="0.8" height="0.8" fill="#f0f0f0"/><rect x="482.8" y="179.7" width="0.8" height="0.8" fill="#d8d8d8"/><rect x="382.4" y="156.4" width="0.8" height="0.8" fill="#f0f0f0"/><rect x="397.4" y="153.2" width="0.8" height="0.8" fill="#d8d8d8"/><rect x="367.5" y="172.9" width="0.8" height="0.8" fill="#d8d8d8"/><rect x="464.2" y="188.0" width="0.8" height="0.8" fill="#f0f0f0"/><rect x="393.8" y="170.6" width="0.8" height="0.8" fill="#ffffff"/><rect x="344.6" y="121.9" width="0.8" height="0.8" fill="#f0f0f0"/><rect x="394.2" y="179.6" width="0.8" height="0.8" fill="#c8c8c8"/><rect x="469.4" y="183.9" width="0.8" height="0.8" fill="#f0f0f0"/><rect x="478.5" y="175.0" width="0.8" height="0.8" fill="#a0a0a0"/><rect x="427.9" y="176.8" width="0.8" height="0.8" fill="#ffffff"/><rect x="349.8" y="158.3" width="0.8" height="0.8" fill="#d8d8d8"/><rect x="491.4" y="188.8" width="0.8" height="0.8" fill="#ffffff"/><rect x="355.7" y="130.9" width="0.8" height="0.8" fill="#a0a0a0"/><rect x="456.4" y="167.3" width="0.8" height="0.8" fill="#b4b4b4"/><rect x="439.7" y="178.5" width="0.8" height="0.8" fill="#ffffff"/><rect x="387.1" y="153.2" width="0.8" height="0.8" fill="#a0a0a0"/><rect x="356.0" y="168.5" width="0.8" height="0.8" fill="#ffffff"/><rect x="496.7" y="188.6" width="0.8" height="0.8" fill="#ffffff"/><rect x="352.4" y="129.4" width="0.8" height="0.8" fill="#a0a0a0"/><rect x="351.5" y="122.7" width="0.8" height="0.8" fill="#c8c8c8"/><rect x="353.2" y="167.7" width="0.8" height="0.8" fill="#ffffff"/><rect x="497.6" y="187.8" width="0.8" height="0.8" fill="#f0f0f0"/><rect x="413.8" y="175.9" width="0.8" height="0.8" fill="#d8d8d8"/><rect x="407.2" y="177.4" width="0.8" height="0.8" fill="#ffffff"/><rect x="482.8" y="187.0" width="0.8" height="0.8" fill="#c8c8c8"/><rect x="475.4" y="177.0" width="0.8" height="0.8" fill="#b4b4b4"/><rect x="358.4" y="134.2" width="0.8" height="0.8" fill="#c8c8c8"/><rect x="386.0" y="151.6" width="0.8" height="0.8" fill="#a0a0a0"/><rect x="366.7" y="171.7" width="0.8" height="0.8" fill="#ffffff"/><rect x="383.6" y="153.8" width="0.8" height="0.8" fill="#f0f0f0"/><rect x="499.7" y="183.3" width="0.8" height="0.8" fill="#ffffff"/><rect x="435.3" y="163.2" width="0.8" height="0.8" fill="#c8c8c8"/><rect x="478.7" y="178.7" width="0.8" height="0.8" fill="#c8c8c8"/><rect x="428.7" y="162.3" width="0.8" height="0.8" fill="#ffffff"/><rect x="381.8" y="153.8" width="0.8" height="0.8" fill="#a0a0a0"/><rect x="481.9" y="185.7" width="0.8" height="0.8" fill="#f0f0f0"/><rect x="402.6" y="174.2" width="0.8" height="0.8" fill="#b4b4b4"/><rect x="484.2" y="188.6" width="0.8" height="0.8" fill="#b4b4b4"/><rect x="444.7" y="169.3" width="0.8" height="0.8" fill="#a0a0a0"/><rect x="357.3" y="133.5" width="0.8" height="0.8" fill="#c8c8c8"/><rect x="345.9" y="112.5" width="0.8" height="0.8" fill="#d8d8d8"/><rect x="430.8" y="163.0" width="0.8" height="0.8" fill="#d8d8d8"/><rect x="418.5" y="159.1" width="0.8" height="0.8" fill="#d8d8d8"/><rect x="351.0" y="126.2" width="0.8" height="0.8" fill="#d8d8d8"/><rect x="416.9" y="179.8" width="0.8" height="0.8" fill="#a0a0a0"/><rect x="423.4" y="160.0" width="0.8" height="0.8" fill="#ffffff"/><rect x="481.6" y="188.5" width="0.8" height="0.8" fill="#a0a0a0"/><rect x="350.9" y="122.7" width="0.8" height="0.8" fill="#ffffff"/><rect x="368.7" y="167.5" width="0.8" height="0.8" fill="#a0a0a0"/><rect x="418.2" y="164.7" width="0.8" height="0.8" fill="#f0f0f0"/><rect x="459.2" y="170.2" width="0.8" height="0.8" fill="#c8c8c8"/><rect x="357.0" y="139.2" width="0.8" height="0.8" fill="#a0a0a0"/><rect x="360.5" y="168.3" width="0.8" height="0.8" fill="#b4b4b4"/><rect x="423.4" y="183.2" width="0.8" height="0.8" fill="#a0a0a0"/><rect x="445.0" y="178.4" width="0.8" height="0.8" fill="#ffffff"/><rect x="379.0" y="153.4" width="0.8" height="0.8" fill="#ffffff"/><rect x="400.0" y="160.7" width="0.8" height="0.8" fill="#c8c8c8"/><rect x="460.6" y="183.8" width="0.8" height="0.8" fill="#ffffff"/><rect x="370.5" y="147.1" width="0.8" height="0.8" fill="#ffffff"/><rect x="354.4" y="126.0" width="0.8" height="0.8" fill="#d8d8d8"/><rect x="498.5" y="188.0" width="0.8" height="0.8" fill="#c8c8c8"/><rect x="435.3" y="180.1" width="0.8" height="0.8" fill="#ffffff"/><rect x="367.8" y="143.7" width="0.8" height="0.8" fill="#a0a0a0"/><rect x="418.1" y="184.5" width="0.8" height="0.8" fill="#d8d8d8"/><rect x="449.7" y="170.8" width="0.8" height="0.8" fill="#b4b4b4"/><rect x="475.7" y="178.1" width="0.8" height="0.8" fill="#d8d8d8"/><rect x="384.9" y="178.0" width="0.8" height="0.8" fill="#a0a0a0"/><rect x="406.8" y="160.2" width="0.8" height="0.8" fill="#a0a0a0"/><rect x="432.9" y="178.2" width="0.8" height="0.8" fill="#f0f0f0"/><rect x="341.2" y="141.6" width="0.8" height="0.8" fill="#d8d8d8"/><rect x="417.8" y="178.0" width="0.8" height="0.8" fill="#c8c8c8"/><rect x="380.0" y="157.6" width="0.8" height="0.8" fill="#b4b4b4"/><rect x="488.0" y="186.3" width="0.8" height="0.8" fill="#c8c8c8"/><rect x="484.2" y="176.4" width="0.8" height="0.8" fill="#b4b4b4"/><rect x="354.1" y="169.4" width="0.8" height="0.8" fill="#c8c8c8"/><rect x="484.5" y="188.7" width="0.8" height="0.8" fill="#ffffff"/><rect x="384.6" y="174.0" width="0.8" height="0.8" fill="#a0a0a0"/><rect x="411.5" y="184.4" width="0.8" height="0.8" fill="#c8c8c8"/><rect x="352.6" y="159.2" width="0.8" height="0.8" fill="#b4b4b4"/><rect x="409.0" y="182.7" width="0.8" height="0.8" fill="#f0f0f0"/><rect x="448.2" y="183.4" width="0.8" height="0.8" fill="#d8d8d8"/><rect x="380.5" y="175.4" width="0.8" height="0.8" fill="#f0f0f0"/><rect x="400.8" y="177.9" width="0.8" height="0.8" fill="#d8d8d8"/><rect x="353.5" y="165.7" width="0.8" height="0.8" fill="#b4b4b4"/><rect x="479.8" y="187.5" width="0.8" height="0.8" fill="#d8d8d8"/><rect x="400.3" y="179.3" width="0.8" height="0.8" fill="#a0a0a0"/><rect x="454.3" y="170.5" width="0.8" height="0.8" fill="#b4b4b4"/><rect x="449.6" y="179.2" width="0.8" height="0.8" fill="#d8d8d8"/><rect x="396.0" y="182.0" width="0.8" height="0.8" fill="#b4b4b4"/><rect x="416.3" y="164.5" width="0.8" height="0.8" fill="#d8d8d8"/><rect x="355.5" y="166.7" width="0.8" height="0.8" fill="#d8d8d8"/><rect x="496.3" y="187.5" width="0.8" height="0.8" fill="#ffffff"/><rect x="455.4" y="169.5" width="0.8" height="0.8" fill="#c8c8c8"/><rect x="361.8" y="135.2" width="0.8" height="0.8" fill="#c8c8c8"/><rect x="359.4" y="174.0" width="0.8" height="0.8" fill="#ffffff"/><rect x="409.1" y="159.9" width="0.8" height="0.8" fill="#c8c8c8"/><rect x="434.3" y="165.9" width="0.8" height="0.8" fill="#d8d8d8"/><rect x="391.9" y="178.3" width="0.8" height="0.8" fill="#ffffff"/><rect x="450.2" y="167.3" width="0.8" height="0.8" fill="#ffffff"/><rect x="464.9" y="186.0" width="0.8" height="0.8" fill="#ffffff"/><rect x="381.3" y="177.6" width="0.8" height="0.8" fill="#c8c8c8"/><rect x="464.8" y="170.3" width="0.8" height="0.8" fill="#f0f0f0"/><rect x="351.6" y="133.0" width="0.8" height="0.8" fill="#f0f0f0"/><rect x="436.2" y="161.4" width="0.8" height="0.8" fill="#ffffff"/><rect x="407.7" y="172.4" width="0.8" height="0.8" fill="#f0f0f0"/><rect x="342.0" y="90.8" width="0.8" height="0.8" fill="#a0a0a0"/><rect x="369.2" y="149.7" width="0.8" height="0.8" fill="#f0f0f0"/><rect x="500.4" y="181.8" width="0.8" height="0.8" fill="#a0a0a0"/><rect x="497.7" y="181.5" width="0.8" height="0.8" fill="#ffffff"/><rect x="397.5" y="159.0" width="0.8" height="0.8" fill="#f0f0f0"/><rect x="382.9" y="149.9" width="0.8" height="0.8" fill="#b4b4b4"/><rect x="384.0" y="149.8" width="0.8" height="0.8" fill="#c8c8c8"/><rect x="362.5" y="166.9" width="0.8" height="0.8" fill="#ffffff"/><rect x="420.5" y="164.9" width="0.8" height="0.8" fill="#ffffff"/><rect x="471.1" y="187.8" width="0.8" height="0.8" fill="#d8d8d8"/><rect x="403.3" y="174.3" width="0.8" height="0.8" fill="#f0f0f0"/><rect x="352.8" y="124.8" width="0.8" height="0.8" fill="#b4b4b4"/><rect x="372.1" y="175.9" width="0.8" height="0.8" fill="#f0f0f0"/><rect x="472.6" y="187.8" width="0.8" height="0.8" fill="#d8d8d8"/><rect x="432.3" y="161.8" width="0.8" height="0.8" fill="#ffffff"/><rect x="376.0" y="172.8" width="0.8" height="0.8" fill="#f0f0f0"/><rect x="382.9" y="154.1" width="0.8" height="0.8" fill="#ffffff"/><rect x="350.4" y="121.8" width="0.8" height="0.8" fill="#ffffff"/><rect x="388.1" y="177.7" width="0.8" height="0.8" fill="#ffffff"/><rect x="372.2" y="152.7" width="0.8" height="0.8" fill="#ffffff"/><rect x="486.1" y="176.2" width="0.8" height="0.8" fill="#d8d8d8"/><rect x="465.6" y="186.6" width="0.8" height="0.8" fill="#ffffff"/><rect x="469.3" y="171.9" width="0.8" height="0.8" fill="#ffffff"/><rect x="390.6" y="173.7" width="0.8" height="0.8" fill="#c8c8c8"/><rect x="349.1" y="155.8" width="0.8" height="0.8" fill="#ffffff"/><rect x="482.7" y="175.7" width="0.8" height="0.8" fill="#a0a0a0"/><rect x="467.8" y="187.6" width="0.8" height="0.8" fill="#ffffff"/><rect x="456.7" y="185.9" width="0.8" height="0.8" fill="#a0a0a0"/><rect x="447.5" y="182.1" width="0.8" height="0.8" fill="#a0a0a0"/><rect x="381.9" y="171.5" width="0.8" height="0.8" fill="#c8c8c8"/><rect x="478.7" y="186.4" width="0.8" height="0.8" fill="#ffffff"/><rect x="401.2" y="161.3" width="0.8" height="0.8" fill="#c8c8c8"/><rect x="441.0" y="165.6" width="0.8" height="0.8" fill="#ffffff"/><rect x="490.0" y="181.3" width="0.8" height="0.8" fill="#ffffff"/><rect x="362.0" y="140.9" width="0.8" height="0.8" fill="#c8c8c8"/><rect x="447.3" y="183.9" width="0.8" height="0.8" fill="#c8c8c8"/><rect x="411.7" y="158.9" width="0.8" height="0.8" fill="#a0a0a0"/><rect x="456.7" y="180.8" width="0.8" height="0.8" fill="#f0f0f0"/><rect x="449.3" y="184.5" width="0.8" height="0.8" fill="#c8c8c8"/><rect x="367.7" y="175.2" width="0.8" height="0.8" fill="#b4b4b4"/><rect x="379.9" y="156.0" width="0.8" height="0.8" fill="#ffffff"/><rect x="395.7" y="154.2" width="0.8" height="0.8" fill="#ffffff"/><rect x="360.1" y="141.0" width="0.8" height="0.8" fill="#ffffff"/><rect x="487.1" y="180.9" width="0.8" height="0.8" fill="#ffffff"/><rect x="472.0" y="185.7" width="0.8" height="0.8" fill="#b4b4b4"/><rect x="459.6" y="168.6" width="0.8" height="0.8" fill="#d8d8d8"/><rect x="358.5" y="165.4" width="0.8" height="0.8" fill="#b4b4b4"/><rect x="345.7" y="163.1" width="0.8" height="0.8" fill="#ffffff"/><rect x="365.2" y="167.7" width="0.8" height="0.8" fill="#b4b4b4"/><rect x="458.8" y="185.5" width="0.8" height="0.8" fill="#ffffff"/><rect x="408.7" y="182.8" width="0.8" height="0.8" fill="#ffffff"/><rect x="396.7" y="173.8" width="0.8" height="0.8" fill="#a0a0a0"/><rect x="486.3" y="186.8" width="0.8" height="0.8" fill="#f0f0f0"/><rect x="392.5" y="181.4" width="0.8" height="0.8" fill="#c8c8c8"/><rect x="401.6" y="156.7" width="0.8" height="0.8" fill="#a0a0a0"/><rect x="493.3" y="181.5" width="0.8" height="0.8" fill="#f0f0f0"/><rect x="443.8" y="184.2" width="0.8" height="0.8" fill="#b4b4b4"/><rect x="473.0" y="184.1" width="0.8" height="0.8" fill="#ffffff"/><rect x="368.9" y="142.3" width="0.8" height="0.8" fill="#ffffff"/><rect x="447.0" y="169.7" width="0.8" height="0.8" fill="#b4b4b4"/><rect x="379.9" y="176.3" width="0.8" height="0.8" fill="#a0a0a0"/><rect x="396.9" y="180.8" width="0.8" height="0.8" fill="#f0f0f0"/><rect x="363.6" y="173.1" width="0.8" height="0.8" fill="#ffffff"/><rect x="428.7" y="183.4" width="0.8" height="0.8" fill="#f0f0f0"/><rect x="429.6" y="162.3" width="0.8" height="0.8" fill="#f0f0f0"/><rect x="415.7" y="183.0" width="0.8" height="0.8" fill="#ffffff"/><rect x="396.1" y="153.0" width="0.8" height="0.8" fill="#c8c8c8"/><rect x="484.2" y="185.4" width="0.8" height="0.8" fill="#c8c8c8"/><rect x="352.6" y="135.0" width="0.8" height="0.8" fill="#b4b4b4"/><rect x="479.9" y="186.1" width="0.8" height="0.8" fill="#d8d8d8"/><rect x="495.1" y="181.8" width="0.8" height="0.8" fill="#ffffff"/><rect x="417.1" y="181.9" width="0.8" height="0.8" fill="#c8c8c8"/><rect x="460.4" y="173.5" width="0.8" height="0.8" fill="#ffffff"/><rect x="436.0" y="181.3" width="0.8" height="0.8" fill="#d8d8d8"/><rect x="413.2" y="163.8" width="0.8" height="0.8" fill="#b4b4b4"/><rect x="374.7" y="147.7" width="0.8" height="0.8" fill="#ffffff"/><rect x="453.4" y="171.8" width="0.8" height="0.8" fill="#a0a0a0"/><rect x="415.6" y="173.5" width="0.8" height="0.8" fill="#b4b4b4"/><rect x="410.4" y="159.7" width="0.8" height="0.8" fill="#f0f0f0"/><rect x="424.3" y="175.6" width="0.8" height="0.8" fill="#f0f0f0"/><rect x="461.3" y="183.0" width="0.8" height="0.8" fill="#ffffff"/><rect x="411.1" y="161.4" width="0.8" height="0.8" fill="#d8d8d8"/><rect x="373.7" y="146.5" width="0.8" height="0.8" fill="#ffffff"/><rect x="498.1" y="183.2" width="0.8" height="0.8" fill="#a0a0a0"/><rect x="449.0" y="171.0" width="0.8" height="0.8" fill="#f0f0f0"/><rect x="431.7" y="177.5" width="0.8" height="0.8" fill="#ffffff"/><rect x="430.1" y="184.2" width="0.8" height="0.8" fill="#c8c8c8"/><rect x="349.8" y="128.7" width="0.8" height="0.8" fill="#ffffff"/><rect x="478.5" y="187.7" width="0.8" height="0.8" fill="#b4b4b4"/><rect x="423.6" y="180.5" width="0.8" height="0.8" fill="#b4b4b4"/><rect x="365.9" y="136.4" width="0.8" height="0.8" fill="#b4b4b4"/><rect x="438.3" y="163.7" width="0.8" height="0.8" fill="#d8d8d8"/><rect x="376.1" y="168.0" width="0.8" height="0.8" fill="#f0f0f0"/><rect x="342.1" y="94.5" width="0.8" height="0.8" fill="#ffffff"/><rect x="467.5" y="184.2" width="0.8" height="0.8" fill="#f0f0f0"/><rect x="369.5" y="176.6" width="0.8" height="0.8" fill="#b4b4b4"/><rect x="498.6" y="187.4" width="0.8" height="0.8" fill="#d8d8d8"/><rect x="456.1" y="182.3" width="0.8" height="0.8" fill="#f0f0f0"/><rect x="409.7" y="178.3" width="0.8" height="0.8" fill="#a0a0a0"/><rect x="412.6" y="156.5" width="0.8" height="0.8" fill="#f0f0f0"/><rect x="431.4" y="162.5" width="0.8" height="0.8" fill="#b4b4b4"/><rect x="444.2" y="180.8" width="0.8" height="0.8" fill="#f0f0f0"/><rect x="457.6" y="182.3" width="0.8" height="0.8" fill="#f0f0f0"/><rect x="407.4" y="175.7" width="0.8" height="0.8" fill="#b4b4b4"/><rect x="443.6" y="164.1" width="0.8" height="0.8" fill="#ffffff"/><rect x="392.1" y="172.4" width="0.8" height="0.8" fill="#d8d8d8"/><rect x="476.7" y="187.0" width="0.8" height="0.8" fill="#d8d8d8"/><rect x="493.6" y="179.5" width="0.8" height="0.8" fill="#ffffff"/><rect x="423.3" y="176.9" width="0.8" height="0.8" fill="#c8c8c8"/><rect x="454.3" y="183.0" width="0.8" height="0.8" fill="#c8c8c8"/><rect x="459.6" y="172.0" width="0.8" height="0.8" fill="#f0f0f0"/><rect x="404.4" y="161.4" width="0.8" height="0.8" fill="#ffffff"/><rect x="429.6" y="165.5" width="0.8" height="0.8" fill="#d8d8d8"/><rect x="398.4" y="181.9" width="0.8" height="0.8" fill="#d8d8d8"/><rect x="494.8" y="187.1" width="0.8" height="0.8" fill="#ffffff"/><rect x="448.1" y="186.3" width="0.8" height="0.8" fill="#b4b4b4"/><rect x="442.3" y="181.0" width="0.8" height="0.8" fill="#c8c8c8"/><rect x="436.4" y="179.6" width="0.8" height="0.8" fill="#b4b4b4"/><rect x="429.8" y="161.2" width="0.8" height="0.8" fill="#a0a0a0"/><rect x="363.1" y="176.1" width="0.8" height="0.8" fill="#ffffff"/><rect x="393.3" y="155.9" width="0.8" height="0.8" fill="#c8c8c8"/><rect x="425.3" y="163.0" width="0.8" height="0.8" fill="#f0f0f0"/><rect x="491.1" y="187.8" width="0.8" height="0.8" fill="#c8c8c8"/><rect x="382.3" y="175.4" width="0.8" height="0.8" fill="#f0f0f0"/><rect x="383.2" y="152.8" width="0.8" height="0.8" fill="#c8c8c8"/><rect x="471.9" y="183.8" width="0.8" height="0.8" fill="#c8c8c8"/><rect x="387.6" y="158.9" width="0.8" height="0.8" fill="#d8d8d8"/><rect x="344.7" y="107.9" width="0.8" height="0.8" fill="#f0f0f0"/><rect x="363.9" y="137.1" width="0.8" height="0.8" fill="#d8d8d8"/><rect x="383.8" y="177.4" width="0.8" height="0.8" fill="#a0a0a0"/><rect x="493.9" y="189.5" width="0.8" height="0.8" fill="#a0a0a0"/><rect x="465.9" y="174.4" width="0.8" height="0.8" fill="#a0a0a0"/><rect x="461.9" y="184.1" width="0.8" height="0.8" fill="#a0a0a0"/><rect x="442.7" y="179.1" width="0.8" height="0.8" fill="#b4b4b4"/><rect x="498.8" y="180.8" width="0.8" height="0.8" fill="#a0a0a0"/><rect x="347.5" y="126.7" width="0.8" height="0.8" fill="#b4b4b4"/><rect x="359.3" y="132.7" width="0.8" height="0.8" fill="#ffffff"/><rect x="398.9" y="173.4" width="0.8" height="0.8" fill="#a0a0a0"/><rect x="499.1" y="182.2" width="0.8" height="0.8" fill="#c8c8c8"/><rect x="413.2" y="156.2" width="0.8" height="0.8" fill="#ffffff"/><rect x="455.1" y="167.3" width="0.8" height="0.8" fill="#b4b4b4"/><rect x="469.2" y="186.7" width="0.8" height="0.8" fill="#d8d8d8"/><rect x="426.7" y="175.3" width="0.8" height="0.8" fill="#d8d8d8"/><rect x="429.5" y="175.5" width="0.8" height="0.8" fill="#d8d8d8"/><rect x="483.4" y="186.5" width="0.8" height="0.8" fill="#d8d8d8"/><rect x="423.7" y="158.8" width="0.8" height="0.8" fill="#f0f0f0"/><rect x="431.7" y="161.5" width="0.8" height="0.8" fill="#d8d8d8"/><rect x="366.5" y="170.5" width="0.8" height="0.8" fill="#f0f0f0"/><rect x="454.4" y="186.1" width="0.8" height="0.8" fill="#c8c8c8"/><rect x="408.0" y="179.1" width="0.8" height="0.8" fill="#ffffff"/><rect x="448.1" y="167.5" width="0.8" height="0.8" fill="#ffffff"/><rect x="491.0" y="187.2" width="0.8" height="0.8" fill="#d8d8d8"/><rect x="372.0" y="168.5" width="0.8" height="0.8" fill="#ffffff"/><rect x="468.3" y="188.3" width="0.8" height="0.8" fill="#ffffff"/><rect x="393.8" y="177.0" width="0.8" height="0.8" fill="#f0f0f0"/><rect x="439.7" y="168.0" width="0.8" height="0.8" fill="#d8d8d8"/><rect x="494.8" y="189.7" width="0.8" height="0.8" fill="#d8d8d8"/><rect x="491.2" y="186.7" width="0.8" height="0.8" fill="#f0f0f0"/><rect x="354.5" y="129.9" width="0.8" height="0.8" fill="#ffffff"/><rect x="410.1" y="173.4" width="0.8" height="0.8" fill="#f0f0f0"/><rect x="362.7" y="144.9" width="0.8" height="0.8" fill="#ffffff"/><rect x="481.7" y="178.2" width="0.8" height="0.8" fill="#c8c8c8"/><rect x="354.3" y="130.8" width="0.8" height="0.8" fill="#a0a0a0"/><rect x="420.9" y="176.4" width="0.8" height="0.8" fill="#ffffff"/><rect x="382.8" y="171.5" width="0.8" height="0.8" fill="#ffffff"/><rect x="493.3" y="187.8" width="0.8" height="0.8" fill="#ffffff"/><rect x="452.9" y="181.8" width="0.8" height="0.8" fill="#ffffff"/><rect x="480.5" y="179.1" width="0.8" height="0.8" fill="#d8d8d8"/><rect x="495.8" y="182.9" width="0.8" height="0.8" fill="#f0f0f0"/><rect x="450.8" y="171.6" width="0.8" height="0.8" fill="#ffffff"/><rect x="460.1" y="183.6" width="0.8" height="0.8" fill="#f0f0f0"/><rect x="401.9" y="160.5" width="0.8" height="0.8" fill="#a0a0a0"/><rect x="412.9" y="156.6" width="0.8" height="0.8" fill="#f0f0f0"/><rect x="485.3" y="178.0" width="0.8" height="0.8" fill="#d8d8d8"/><rect x="482.5" y="176.1" width="0.8" height="0.8" fill="#f0f0f0"/><rect x="491.7" y="178.6" width="0.8" height="0.8" fill="#f0f0f0"/><rect x="463.4" y="187.0" width="0.8" height="0.8" fill="#c8c8c8"/><rect x="395.5" y="160.3" width="0.8" height="0.8" fill="#d8d8d8"/><rect x="479.5" y="174.9" width="0.8" height="0.8" fill="#a0a0a0"/><rect x="376.9" y="174.8" width="0.8" height="0.8" fill="#f0f0f0"/><rect x="351.4" y="132.2" width="0.8" height="0.8" fill="#d8d8d8"/><rect x="375.4" y="149.4" width="0.8" height="0.8" fill="#c8c8c8"/><rect x="451.2" y="181.2" width="0.8" height="0.8" fill="#d8d8d8"/><rect x="418.8" y="175.9" width="0.8" height="0.8" fill="#c8c8c8"/><rect x="367.1" y="171.4" width="0.8" height="0.8" fill="#d8d8d8"/><rect x="484.7" y="188.8" width="0.8" height="0.8" fill="#d8d8d8"/><rect x="420.7" y="160.6" width="0.8" height="0.8" fill="#ffffff"/><rect x="421.4" y="177.7" width="0.8" height="0.8" fill="#c8c8c8"/><rect x="484.1" y="180.2" width="0.8" height="0.8" fill="#b4b4b4"/><rect x="421.6" y="160.5" width="0.8" height="0.8" fill="#ffffff"/><rect x="429.5" y="160.0" width="0.8" height="0.8" fill="#b4b4b4"/><rect x="415.1" y="178.5" width="0.8" height="0.8" fill="#c8c8c8"/><rect x="432.0" y="182.5" width="0.8" height="0.8" fill="#c8c8c8"/><rect x="418.7" y="175.9" width="0.8" height="0.8" fill="#f0f0f0"/><rect x="448.4" y="165.7" width="0.8" height="0.8" fill="#b4b4b4"/><rect x="389.6" y="172.8" width="0.8" height="0.8" fill="#ffffff"/><rect x="351.6" y="131.2" width="0.8" height="0.8" fill="#b4b4b4"/><rect x="424.3" y="182.7" width="0.8" height="0.8" fill="#b4b4b4"/><rect x="449.1" y="186.2" width="0.8" height="0.8" fill="#b4b4b4"/><rect x="450.6" y="179.3" width="0.8" height="0.8" fill="#a0a0a0"/><rect x="498.5" y="181.5" width="0.8" height="0.8" fill="#ffffff"/><rect x="453.0" y="182.4" width="0.8" height="0.8" fill="#ffffff"/><rect x="436.3" y="176.5" width="0.8" height="0.8" fill="#b4b4b4"/><rect x="500.6" y="188.0" width="0.8" height="0.8" fill="#b4b4b4"/><rect x="491.5" y="181.9" width="0.8" height="0.8" fill="#ffffff"/><rect x="495.5" y="187.9" width="0.8" height="0.8" fill="#ffffff"/><rect x="345.5" y="160.8" width="0.8" height="0.8" fill="#d8d8d8"/><rect x="359.0" y="164.6" width="0.8" height="0.8" fill="#b4b4b4"/><rect x="410.2" y="172.6" width="0.8" height="0.8" fill="#a0a0a0"/><rect x="501.5" y="189.1" width="0.8" height="0.8" fill="#ffffff"/><rect x="403.3" y="156.9" width="0.8" height="0.8" fill="#b4b4b4"/><rect x="399.1" y="174.1" width="0.8" height="0.8" fill="#b4b4b4"/><rect x="367.4" y="138.7" width="0.8" height="0.8" fill="#f0f0f0"/><rect x="470.4" y="173.4" width="0.8" height="0.8" fill="#ffffff"/><rect x="356.7" y="134.3" width="0.8" height="0.8" fill="#f0f0f0"/><rect x="343.6" y="110.1" width="0.8" height="0.8" fill="#b4b4b4"/><rect x="490.5" y="181.6" width="0.8" height="0.8" fill="#c8c8c8"/><rect x="380.2" y="153.0" width="0.8" height="0.8" fill="#d8d8d8"/><rect x="410.5" y="155.7" width="0.8" height="0.8" fill="#ffffff"/><rect x="501.3" y="185.5" width="0.8" height="0.8" fill="#b4b4b4"/><rect x="490.2" y="186.7" width="0.8" height="0.8" fill="#a0a0a0"/><rect x="383.1" y="177.7" width="0.8" height="0.8" fill="#c8c8c8"/><rect x="445.9" y="165.8" width="0.8" height="0.8" fill="#ffffff"/><rect x="466.8" y="173.7" width="0.8" height="0.8" fill="#b4b4b4"/><rect x="390.5" y="159.1" width="0.8" height="0.8" fill="#ffffff"/><rect x="424.0" y="180.8" width="0.8" height="0.8" fill="#d8d8d8"/><rect x="360.9" y="170.9" width="0.8" height="0.8" fill="#b4b4b4"/><rect x="473.3" y="185.3" width="0.8" height="0.8" fill="#a0a0a0"/><rect x="395.3" y="158.6" width="0.8" height="0.8" fill="#ffffff"/><rect x="372.1" y="144.0" width="0.8" height="0.8" fill="#b4b4b4"/><rect x="411.1" y="173.6" width="0.8" height="0.8" fill="#d8d8d8"/><rect x="341.8" y="81.9" width="0.8" height="0.8" fill="#b4b4b4"/><rect x="407.0" y="175.5" width="0.8" height="0.8" fill="#c8c8c8"/><rect x="395.2" y="157.9" width="0.8" height="0.8" fill="#b4b4b4"/><rect x="347.3" y="128.9" width="0.8" height="0.8" fill="#a0a0a0"/><rect x="366.3" y="143.2" width="0.8" height="0.8" fill="#c8c8c8"/><rect x="489.6" y="179.5" width="0.8" height="0.8" fill="#d8d8d8"/><rect x="382.0" y="157.7" width="0.8" height="0.8" fill="#ffffff"/><rect x="471.7" y="176.5" width="0.8" height="0.8" fill="#f0f0f0"/><rect x="485.1" y="175.9" width="0.8" height="0.8" fill="#d8d8d8"/><rect x="361.7" y="171.8" width="0.8" height="0.8" fill="#ffffff"/><rect x="500.1" y="189.4" width="0.8" height="0.8" fill="#f0f0f0"/><rect x="470.4" y="172.2" width="0.8" height="0.8" fill="#a0a0a0"/><rect x="376.8" y="170.8" width="0.8" height="0.8" fill="#b4b4b4"/><rect x="453.4" y="170.4" width="0.8" height="0.8" fill="#c8c8c8"/><rect x="367.3" y="139.4" width="0.8" height="0.8" fill="#b4b4b4"/><rect x="356.0" y="171.8" width="0.8" height="0.8" fill="#ffffff"/><rect x="487.5" y="186.7" width="0.8" height="0.8" fill="#a0a0a0"/><rect x="359.8" y="139.8" width="0.8" height="0.8" fill="#a0a0a0"/><rect x="365.9" y="164.8" width="0.8" height="0.8" fill="#c8c8c8"/><rect x="501.9" y="185.6" width="0.8" height="0.8" fill="#f0f0f0"/><rect x="431.4" y="180.1" width="0.8" height="0.8" fill="#ffffff"/><rect x="467.8" y="185.8" width="0.8" height="0.8" fill="#c8c8c8"/><rect x="424.9" y="161.3" width="0.8" height="0.8" fill="#c8c8c8"/><rect x="398.4" y="182.8" width="0.8" height="0.8" fill="#ffffff"/><rect x="385.9" y="175.3" width="0.8" height="0.8" fill="#d8d8d8"/><rect x="410.5" y="172.9" width="0.8" height="0.8" fill="#c8c8c8"/><rect x="385.7" y="177.5" width="0.8" height="0.8" fill="#f0f0f0"/><rect x="401.7" y="159.5" width="0.8" height="0.8" fill="#f0f0f0"/><rect x="423.6" y="160.6" width="0.8" height="0.8" fill="#d8d8d8"/><rect x="475.1" y="173.4" width="0.8" height="0.8" fill="#c8c8c8"/><rect x="459.1" y="170.2" width="0.8" height="0.8" fill="#c8c8c8"/><rect x="455.6" y="166.8" width="0.8" height="0.8" fill="#c8c8c8"/><rect x="459.5" y="168.8" width="0.8" height="0.8" fill="#f0f0f0"/><rect x="410.9" y="175.6" width="0.8" height="0.8" fill="#c8c8c8"/><rect x="453.1" y="166.0" width="0.8" height="0.8" fill="#c8c8c8"/><rect x="407.3" y="159.8" width="0.8" height="0.8" fill="#ffffff"/><rect x="481.3" y="178.5" width="0.8" height="0.8" fill="#c8c8c8"/><rect x="395.5" y="159.1" width="0.8" height="0.8" fill="#ffffff"/><rect x="371.2" y="142.9" width="0.8" height="0.8" fill="#d8d8d8"/><rect x="348.2" y="122.1" width="0.8" height="0.8" fill="#d8d8d8"/><rect x="481.2" y="176.4" width="0.8" height="0.8" fill="#c8c8c8"/><rect x="366.0" y="173.2" width="0.8" height="0.8" fill="#c8c8c8"/><rect x="386.5" y="179.3" width="0.8" height="0.8" fill="#c8c8c8"/><rect x="347.1" y="114.5" width="0.8" height="0.8" fill="#d8d8d8"/><rect x="372.2" y="170.6" width="0.8" height="0.8" fill="#a0a0a0"/><rect x="359.2" y="137.1" width="0.8" height="0.8" fill="#ffffff"/><rect x="500.6" y="188.4" width="0.8" height="0.8" fill="#b4b4b4"/><rect x="402.4" y="156.8" width="0.8" height="0.8" fill="#f0f0f0"/><rect x="393.0" y="151.7" width="0.8" height="0.8" fill="#ffffff"/><rect x="371.6" y="148.7" width="0.8" height="0.8" fill="#ffffff"/><rect x="378.6" y="154.2" width="0.8" height="0.8" fill="#f0f0f0"/><rect x="487.9" y="179.4" width="0.8" height="0.8" fill="#ffffff"/><rect x="483.5" y="177.9" width="0.8" height="0.8" fill="#ffffff"/><rect x="445.1" y="182.4" width="0.8" height="0.8" fill="#a0a0a0"/><rect x="379.5" y="157.6" width="0.8" height="0.8" fill="#c8c8c8"/><rect x="343.7" y="109.0" width="0.8" height="0.8" fill="#d8d8d8"/><rect x="380.0" y="171.5" width="0.8" height="0.8" fill="#ffffff"/><rect x="380.0" y="174.6" width="0.8" height="0.8" fill="#ffffff"/><rect x="471.9" y="175.6" width="0.8" height="0.8" fill="#d8d8d8"/><rect x="416.7" y="162.1" width="0.8" height="0.8" fill="#d8d8d8"/><rect x="377.9" y="177.0" width="0.8" height="0.8" fill="#f0f0f0"/><rect x="416.9" y="175.2" width="0.8" height="0.8" fill="#a0a0a0"/><rect x="499.1" y="189.3" width="0.8" height="0.8" fill="#a0a0a0"/><rect x="391.3" y="178.2" width="0.8" height="0.8" fill="#a0a0a0"/><rect x="356.3" y="132.6" width="0.8" height="0.8" fill="#d8d8d8"/><rect x="407.4" y="162.4" width="0.8" height="0.8" fill="#c8c8c8"/><rect x="424.4" y="176.4" width="0.8" height="0.8" fill="#ffffff"/><rect x="426.3" y="161.2" width="0.8" height="0.8" fill="#ffffff"/><rect x="375.0" y="171.3" width="0.8" height="0.8" fill="#c8c8c8"/><rect x="438.3" y="179.3" width="0.8" height="0.8" fill="#f0f0f0"/><rect x="354.8" y="163.6" width="0.8" height="0.8" fill="#a0a0a0"/><rect x="400.2" y="178.9" width="0.8" height="0.8" fill="#b4b4b4"/><rect x="394.2" y="174.4" width="0.8" height="0.8" fill="#d8d8d8"/><rect x="344.9" y="151.3" width="0.8" height="0.8" fill="#a0a0a0"/><rect x="367.3" y="172.9" width="0.8" height="0.8" fill="#d8d8d8"/><rect x="399.4" y="154.4" width="0.8" height="0.8" fill="#ffffff"/><rect x="415.0" y="177.5" width="0.8" height="0.8" fill="#ffffff"/><rect x="350.6" y="135.7" width="0.8" height="0.8" fill="#c8c8c8"/><rect x="451.3" y="183.2" width="0.8" height="0.8" fill="#d8d8d8"/><rect x="470.4" y="183.9" width="0.8" height="0.8" fill="#b4b4b4"/><rect x="453.1" y="169.9" width="0.8" height="0.8" fill="#b4b4b4"/><rect x="454.5" y="184.8" width="0.8" height="0.8" fill="#f0f0f0"/><rect x="391.8" y="171.7" width="0.8" height="0.8" fill="#d8d8d8"/><rect x="459.4" y="169.0" width="0.8" height="0.8" fill="#c8c8c8"/><rect x="450.7" y="184.0" width="0.8" height="0.8" fill="#f0f0f0"/><rect x="492.9" y="188.6" width="0.8" height="0.8" fill="#ffffff"/><rect x="475.1" y="187.6" width="0.8" height="0.8" fill="#c8c8c8"/><rect x="420.8" y="175.8" width="0.8" height="0.8" fill="#a0a0a0"/><rect x="446.5" y="168.0" width="0.8" height="0.8" fill="#a0a0a0"/><rect x="436.7" y="181.3" width="0.8" height="0.8" fill="#b4b4b4"/><rect x="384.4" y="171.3" width="0.8" height="0.8" fill="#f0f0f0"/><rect x="494.4" y="181.5" width="0.8" height="0.8" fill="#b4b4b4"/><rect x="412.2" y="181.0" width="0.8" height="0.8" fill="#ffffff"/><rect x="379.7" y="151.2" width="0.8" height="0.8" fill="#ffffff"/><rect x="395.9" y="155.0" width="0.8" height="0.8" fill="#a0a0a0"/><rect x="487.9" y="180.0" width="0.8" height="0.8" fill="#a0a0a0"/><rect x="367.0" y="140.4" width="0.8" height="0.8" fill="#ffffff"/><rect x="487.2" y="189.3" width="0.8" height="0.8" fill="#d8d8d8"/><rect x="438.4" y="181.8" width="0.8" height="0.8" fill="#a0a0a0"/><rect x="472.0" y="184.9" width="0.8" height="0.8" fill="#a0a0a0"/><rect x="494.3" y="188.1" width="0.8" height="0.8" fill="#ffffff"/><rect x="480.2" y="177.6" width="0.8" height="0.8" fill="#d8d8d8"/><rect x="402.0" y="181.4" width="0.8" height="0.8" fill="#b4b4b4"/><rect x="386.6" y="179.1" width="0.8" height="0.8" fill="#b4b4b4"/><rect x="362.7" y="133.7" width="0.8" height="0.8" fill="#a0a0a0"/><rect x="376.2" y="171.8" width="0.8" height="0.8" fill="#ffffff"/><rect x="397.3" y="157.9" width="0.8" height="0.8" fill="#f0f0f0"/><rect x="461.4" y="183.8" width="0.8" height="0.8" fill="#b4b4b4"/><rect x="367.0" y="148.4" width="0.8" height="0.8" fill="#d8d8d8"/><rect x="366.4" y="169.5" width="0.8" height="0.8" fill="#b4b4b4"/><rect x="417.3" y="182.6" width="0.8" height="0.8" fill="#b4b4b4"/><rect x="446.6" y="167.8" width="0.8" height="0.8" fill="#a0a0a0"/><rect x="383.7" y="150.4" width="0.8" height="0.8" fill="#c8c8c8"/><rect x="402.0" y="174.0" width="0.8" height="0.8" fill="#d8d8d8"/><rect x="471.4" y="185.2" width="0.8" height="0.8" fill="#f0f0f0"/><rect x="475.2" y="186.9" width="0.8" height="0.8" fill="#ffffff"/><rect x="485.9" y="186.2" width="0.8" height="0.8" fill="#ffffff"/><rect x="480.4" y="187.7" width="0.8" height="0.8" fill="#f0f0f0"/><rect x="416.5" y="181.6" width="0.8" height="0.8" fill="#d8d8d8"/><rect x="371.7" y="145.8" width="0.8" height="0.8" fill="#ffffff"/><rect x="485.9" y="179.1" width="0.8" height="0.8" fill="#d8d8d8"/><rect x="403.8" y="155.4" width="0.8" height="0.8" fill="#ffffff"/><rect x="476.8" y="175.9" width="0.8" height="0.8" fill="#b4b4b4"/><rect x="412.1" y="182.8" width="0.8" height="0.8" fill="#a0a0a0"/><rect x="499.3" y="188.4" width="0.8" height="0.8" fill="#f0f0f0"/><rect x="445.4" y="166.5" width="0.8" height="0.8" fill="#f0f0f0"/><rect x="467.2" y="174.0" width="0.8" height="0.8" fill="#b4b4b4"/><rect x="492.7" y="179.9" width="0.8" height="0.8" fill="#a0a0a0"/><rect x="418.6" y="162.3" width="0.8" height="0.8" fill="#ffffff"/><rect x="390.7" y="158.3" width="0.8" height="0.8" fill="#f0f0f0"/><rect x="357.5" y="173.0" width="0.8" height="0.8" fill="#a0a0a0"/><rect x="373.0" y="145.1" width="0.8" height="0.8" fill="#f0f0f0"/><rect x="355.1" y="129.8" width="0.8" height="0.8" fill="#c8c8c8"/><rect x="489.3" y="178.2" width="0.8" height="0.8" fill="#ffffff"/><rect x="407.9" y="182.7" width="0.8" height="0.8" fill="#a0a0a0"/><rect x="394.3" y="158.0" width="0.8" height="0.8" fill="#f0f0f0"/><rect x="344.9" y="113.6" width="0.8" height="0.8" fill="#c8c8c8"/><rect x="463.3" y="174.4" width="0.8" height="0.8" fill="#d8d8d8"/><rect x="377.3" y="152.3" width="0.8" height="0.8" fill="#f0f0f0"/><rect x="423.8" y="161.8" width="0.8" height="0.8" fill="#f0f0f0"/><rect x="426.8" y="177.8" width="0.8" height="0.8" fill="#f0f0f0"/><rect x="406.7" y="176.9" width="0.8" height="0.8" fill="#ffffff"/><rect x="349.1" y="134.5" width="0.8" height="0.8" fill="#b4b4b4"/><rect x="501.7" y="187.8" width="0.8" height="0.8" fill="#ffffff"/><rect x="400.7" y="183.0" width="0.8" height="0.8" fill="#a0a0a0"/><rect x="383.0" y="150.6" width="0.8" height="0.8" fill="#b4b4b4"/><rect x="417.0" y="159.3" width="0.8" height="0.8" fill="#ffffff"/><rect x="443.7" y="179.0" width="0.8" height="0.8" fill="#d8d8d8"/><rect x="447.1" y="178.7" width="0.8" height="0.8" fill="#d8d8d8"/><rect x="457.4" y="182.3" width="0.8" height="0.8" fill="#a0a0a0"/><rect x="361.9" y="166.0" width="0.8" height="0.8" fill="#f0f0f0"/><rect x="388.8" y="177.8" width="0.8" height="0.8" fill="#b4b4b4"/><rect x="359.8" y="161.9" width="0.8" height="0.8" fill="#c8c8c8"/><rect x="345.3" y="154.4" width="0.8" height="0.8" fill="#b4b4b4"/><rect x="440.6" y="183.7" width="0.8" height="0.8" fill="#a0a0a0"/><rect x="360.2" y="137.6" width="0.8" height="0.8" fill="#d8d8d8"/><rect x="403.0" y="155.7" width="0.8" height="0.8" fill="#b4b4b4"/><rect x="393.1" y="180.1" width="0.8" height="0.8" fill="#d8d8d8"/><rect x="424.9" y="183.6" width="0.8" height="0.8" fill="#ffffff"/><rect x="348.0" y="130.9" width="0.8" height="0.8" fill="#b4b4b4"/><rect x="365.9" y="143.8" width="0.8" height="0.8" fill="#c8c8c8"/><rect x="365.8" y="169.3" width="0.8" height="0.8" fill="#c8c8c8"/><rect x="485.9" y="178.7" width="0.8" height="0.8" fill="#d8d8d8"/><rect x="354.4" y="167.7" width="0.8" height="0.8" fill="#f0f0f0"/><rect x="390.0" y="178.2" width="0.8" height="0.8" fill="#a0a0a0"/><rect x="357.7" y="166.0" width="0.8" height="0.8" fill="#ffffff"/><rect x="456.7" y="169.0" width="0.8" height="0.8" fill="#b4b4b4"/><rect x="470.0" y="170.2" width="0.8" height="0.8" fill="#ffffff"/><rect x="377.1" y="146.8" width="0.8" height="0.8" fill="#b4b4b4"/><rect x="438.7" y="163.9" width="0.8" height="0.8" fill="#d8d8d8"/><rect x="412.3" y="176.5" width="0.8" height="0.8" fill="#a0a0a0"/><rect x="432.1" y="181.1" width="0.8" height="0.8" fill="#ffffff"/><rect x="407.0" y="182.6" width="0.8" height="0.8" fill="#a0a0a0"/><rect x="410.2" y="175.0" width="0.8" height="0.8" fill="#f0f0f0"/><rect x="457.5" y="170.0" width="0.8" height="0.8" fill="#b4b4b4"/><rect x="433.9" y="164.0" width="0.8" height="0.8" fill="#c8c8c8"/><rect x="389.4" y="156.5" width="0.8" height="0.8" fill="#a0a0a0"/><rect x="356.4" y="164.2" width="0.8" height="0.8" fill="#c8c8c8"/><rect x="359.7" y="168.4" width="0.8" height="0.8" fill="#ffffff"/><rect x="390.9" y="159.2" width="0.8" height="0.8" fill="#ffffff"/><rect x="385.4" y="179.6" width="0.8" height="0.8" fill="#d8d8d8"/><rect x="493.3" y="182.1" width="0.8" height="0.8" fill="#ffffff"/><rect x="470.5" y="173.7" width="0.8" height="0.8" fill="#b4b4b4"/><rect x="471.8" y="184.1" width="0.8" height="0.8" fill="#f0f0f0"/><rect x="454.7" y="170.6" width="0.8" height="0.8" fill="#b4b4b4"/><rect x="405.6" y="159.8" width="0.8" height="0.8" fill="#c8c8c8"/><rect x="447.8" y="167.4" width="0.8" height="0.8" fill="#ffffff"/><rect x="426.5" y="165.8" width="0.8" height="0.8" fill="#d8d8d8"/><rect x="404.3" y="157.2" width="0.8" height="0.8" fill="#ffffff"/><rect x="431.8" y="178.6" width="0.8" height="0.8" fill="#ffffff"/><rect x="433.1" y="177.8" width="0.8" height="0.8" fill="#b4b4b4"/><rect x="496.8" y="189.8" width="0.8" height="0.8" fill="#d8d8d8"/><rect x="347.1" y="125.6" width="0.8" height="0.8" fill="#a0a0a0"/><rect x="456.5" y="186.2" width="0.8" height="0.8" fill="#f0f0f0"/><rect x="384.4" y="174.7" width="0.8" height="0.8" fill="#c8c8c8"/><rect x="438.2" y="184.9" width="0.8" height="0.8" fill="#b4b4b4"/><rect x="477.4" y="185.2" width="0.8" height="0.8" fill="#b4b4b4"/><rect x="485.1" y="187.3" width="0.8" height="0.8" fill="#f0f0f0"/><rect x="357.7" y="138.8" width="0.8" height="0.8" fill="#b4b4b4"/><rect x="499.2" y="189.9" width="0.8" height="0.8" fill="#c8c8c8"/><rect x="390.0" y="154.3" width="0.8" height="0.8" fill="#a0a0a0"/><rect x="494.3" y="180.9" width="0.8" height="0.8" fill="#d8d8d8"/><rect x="480.2" y="173.7" width="0.8" height="0.8" fill="#b4b4b4"/><rect x="406.2" y="159.5" width="0.8" height="0.8" fill="#d8d8d8"/><rect x="455.7" y="183.9" width="0.8" height="0.8" fill="#b4b4b4"/><rect x="413.5" y="156.6" width="0.8" height="0.8" fill="#ffffff"/><rect x="500.8" y="187.7" width="0.8" height="0.8" fill="#f0f0f0"/><rect x="436.5" y="182.0" width="0.8" height="0.8" fill="#ffffff"/><rect x="419.5" y="160.6" width="0.8" height="0.8" fill="#ffffff"/><rect x="415.9" y="157.9" width="0.8" height="0.8" fill="#a0a0a0"/><rect x="455.4" y="185.8" width="0.8" height="0.8" fill="#ffffff"/><rect x="395.4" y="153.7" width="0.8" height="0.8" fill="#c8c8c8"/><rect x="432.6" y="167.2" width="0.8" height="0.8" fill="#c8c8c8"/><rect x="423.0" y="160.2" width="0.8" height="0.8" fill="#ffffff"/><rect x="491.4" y="188.4" width="0.8" height="0.8" fill="#d8d8d8"/><rect x="466.7" y="172.2" width="0.8" height="0.8" fill="#f0f0f0"/><rect x="432.6" y="182.6" width="0.8" height="0.8" fill="#b4b4b4"/><rect x="471.7" y="175.0" width="0.8" height="0.8" fill="#ffffff"/><rect x="361.8" y="139.0" width="0.8" height="0.8" fill="#c8c8c8"/><rect x="371.5" y="149.3" width="0.8" height="0.8" fill="#d8d8d8"/><rect x="469.1" y="184.2" width="0.8" height="0.8" fill="#a0a0a0"/><rect x="369.3" y="144.4" width="0.8" height="0.8" fill="#a0a0a0"/><rect x="483.7" y="187.2" width="0.8" height="0.8" fill="#a0a0a0"/><rect x="407.9" y="181.7" width="0.8" height="0.8" fill="#ffffff"/><rect x="407.5" y="160.0" width="0.8" height="0.8" fill="#d8d8d8"/><rect x="404.9" y="177.9" width="0.8" height="0.8" fill="#c8c8c8"/><rect x="347.2" y="157.7" width="0.8" height="0.8" fill="#b4b4b4"/><rect x="395.3" y="152.8" width="0.8" height="0.8" fill="#a0a0a0"/><rect x="478.8" y="186.7" width="0.8" height="0.8" fill="#d8d8d8"/><rect x="497.0" y="188.6" width="0.8" height="0.8" fill="#ffffff"/><rect x="392.1" y="177.6" width="0.8" height="0.8" fill="#d8d8d8"/><rect x="441.3" y="166.2" width="0.8" height="0.8" fill="#d8d8d8"/><rect x="357.9" y="138.2" width="0.8" height="0.8" fill="#d8d8d8"/><rect x="459.2" y="185.0" width="0.8" height="0.8" fill="#a0a0a0"/><rect x="459.2" y="172.3" width="0.8" height="0.8" fill="#f0f0f0"/><rect x="463.5" y="174.1" width="0.8" height="0.8" fill="#ffffff"/><rect x="437.4" y="176.6" width="0.8" height="0.8" fill="#d8d8d8"/><rect x="485.6" y="178.6" width="0.8" height="0.8" fill="#d8d8d8"/><rect x="357.9" y="169.2" width="0.8" height="0.8" fill="#a0a0a0"/><rect x="394.7" y="181.5" width="0.8" height="0.8" fill="#ffffff"/><rect x="405.6" y="181.6" width="0.8" height="0.8" fill="#ffffff"/><rect x="345.9" y="120.1" width="0.8" height="0.8" fill="#ffffff"/><rect x="434.8" y="166.2" width="0.8" height="0.8" fill="#c8c8c8"/><rect x="443.5" y="183.8" width="0.8" height="0.8" fill="#ffffff"/><rect x="343.4" y="115.1" width="0.8" height="0.8" fill="#a0a0a0"/><rect x="464.6" y="174.6" width="0.8" height="0.8" fill="#b4b4b4"/><rect x="470.3" y="172.6" width="0.8" height="0.8" fill="#b4b4b4"/><rect x="461.5" y="187.7" width="0.8" height="0.8" fill="#f0f0f0"/><rect x="393.7" y="181.6" width="0.8" height="0.8" fill="#f0f0f0"/><rect x="473.4" y="173.9" width="0.8" height="0.8" fill="#d8d8d8"/><rect x="494.7" y="180.9" width="0.8" height="0.8" fill="#f0f0f0"/><rect x="431.3" y="185.0" width="0.8" height="0.8" fill="#a0a0a0"/><rect x="426.3" y="175.4" width="0.8" height="0.8" fill="#a0a0a0"/><rect x="367.5" y="169.5" width="0.8" height="0.8" fill="#ffffff"/><rect x="451.1" y="181.9" width="0.8" height="0.8" fill="#a0a0a0"/><rect x="366.3" y="140.2" width="0.8" height="0.8" fill="#ffffff"/><rect x="347.7" y="165.4" width="0.8" height="0.8" fill="#d8d8d8"/><rect x="423.0" y="164.6" width="0.8" height="0.8" fill="#f0f0f0"/><rect x="360.7" y="163.6" width="0.8" height="0.8" fill="#c8c8c8"/><rect x="378.2" y="155.5" width="0.8" height="0.8" fill="#f0f0f0"/><rect x="382.9" y="171.2" width="0.8" height="0.8" fill="#d8d8d8"/><rect x="443.4" y="186.2" width="0.8" height="0.8" fill="#c8c8c8"/><rect x="498.9" y="181.3" width="0.8" height="0.8" fill="#ffffff"/><rect x="451.4" y="185.8" width="0.8" height="0.8" fill="#ffffff"/><rect x="413.5" y="180.1" width="0.8" height="0.8" fill="#b4b4b4"/><rect x="363.0" y="174.9" width="0.8" height="0.8" fill="#b4b4b4"/><rect x="453.3" y="171.5" width="0.8" height="0.8" fill="#b4b4b4"/><rect x="466.8" y="184.5" width="0.8" height="0.8" fill="#a0a0a0"/><rect x="460.7" y="185.7" width="0.8" height="0.8" fill="#f0f0f0"/><rect x="472.7" y="171.7" width="0.8" height="0.8" fill="#c8c8c8"/><rect x="406.0" y="156.1" width="0.8" height="0.8" fill="#f0f0f0"/><rect x="342.3" y="149.7" width="0.8" height="0.8" fill="#b4b4b4"/><rect x="381.0" y="178.7" width="0.8" height="0.8" fill="#d8d8d8"/><rect x="442.2" y="165.5" width="0.8" height="0.8" fill="#b4b4b4"/><rect x="380.2" y="176.8" width="0.8" height="0.8" fill="#f0f0f0"/><rect x="414.4" y="163.2" width="0.8" height="0.8" fill="#d8d8d8"/><rect x="352.0" y="127.5" width="0.8" height="0.8" fill="#a0a0a0"/><rect x="375.7" y="147.6" width="0.8" height="0.8" fill="#f0f0f0"/><rect x="482.4" y="186.3" width="0.8" height="0.8" fill="#ffffff"/><rect x="489.9" y="187.6" width="0.8" height="0.8" fill="#ffffff"/><rect x="412.8" y="160.0" width="0.8" height="0.8" fill="#d8d8d8"/><rect x="357.8" y="171.7" width="0.8" height="0.8" fill="#b4b4b4"/><rect x="423.6" y="158.5" width="0.8" height="0.8" fill="#d8d8d8"/><rect x="476.0" y="185.8" width="0.8" height="0.8" fill="#ffffff"/><rect x="361.1" y="172.3" width="0.8" height="0.8" fill="#d8d8d8"/><rect x="447.7" y="167.7" width="0.8" height="0.8" fill="#c8c8c8"/><rect x="393.5" y="173.8" width="0.8" height="0.8" fill="#f0f0f0"/><rect x="487.3" y="187.4" width="0.8" height="0.8" fill="#ffffff"/><rect x="363.6" y="171.6" width="0.8" height="0.8" fill="#f0f0f0"/><rect x="343.8" y="161.4" width="0.8" height="0.8" fill="#c8c8c8"/><rect x="478.0" y="186.2" width="0.8" height="0.8" fill="#f0f0f0"/><rect x="482.2" y="174.6" width="0.8" height="0.8" fill="#d8d8d8"/><rect x="458.7" y="185.5" width="0.8" height="0.8" fill="#a0a0a0"/><rect x="355.6" y="161.8" width="0.8" height="0.8" fill="#d8d8d8"/><rect x="373.9" y="150.3" width="0.8" height="0.8" fill="#ffffff"/><rect x="493.7" y="187.7" width="0.8" height="0.8" fill="#a0a0a0"/><rect x="377.6" y="147.5" width="0.8" height="0.8" fill="#ffffff"/><rect x="413.3" y="177.8" width="0.8" height="0.8" fill="#c8c8c8"/><rect x="433.2" y="178.3" width="0.8" height="0.8" fill="#ffffff"/><rect x="436.5" y="180.5" width="0.8" height="0.8" fill="#c8c8c8"/><rect x="403.4" y="180.4" width="0.8" height="0.8" fill="#a0a0a0"/><rect x="499.2" y="187.8" width="0.8" height="0.8" fill="#a0a0a0"/><rect x="472.4" y="172.7" width="0.8" height="0.8" fill="#a0a0a0"/><rect x="484.6" y="179.4" width="0.8" height="0.8" fill="#d8d8d8"/><rect x="486.4" y="176.4" width="0.8" height="0.8" fill="#ffffff"/><rect x="351.9" y="166.3" width="0.8" height="0.8" fill="#d8d8d8"/><rect x="365.8" y="173.7" width="0.8" height="0.8" fill="#c8c8c8"/><rect x="352.0" y="165.9" width="0.8" height="0.8" fill="#b4b4b4"/><rect x="361.3" y="136.3" width="0.8" height="0.8" fill="#f0f0f0"/><rect x="460.0" y="183.1" width="0.8" height="0.8" fill="#d8d8d8"/><rect x="500.0" y="182.7" width="0.8" height="0.8" fill="#b4b4b4"/><rect x="472.8" y="175.5" width="0.8" height="0.8" fill="#c8c8c8"/><rect x="463.6" y="173.0" width="0.8" height="0.8" fill="#f0f0f0"/><rect x="404.5" y="174.0" width="0.8" height="0.8" fill="#c8c8c8"/><rect x="449.6" y="184.0" width="0.8" height="0.8" fill="#a0a0a0"/><rect x="430.7" y="164.6" width="0.8" height="0.8" fill="#c8c8c8"/><rect x="343.3" y="113.6" width="0.8" height="0.8" fill="#f0f0f0"/><rect x="443.2" y="166.4" width="0.8" height="0.8" fill="#ffffff"/><rect x="454.8" y="170.9" width="0.8" height="0.8" fill="#c8c8c8"/><rect x="431.7" y="162.9" width="0.8" height="0.8" fill="#ffffff"/><rect x="500.2" y="184.8" width="0.8" height="0.8" fill="#a0a0a0"/><rect x="434.0" y="181.8" width="0.8" height="0.8" fill="#ffffff"/><rect x="403.8" y="175.4" width="0.8" height="0.8" fill="#b4b4b4"/><rect x="411.4" y="179.8" width="0.8" height="0.8" fill="#b4b4b4"/><rect x="420.1" y="163.6" width="0.8" height="0.8" fill="#b4b4b4"/><rect x="393.8" y="178.6" width="0.8" height="0.8" fill="#c8c8c8"/><rect x="448.6" y="183.9" width="0.8" height="0.8" fill="#d8d8d8"/><rect x="470.5" y="187.8" width="0.8" height="0.8" fill="#c8c8c8"/><rect x="427.5" y="182.6" width="0.8" height="0.8" fill="#b4b4b4"/><rect x="500.5" y="181.6" width="0.8" height="0.8" fill="#c8c8c8"/><rect x="397.4" y="177.7" width="0.8" height="0.8" fill="#b4b4b4"/><rect x="408.0" y="158.0" width="0.8" height="0.8" fill="#ffffff"/><rect x="365.0" y="138.5" width="0.8" height="0.8" fill="#ffffff"/><rect x="407.9" y="177.7" width="0.8" height="0.8" fill="#c8c8c8"/><rect x="464.6" y="187.6" width="0.8" height="0.8" fill="#c8c8c8"/><rect x="382.3" y="179.9" width="0.8" height="0.8" fill="#a0a0a0"/><rect x="377.0" y="153.8" width="0.8" height="0.8" fill="#f0f0f0"/><rect x="410.6" y="172.7" width="0.8" height="0.8" fill="#f0f0f0"/><rect x="445.6" y="167.1" width="0.8" height="0.8" fill="#c8c8c8"/><rect x="363.4" y="142.2" width="0.8" height="0.8" fill="#c8c8c8"/><rect x="360.5" y="134.6" width="0.8" height="0.8" fill="#ffffff"/><rect x="490.3" y="179.1" width="0.8" height="0.8" fill="#ffffff"/><rect x="466.1" y="184.5" width="0.8" height="0.8" fill="#ffffff"/><rect x="468.8" y="185.7" width="0.8" height="0.8" fill="#c8c8c8"/><rect x="488.3" y="178.0" width="0.8" height="0.8" fill="#ffffff"/><rect x="357.1" y="173.0" width="0.8" height="0.8" fill="#a0a0a0"/><rect x="373.0" y="167.9" width="0.8" height="0.8" fill="#ffffff"/><rect x="475.8" y="175.1" width="0.8" height="0.8" fill="#ffffff"/><rect x="350.5" y="158.7" width="0.8" height="0.8" fill="#ffffff"/><rect x="499.7" y="183.5" width="0.8" height="0.8" fill="#a0a0a0"/><rect x="355.0" y="133.2" width="0.8" height="0.8" fill="#ffffff"/><rect x="426.4" y="165.0" width="0.8" height="0.8" fill="#a0a0a0"/><rect x="424.6" y="161.5" width="0.8" height="0.8" fill="#c8c8c8"/><rect x="376.3" y="173.0" width="0.8" height="0.8" fill="#d8d8d8"/><rect x="395.7" y="160.6" width="0.8" height="0.8" fill="#c8c8c8"/><rect x="344.4" y="114.5" width="0.8" height="0.8" fill="#b4b4b4"/><rect x="429.2" y="176.5" width="0.8" height="0.8" fill="#f0f0f0"/><rect x="415.5" y="175.8" width="0.8" height="0.8" fill="#f0f0f0"/><rect x="357.3" y="161.1" width="0.8" height="0.8" fill="#f0f0f0"/><rect x="431.3" y="179.3" width="0.8" height="0.8" fill="#a0a0a0"/><rect x="407.4" y="172.5" width="0.8" height="0.8" fill="#ffffff"/><rect x="403.2" y="177.2" width="0.8" height="0.8" fill="#f0f0f0"/><rect x="396.5" y="180.6" width="0.8" height="0.8" fill="#b4b4b4"/><rect x="420.1" y="164.3" width="0.8" height="0.8" fill="#ffffff"/><rect x="435.0" y="166.2" width="0.8" height="0.8" fill="#a0a0a0"/><rect x="495.5" y="182.3" width="0.8" height="0.8" fill="#ffffff"/><rect x="348.3" y="125.5" width="0.8" height="0.8" fill="#d8d8d8"/><rect x="411.9" y="182.5" width="0.8" height="0.8" fill="#c8c8c8"/><rect x="489.0" y="179.6" width="0.8" height="0.8" fill="#ffffff"/><rect x="347.8" y="132.6" width="0.8" height="0.8" fill="#ffffff"/><rect x="480.3" y="173.9" width="0.8" height="0.8" fill="#ffffff"/><rect x="448.4" y="179.9" width="0.8" height="0.8" fill="#d8d8d8"/><rect x="399.6" y="176.3" width="0.8" height="0.8" fill="#ffffff"/><rect x="350.4" y="156.8" width="0.8" height="0.8" fill="#ffffff"/><rect x="476.9" y="184.6" width="0.8" height="0.8" fill="#ffffff"/><rect x="363.1" y="165.0" width="0.8" height="0.8" fill="#f0f0f0"/><rect x="423.8" y="175.9" width="0.8" height="0.8" fill="#d8d8d8"/><rect x="386.0" y="150.9" width="0.8" height="0.8" fill="#ffffff"/><rect x="399.9" y="160.4" width="0.8" height="0.8" fill="#ffffff"/><rect x="423.9" y="176.8" width="0.8" height="0.8" fill="#a0a0a0"/><rect x="356.1" y="130.4" width="0.8" height="0.8" fill="#a0a0a0"/><rect x="408.6" y="162.7" width="0.8" height="0.8" fill="#d8d8d8"/><rect x="481.5" y="188.6" width="0.8" height="0.8" fill="#b4b4b4"/><rect x="463.6" y="173.1" width="0.8" height="0.8" fill="#b4b4b4"/><rect x="364.3" y="169.4" width="0.8" height="0.8" fill="#d8d8d8"/><rect x="368.3" y="148.1" width="0.8" height="0.8" fill="#f0f0f0"/><rect x="395.1" y="179.2" width="0.8" height="0.8" fill="#d8d8d8"/><rect x="358.4" y="171.6" width="0.8" height="0.8" fill="#ffffff"/><rect x="425.1" y="180.9" width="0.8" height="0.8" fill="#b4b4b4"/><rect x="489.8" y="188.3" width="0.8" height="0.8" fill="#ffffff"/><rect x="342.4" y="150.5" width="0.8" height="0.8" fill="#a0a0a0"/><rect x="362.0" y="138.2" width="0.8" height="0.8" fill="#d8d8d8"/><rect x="379.9" y="174.6" width="0.8" height="0.8" fill="#b4b4b4"/><rect x="410.0" y="163.4" width="0.8" height="0.8" fill="#a0a0a0"/><rect x="412.3" y="156.8" width="0.8" height="0.8" fill="#d8d8d8"/><rect x="413.6" y="177.3" width="0.8" height="0.8" fill="#b4b4b4"/><rect x="432.4" y="160.8" width="0.8" height="0.8" fill="#ffffff"/><rect x="387.3" y="153.1" width="0.8" height="0.8" fill="#a0a0a0"/><rect x="487.7" y="179.7" width="0.8" height="0.8" fill="#d8d8d8"/><rect x="382.3" y="178.1" width="0.8" height="0.8" fill="#d8d8d8"/><rect x="412.9" y="157.5" width="0.8" height="0.8" fill="#f0f0f0"/><rect x="480.5" y="185.3" width="0.8" height="0.8" fill="#ffffff"/><rect x="473.1" y="187.6" width="0.8" height="0.8" fill="#b4b4b4"/><rect x="497.4" y="180.9" width="0.8" height="0.8" fill="#ffffff"/><rect x="471.7" y="186.0" width="0.8" height="0.8" fill="#f0f0f0"/><rect x="440.7" y="166.4" width="0.8" height="0.8" fill="#d8d8d8"/><rect x="407.2" y="180.8" width="0.8" height="0.8" fill="#a0a0a0"/><rect x="436.0" y="162.8" width="0.8" height="0.8" fill="#c8c8c8"/><rect x="355.8" y="171.4" width="0.8" height="0.8" fill="#ffffff"/><rect x="457.4" y="173.0" width="0.8" height="0.8" fill="#a0a0a0"/><rect x="394.0" y="171.7" width="0.8" height="0.8" fill="#d8d8d8"/><rect x="492.2" y="180.4" width="0.8" height="0.8" fill="#f0f0f0"/><rect x="346.7" y="122.5" width="0.8" height="0.8" fill="#b4b4b4"/><rect x="480.5" y="185.5" width="0.8" height="0.8" fill="#ffffff"/><rect x="384.3" y="177.1" width="0.8" height="0.8" fill="#d8d8d8"/><rect x="467.4" y="171.0" width="0.8" height="0.8" fill="#d8d8d8"/><rect x="375.5" y="174.2" width="0.8" height="0.8" fill="#d8d8d8"/><rect x="362.4" y="137.4" width="0.8" height="0.8" fill="#d8d8d8"/><rect x="473.2" y="176.5" width="0.8" height="0.8" fill="#d8d8d8"/><rect x="366.2" y="136.8" width="0.8" height="0.8" fill="#f0f0f0"/><rect x="489.8" y="181.8" width="0.8" height="0.8" fill="#ffffff"/><rect x="395.0" y="160.6" width="0.8" height="0.8" fill="#f0f0f0"/><rect x="363.0" y="167.5" width="0.8" height="0.8" fill="#ffffff"/><rect x="473.3" y="186.8" width="0.8" height="0.8" fill="#b4b4b4"/><rect x="369.8" y="147.5" width="0.8" height="0.8" fill="#ffffff"/><rect x="384.0" y="177.8" width="0.8" height="0.8" fill="#b4b4b4"/><rect x="352.3" y="126.6" width="0.8" height="0.8" fill="#f0f0f0"/><rect x="389.1" y="156.0" width="0.8" height="0.8" fill="#c8c8c8"/><rect x="474.2" y="187.2" width="0.8" height="0.8" fill="#ffffff"/><rect x="468.4" y="187.8" width="0.8" height="0.8" fill="#ffffff"/><rect x="447.4" y="178.8" width="0.8" height="0.8" fill="#ffffff"/><rect x="382.8" y="178.4" width="0.8" height="0.8" fill="#ffffff"/><rect x="480.8" y="176.6" width="0.8" height="0.8" fill="#ffffff"/><rect x="462.7" y="168.4" width="0.8" height="0.8" fill="#c8c8c8"/><rect x="382.5" y="170.4" width="0.8" height="0.8" fill="#ffffff"/><rect x="467.0" y="185.8" width="0.8" height="0.8" fill="#ffffff"/><rect x="357.5" y="139.8" width="0.8" height="0.8" fill="#ffffff"/><rect x="444.9" y="180.4" width="0.8" height="0.8" fill="#c8c8c8"/><rect x="439.6" y="167.4" width="0.8" height="0.8" fill="#a0a0a0"/><rect x="440.0" y="163.5" width="0.8" height="0.8" fill="#d8d8d8"/><rect x="396.0" y="157.6" width="0.8" height="0.8" fill="#f0f0f0"/><rect x="442.7" y="182.0" width="0.8" height="0.8" fill="#b4b4b4"/><rect x="434.3" y="181.4" width="0.8" height="0.8" fill="#a0a0a0"/><rect x="380.2" y="174.2" width="0.8" height="0.8" fill="#ffffff"/><rect x="494.6" y="181.5" width="0.8" height="0.8" fill="#b4b4b4"/><rect x="348.0" y="151.8" width="0.8" height="0.8" fill="#c8c8c8"/><rect x="476.2" y="172.6" width="0.8" height="0.8" fill="#b4b4b4"/><rect x="362.0" y="144.0" width="0.8" height="0.8" fill="#ffffff"/><rect x="496.9" y="187.4" width="0.8" height="0.8" fill="#d8d8d8"/><rect x="445.9" y="180.7" width="0.8" height="0.8" fill="#b4b4b4"/><rect x="362.8" y="138.6" width="0.8" height="0.8" fill="#b4b4b4"/><rect x="390.1" y="153.7" width="0.8" height="0.8" fill="#b4b4b4"/><rect x="406.3" y="172.9" width="0.8" height="0.8" fill="#c8c8c8"/><rect x="439.0" y="167.1" width="0.8" height="0.8" fill="#a0a0a0"/><rect x="464.6" y="186.8" width="0.8" height="0.8" fill="#ffffff"/><rect x="481.2" y="187.4" width="0.8" height="0.8" fill="#b4b4b4"/><rect x="482.4" y="176.7" width="0.8" height="0.8" fill="#ffffff"/><rect x="357.0" y="141.3" width="0.8" height="0.8" fill="#d8d8d8"/><rect x="469.6" y="185.0" width="0.8" height="0.8" fill="#b4b4b4"/><rect x="461.9" y="168.7" width="0.8" height="0.8" fill="#c8c8c8"/><rect x="396.6" y="159.6" width="0.8" height="0.8" fill="#d8d8d8"/><rect x="446.5" y="165.9" width="0.8" height="0.8" fill="#ffffff"/><rect x="424.0" y="184.0" width="0.8" height="0.8" fill="#c8c8c8"/><rect x="455.9" y="185.2" width="0.8" height="0.8" fill="#c8c8c8"/><rect x="463.8" y="184.3" width="0.8" height="0.8" fill="#c8c8c8"/><rect x="363.5" y="145.3" width="0.8" height="0.8" fill="#ffffff"/><rect x="354.9" y="140.1" width="0.8" height="0.8" fill="#a0a0a0"/><rect x="347.7" y="155.8" width="0.8" height="0.8" fill="#ffffff"/><rect x="370.3" y="172.1" width="0.8" height="0.8" fill="#b4b4b4"/><rect x="489.6" y="177.8" width="0.8" height="0.8" fill="#ffffff"/><rect x="412.5" y="182.7" width="0.8" height="0.8" fill="#a0a0a0"/><rect x="491.3" y="177.9" width="0.8" height="0.8" fill="#b4b4b4"/><rect x="462.8" y="184.2" width="0.8" height="0.8" fill="#f0f0f0"/><rect x="365.3" y="175.0" width="0.8" height="0.8" fill="#f0f0f0"/><rect x="461.8" y="171.0" width="0.8" height="0.8" fill="#c8c8c8"/><rect x="342.0" y="144.3" width="0.8" height="0.8" fill="#c8c8c8"/><rect x="390.3" y="175.6" width="0.8" height="0.8" fill="#f0f0f0"/><rect x="346.8" y="115.1" width="0.8" height="0.8" fill="#ffffff"/><rect x="413.9" y="182.5" width="0.8" height="0.8" fill="#ffffff"/><rect x="394.6" y="178.9" width="0.8" height="0.8" fill="#ffffff"/><rect x="455.0" y="184.1" width="0.8" height="0.8" fill="#a0a0a0"/><rect x="395.7" y="180.4" width="0.8" height="0.8" fill="#c8c8c8"/><rect x="432.6" y="164.0" width="0.8" height="0.8" fill="#a0a0a0"/><rect x="416.9" y="160.1" width="0.8" height="0.8" fill="#b4b4b4"/><rect x="383.3" y="149.9" width="0.8" height="0.8" fill="#ffffff"/><rect x="476.4" y="186.3" width="0.8" height="0.8" fill="#c8c8c8"/><rect x="426.7" y="180.0" width="0.8" height="0.8" fill="#f0f0f0"/><rect x="495.4" y="189.2" width="0.8" height="0.8" fill="#a0a0a0"/><rect x="407.9" y="180.8" width="0.8" height="0.8" fill="#ffffff"/><rect x="409.4" y="182.6" width="0.8" height="0.8" fill="#b4b4b4"/><rect x="376.9" y="146.0" width="0.8" height="0.8" fill="#c8c8c8"/><rect x="387.4" y="154.0" width="0.8" height="0.8" fill="#ffffff"/><rect x="468.3" y="174.3" width="0.8" height="0.8" fill="#f0f0f0"/><rect x="459.7" y="185.8" width="0.8" height="0.8" fill="#d8d8d8"/><rect x="414.5" y="177.8" width="0.8" height="0.8" fill="#a0a0a0"/><rect x="416.4" y="175.5" width="0.8" height="0.8" fill="#f0f0f0"/><rect x="423.0" y="163.8" width="0.8" height="0.8" fill="#d8d8d8"/><rect x="481.2" y="176.1" width="0.8" height="0.8" fill="#ffffff"/><rect x="500.0" y="181.0" width="0.8" height="0.8" fill="#c8c8c8"/><rect x="488.8" y="180.5" width="0.8" height="0.8" fill="#f0f0f0"/><rect x="483.8" y="178.8" width="0.8" height="0.8" fill="#f0f0f0"/><rect x="390.5" y="159.6" width="0.8" height="0.8" fill="#ffffff"/><rect x="477.9" y="186.5" width="0.8" height="0.8" fill="#ffffff"/><rect x="391.8" y="155.7" width="0.8" height="0.8" fill="#a0a0a0"/><rect x="401.4" y="177.7" width="0.8" height="0.8" fill="#c8c8c8"/><rect x="382.1" y="157.9" width="0.8" height="0.8" fill="#c8c8c8"/><rect x="453.5" y="180.5" width="0.8" height="0.8" fill="#ffffff"/><rect x="491.8" y="189.2" width="0.8" height="0.8" fill="#c8c8c8"/><rect x="488.0" y="187.0" width="0.8" height="0.8" fill="#a0a0a0"/><rect x="493.5" y="180.2" width="0.8" height="0.8" fill="#ffffff"/><rect x="350.7" y="163.1" width="0.8" height="0.8" fill="#d8d8d8"/><rect x="356.5" y="160.2" width="0.8" height="0.8" fill="#ffffff"/><rect x="382.3" y="158.0" width="0.8" height="0.8" fill="#ffffff"/><rect x="502.1" y="188.7" width="0.8" height="0.8" fill="#f0f0f0"/><rect x="379.3" y="154.8" width="0.8" height="0.8" fill="#f0f0f0"/><rect x="385.5" y="180.7" width="0.8" height="0.8" fill="#ffffff"/><rect x="417.7" y="176.4" width="0.8" height="0.8" fill="#ffffff"/><rect x="431.4" y="177.6" width="0.8" height="0.8" fill="#f0f0f0"/><rect x="499.2" y="189.6" width="0.8" height="0.8" fill="#a0a0a0"/><rect x="364.8" y="169.2" width="0.8" height="0.8" fill="#b4b4b4"/><rect x="407.1" y="175.6" width="0.8" height="0.8" fill="#b4b4b4"/><rect x="341.7" y="84.3" width="0.8" height="0.8" fill="#b4b4b4"/><rect x="361.8" y="140.4" width="0.8" height="0.8" fill="#ffffff"/><rect x="483.4" y="174.9" width="0.8" height="0.8" fill="#f0f0f0"/><rect x="345.6" y="153.9" width="0.8" height="0.8" fill="#a0a0a0"/><rect x="410.8" y="160.3" width="0.8" height="0.8" fill="#d8d8d8"/><rect x="375.0" y="151.4" width="0.8" height="0.8" fill="#a0a0a0"/><rect x="378.3" y="152.8" width="0.8" height="0.8" fill="#a0a0a0"/><rect x="393.5" y="155.8" width="0.8" height="0.8" fill="#b4b4b4"/><rect x="469.5" y="170.9" width="0.8" height="0.8" fill="#d8d8d8"/><rect x="469.7" y="170.6" width="0.8" height="0.8" fill="#ffffff"/><rect x="356.8" y="166.8" width="0.8" height="0.8" fill="#a0a0a0"/><rect x="461.6" y="183.9" width="0.8" height="0.8" fill="#b4b4b4"/><rect x="354.7" y="164.2" width="0.8" height="0.8" fill="#d8d8d8"/><rect x="402.1" y="161.0" width="0.8" height="0.8" fill="#d8d8d8"/><rect x="371.2" y="147.0" width="0.8" height="0.8" fill="#ffffff"/><rect x="501.7" y="188.3" width="0.8" height="0.8" fill="#b4b4b4"/><rect x="437.3" y="178.8" width="0.8" height="0.8" fill="#d8d8d8"/><rect x="452.6" y="182.6" width="0.8" height="0.8" fill="#d8d8d8"/><rect x="411.6" y="183.1" width="0.8" height="0.8" fill="#b4b4b4"/><rect x="377.9" y="171.9" width="0.8" height="0.8" fill="#a0a0a0"/><rect x="390.6" y="157.6" width="0.8" height="0.8" fill="#ffffff"/><rect x="497.3" y="188.3" width="0.8" height="0.8" fill="#d8d8d8"/><rect x="352.7" y="130.3" width="0.8" height="0.8" fill="#a0a0a0"/><rect x="500.0" y="187.6" width="0.8" height="0.8" fill="#f0f0f0"/><rect x="479.3" y="178.8" width="0.8" height="0.8" fill="#c8c8c8"/><rect x="446.0" y="170.0" width="0.8" height="0.8" fill="#b4b4b4"/><rect x="467.0" y="170.8" width="0.8" height="0.8" fill="#c8c8c8"/><rect x="461.2" y="182.0" width="0.8" height="0.8" fill="#ffffff"/><rect x="389.4" y="179.3" width="0.8" height="0.8" fill="#a0a0a0"/><rect x="345.2" y="165.7" width="0.8" height="0.8" fill="#f0f0f0"/><rect x="409.1" y="163.4" width="0.8" height="0.8" fill="#a0a0a0"/><rect x="489.3" y="188.4" width="0.8" height="0.8" fill="#b4b4b4"/><rect x="436.0" y="167.1" width="0.8" height="0.8" fill="#ffffff"/><rect x="442.9" y="164.8" width="0.8" height="0.8" fill="#f0f0f0"/><rect x="427.0" y="161.8" width="0.8" height="0.8" fill="#c8c8c8"/><rect x="344.1" y="147.5" width="0.8" height="0.8" fill="#d8d8d8"/><rect x="472.6" y="173.6" width="0.8" height="0.8" fill="#a0a0a0"/><rect x="468.5" y="175.1" width="0.8" height="0.8" fill="#a0a0a0"/><rect x="468.9" y="169.8" width="0.8" height="0.8" fill="#a0a0a0"/><rect x="482.8" y="187.6" width="0.8" height="0.8" fill="#b4b4b4"/><rect x="405.0" y="160.0" width="0.8" height="0.8" fill="#ffffff"/><rect x="341.5" y="146.6" width="0.8" height="0.8" fill="#f0f0f0"/><rect x="497.2" y="187.4" width="0.8" height="0.8" fill="#ffffff"/><rect x="466.1" y="188.0" width="0.8" height="0.8" fill="#a0a0a0"/><rect x="369.6" y="141.3" width="0.8" height="0.8" fill="#c8c8c8"/><rect x="404.3" y="175.8" width="0.8" height="0.8" fill="#ffffff"/><rect x="361.9" y="169.0" width="0.8" height="0.8" fill="#ffffff"/><rect x="390.2" y="152.6" width="0.8" height="0.8" fill="#d8d8d8"/><rect x="374.4" y="153.7" width="0.8" height="0.8" fill="#b4b4b4"/><rect x="391.1" y="178.7" width="0.8" height="0.8" fill="#ffffff"/><rect x="378.2" y="172.6" width="0.8" height="0.8" fill="#a0a0a0"/><rect x="356.9" y="129.6" width="0.8" height="0.8" fill="#a0a0a0"/><rect x="480.5" y="177.7" width="0.8" height="0.8" fill="#a0a0a0"/><rect x="374.4" y="176.7" width="0.8" height="0.8" fill="#ffffff"/><rect x="426.6" y="179.3" width="0.8" height="0.8" fill="#b4b4b4"/><rect x="384.6" y="157.6" width="0.8" height="0.8" fill="#ffffff"/><rect x="415.0" y="178.4" width="0.8" height="0.8" fill="#ffffff"/><rect x="416.4" y="175.9" width="0.8" height="0.8" fill="#b4b4b4"/><rect x="418.9" y="180.3" width="0.8" height="0.8" fill="#ffffff"/><rect x="434.7" y="181.5" width="0.8" height="0.8" fill="#ffffff"/><rect x="341.3" y="155.4" width="0.8" height="0.8" fill="#b4b4b4"/><rect x="353.1" y="167.8" width="0.8" height="0.8" fill="#ffffff"/><rect x="362.3" y="139.5" width="0.8" height="0.8" fill="#a0a0a0"/><rect x="428.7" y="165.6" width="0.8" height="0.8" fill="#d8d8d8"/><rect x="341.6" y="75.7" width="0.8" height="0.8" fill="#c8c8c8"/><rect x="362.9" y="137.7" width="0.8" height="0.8" fill="#b4b4b4"/><rect x="344.3" y="160.7" width="0.8" height="0.8" fill="#d8d8d8"/><rect x="448.1" y="179.4" width="0.8" height="0.8" fill="#d8d8d8"/><rect x="415.0" y="163.0" width="0.8" height="0.8" fill="#b4b4b4"/><rect x="360.9" y="169.6" width="0.8" height="0.8" fill="#a0a0a0"/><rect x="342.0" y="90.0" width="0.8" height="0.8" fill="#b4b4b4"/><rect x="442.6" y="180.8" width="0.8" height="0.8" fill="#a0a0a0"/><rect x="447.3" y="168.0" width="0.8" height="0.8" fill="#f0f0f0"/><rect x="487.2" y="180.1" width="0.8" height="0.8" fill="#b4b4b4"/><rect x="412.9" y="160.6" width="0.8" height="0.8" fill="#f0f0f0"/><rect x="491.7" y="187.2" width="0.8" height="0.8" fill="#b4b4b4"/><rect x="383.2" y="176.8" width="0.8" height="0.8" fill="#b4b4b4"/><rect x="382.0" y="152.9" width="0.8" height="0.8" fill="#ffffff"/><rect x="370.9" y="143.6" width="0.8" height="0.8" fill="#ffffff"/><rect x="448.0" y="169.5" width="0.8" height="0.8" fill="#ffffff"/><rect x="462.6" y="171.6" width="0.8" height="0.8" fill="#b4b4b4"/><rect x="374.6" y="147.8" width="0.8" height="0.8" fill="#d8d8d8"/><rect x="397.7" y="178.7" width="0.8" height="0.8" fill="#a0a0a0"/><rect x="498.9" y="184.1" width="0.8" height="0.8" fill="#a0a0a0"/><rect x="345.5" y="119.1" width="0.8" height="0.8" fill="#ffffff"/><rect x="463.0" y="170.6" width="0.8" height="0.8" fill="#ffffff"/><rect x="409.1" y="176.8" width="0.8" height="0.8" fill="#ffffff"/><rect x="405.0" y="158.8" width="0.8" height="0.8" fill="#f0f0f0"/><rect x="453.0" y="170.1" width="0.8" height="0.8" fill="#ffffff"/><rect x="470.4" y="183.8" width="0.8" height="0.8" fill="#c8c8c8"/><rect x="463.8" y="172.1" width="0.8" height="0.8" fill="#d8d8d8"/><rect x="487.7" y="178.8" width="0.8" height="0.8" fill="#ffffff"/><rect x="455.7" y="169.1" width="0.8" height="0.8" fill="#ffffff"/><rect x="384.5" y="158.5" width="0.8" height="0.8" fill="#d8d8d8"/><rect x="470.2" y="174.4" width="0.8" height="0.8" fill="#d8d8d8"/><rect x="453.5" y="169.0" width="0.8" height="0.8" fill="#ffffff"/><rect x="345.4" y="118.2" width="0.8" height="0.8" fill="#c8c8c8"/><rect x="389.4" y="151.2" width="0.8" height="0.8" fill="#b4b4b4"/><rect x="412.1" y="178.4" width="0.8" height="0.8" fill="#c8c8c8"/><rect x="426.7" y="160.1" width="0.8" height="0.8" fill="#a0a0a0"/><rect x="442.2" y="165.3" width="0.8" height="0.8" fill="#b4b4b4"/><rect x="397.9" y="159.1" width="0.8" height="0.8" fill="#d8d8d8"/><rect x="438.8" y="178.2" width="0.8" height="0.8" fill="#b4b4b4"/><rect x="487.3" y="177.9" width="0.8" height="0.8" fill="#b4b4b4"/><rect x="497.0" y="182.2" width="0.8" height="0.8" fill="#a0a0a0"/><rect x="444.7" y="185.0" width="0.8" height="0.8" fill="#c8c8c8"/><rect x="452.5" y="180.8" width="0.8" height="0.8" fill="#ffffff"/><rect x="432.3" y="178.8" width="0.8" height="0.8" fill="#d8d8d8"/><rect x="444.9" y="169.7" width="0.8" height="0.8" fill="#c8c8c8"/><rect x="373.8" y="169.4" width="0.8" height="0.8" fill="#d8d8d8"/><rect x="384.9" y="158.7" width="0.8" height="0.8" fill="#a0a0a0"/><rect x="494.0" y="182.5" width="0.8" height="0.8" fill="#d8d8d8"/><rect x="422.7" y="177.1" width="0.8" height="0.8" fill="#a0a0a0"/><rect x="360.1" y="166.3" width="0.8" height="0.8" fill="#f0f0f0"/><rect x="377.4" y="155.0" width="0.8" height="0.8" fill="#c8c8c8"/><rect x="382.8" y="153.7" width="0.8" height="0.8" fill="#a0a0a0"/><rect x="475.1" y="185.1" width="0.8" height="0.8" fill="#d8d8d8"/><rect x="480.4" y="176.5" width="0.8" height="0.8" fill="#d8d8d8"/><rect x="342.2" y="96.2" width="0.8" height="0.8" fill="#ffffff"/><rect x="457.9" y="184.9" width="0.8" height="0.8" fill="#f0f0f0"/><rect x="358.3" y="141.2" width="0.8" height="0.8" fill="#c8c8c8"/><rect x="481.8" y="175.6" width="0.8" height="0.8" fill="#b4b4b4"/><rect x="440.6" y="185.6" width="0.8" height="0.8" fill="#b4b4b4"/><rect x="417.0" y="162.6" width="0.8" height="0.8" fill="#ffffff"/><rect x="396.8" y="160.5" width="0.8" height="0.8" fill="#a0a0a0"/><rect x="490.0" y="186.3" width="0.8" height="0.8" fill="#d8d8d8"/><rect x="382.2" y="156.3" width="0.8" height="0.8" fill="#f0f0f0"/><rect x="487.2" y="178.8" width="0.8" height="0.8" fill="#b4b4b4"/><rect x="484.6" y="175.9" width="0.8" height="0.8" fill="#d8d8d8"/><rect x="393.4" y="153.1" width="0.8" height="0.8" fill="#b4b4b4"/><rect x="386.3" y="169.7" width="0.8" height="0.8" fill="#ffffff"/><rect x="419.1" y="158.1" width="0.8" height="0.8" fill="#b4b4b4"/><rect x="377.2" y="170.4" width="0.8" height="0.8" fill="#a0a0a0"/><rect x="393.4" y="179.4" width="0.8" height="0.8" fill="#ffffff"/><rect x="398.4" y="171.4" width="0.8" height="0.8" fill="#ffffff"/><rect x="361.4" y="168.5" width="0.8" height="0.8" fill="#ffffff"/><rect x="413.2" y="162.8" width="0.8" height="0.8" fill="#ffffff"/><rect x="355.1" y="131.0" width="0.8" height="0.8" fill="#b4b4b4"/><rect x="383.7" y="180.2" width="0.8" height="0.8" fill="#c8c8c8"/><rect x="480.6" y="178.3" width="0.8" height="0.8" fill="#f0f0f0"/><rect x="474.0" y="185.2" width="0.8" height="0.8" fill="#d8d8d8"/><rect x="360.3" y="132.8" width="0.8" height="0.8" fill="#ffffff"/><rect x="362.8" y="172.1" width="0.8" height="0.8" fill="#a0a0a0"/><rect x="353.7" y="133.3" width="0.8" height="0.8" fill="#b4b4b4"/><rect x="481.0" y="178.4" width="0.8" height="0.8" fill="#b4b4b4"/><rect x="431.9" y="175.8" width="0.8" height="0.8" fill="#ffffff"/><rect x="372.7" y="147.7" width="0.8" height="0.8" fill="#a0a0a0"/><rect x="359.6" y="139.4" width="0.8" height="0.8" fill="#a0a0a0"/><rect x="460.6" y="172.4" width="0.8" height="0.8" fill="#d8d8d8"/><rect x="429.3" y="166.8" width="0.8" height="0.8" fill="#ffffff"/><rect x="488.1" y="178.8" width="0.8" height="0.8" fill="#a0a0a0"/><rect x="400.6" y="158.2" width="0.8" height="0.8" fill="#ffffff"/><rect x="444.2" y="167.2" width="0.8" height="0.8" fill="#c8c8c8"/><rect x="435.2" y="162.2" width="0.8" height="0.8" fill="#f0f0f0"/><rect x="423.1" y="162.9" width="0.8" height="0.8" fill="#f0f0f0"/><rect x="480.8" y="185.3" width="0.8" height="0.8" fill="#a0a0a0"/><rect x="382.5" y="175.1" width="0.8" height="0.8" fill="#b4b4b4"/><rect x="403.3" y="174.4" width="0.8" height="0.8" fill="#c8c8c8"/><rect x="382.1" y="179.2" width="0.8" height="0.8" fill="#c8c8c8"/><rect x="381.2" y="154.7" width="0.8" height="0.8" fill="#a0a0a0"/><rect x="345.4" y="153.3" width="0.8" height="0.8" fill="#ffffff"/><rect x="412.4" y="174.6" width="0.8" height="0.8" fill="#c8c8c8"/><rect x="378.2" y="151.4" width="0.8" height="0.8" fill="#f0f0f0"/><rect x="357.9" y="132.5" width="0.8" height="0.8" fill="#a0a0a0"/><rect x="390.0" y="175.6" width="0.8" height="0.8" fill="#d8d8d8"/><rect x="430.6" y="180.2" width="0.8" height="0.8" fill="#ffffff"/><rect x="397.9" y="153.0" width="0.8" height="0.8" fill="#d8d8d8"/><rect x="404.6" y="162.3" width="0.8" height="0.8" fill="#a0a0a0"/><rect x="441.8" y="181.6" width="0.8" height="0.8" fill="#b4b4b4"/><rect x="464.2" y="168.7" width="0.8" height="0.8" fill="#ffffff"/><rect x="402.7" y="159.0" width="0.8" height="0.8" fill="#a0a0a0"/><rect x="347.0" y="128.0" width="0.8" height="0.8" fill="#ffffff"/><rect x="364.9" y="143.9" width="0.8" height="0.8" fill="#a0a0a0"/><rect x="429.1" y="164.9" width="0.8" height="0.8" fill="#f0f0f0"/><rect x="488.5" y="189.3" width="0.8" height="0.8" fill="#c8c8c8"/><rect x="416.0" y="177.2" width="0.8" height="0.8" fill="#b4b4b4"/><rect x="370.6" y="169.9" width="0.8" height="0.8" fill="#a0a0a0"/><rect x="351.5" y="169.9" width="0.8" height="0.8" fill="#ffffff"/><rect x="412.2" y="180.0" width="0.8" height="0.8" fill="#c8c8c8"/><rect x="370.5" y="141.8" width="0.8" height="0.8" fill="#d8d8d8"/><rect x="455.9" y="186.3" width="0.8" height="0.8" fill="#b4b4b4"/><rect x="487.1" y="185.9" width="0.8" height="0.8" fill="#f0f0f0"/><rect x="435.0" y="163.6" width="0.8" height="0.8" fill="#a0a0a0"/><rect x="393.0" y="179.6" width="0.8" height="0.8" fill="#f0f0f0"/><rect x="428.2" y="180.2" width="0.8" height="0.8" fill="#c8c8c8"/><rect x="382.4" y="151.1" width="0.8" height="0.8" fill="#ffffff"/><rect x="385.6" y="156.4" width="0.8" height="0.8" fill="#b4b4b4"/><rect x="367.1" y="141.5" width="0.8" height="0.8" fill="#d8d8d8"/><rect x="352.0" y="138.0" width="0.8" height="0.8" fill="#c8c8c8"/><rect x="482.4" y="185.5" width="0.8" height="0.8" fill="#a0a0a0"/><rect x="419.6" y="182.6" width="0.8" height="0.8" fill="#a0a0a0"/><rect x="502.4" y="188.6" width="0.8" height="0.8" fill="#f0f0f0"/><rect x="448.4" y="180.3" width="0.8" height="0.8" fill="#ffffff"/><rect x="417.2" y="176.8" width="0.8" height="0.8" fill="#a0a0a0"/><rect x="432.9" y="182.8" width="0.8" height="0.8" fill="#d8d8d8"/><rect x="361.9" y="171.3" width="0.8" height="0.8" fill="#ffffff"/><rect x="397.9" y="161.3" width="0.8" height="0.8" fill="#a0a0a0"/><rect x="446.7" y="169.7" width="0.8" height="0.8" fill="#c8c8c8"/><rect x="412.0" y="157.0" width="0.8" height="0.8" fill="#ffffff"/><rect x="446.7" y="169.4" width="0.8" height="0.8" fill="#f0f0f0"/><rect x="463.3" y="183.6" width="0.8" height="0.8" fill="#d8d8d8"/><rect x="400.8" y="180.4" width="0.8" height="0.8" fill="#ffffff"/><rect x="451.8" y="168.9" width="0.8" height="0.8" fill="#d8d8d8"/><rect x="352.5" y="134.0" width="0.8" height="0.8" fill="#ffffff"/><rect x="351.1" y="168.0" width="0.8" height="0.8" fill="#f0f0f0"/><rect x="449.3" y="170.9" width="0.8" height="0.8" fill="#ffffff"/><rect x="497.7" y="182.2" width="0.8" height="0.8" fill="#a0a0a0"/><rect x="357.1" y="135.8" width="0.8" height="0.8" fill="#a0a0a0"/><rect x="495.6" y="187.8" width="0.8" height="0.8" fill="#c8c8c8"/><rect x="479.1" y="187.7" width="0.8" height="0.8" fill="#ffffff"/><rect x="479.3" y="178.8" width="0.8" height="0.8" fill="#ffffff"/><rect x="375.6" y="170.9" width="0.8" height="0.8" fill="#c8c8c8"/><rect x="426.2" y="184.3" width="0.8" height="0.8" fill="#c8c8c8"/><rect x="375.3" y="173.7" width="0.8" height="0.8" fill="#ffffff"/><rect x="446.9" y="164.5" width="0.8" height="0.8" fill="#ffffff"/><rect x="399.9" y="161.5" width="0.8" height="0.8" fill="#b4b4b4"/><rect x="434.2" y="163.1" width="0.8" height="0.8" fill="#ffffff"/><rect x="460.4" y="172.5" width="0.8" height="0.8" fill="#c8c8c8"/><rect x="474.4" y="188.5" width="0.8" height="0.8" fill="#ffffff"/><rect x="371.5" y="151.0" width="0.8" height="0.8" fill="#ffffff"/></g>
<line x1="467.1" y1="168.6" x2="467.1" y2="167.0" stroke="#b8b8b8" stroke-width="0.5"/>
<line x1="418.6" y1="158.4" x2="418.6" y2="154.4" stroke="#b8b8b8" stroke-width="0.5"/>
<line x1="352.3" y1="123.9" x2="352.3" y2="120.6" stroke="#b8b8b8" stroke-width="0.5"/>
<line x1="433.8" y1="161.7" x2="433.8" y2="159.2" stroke="#b8b8b8" stroke-width="0.5"/>
<line x1="477.2" y1="172.8" x2="477.2" y2="170.2" stroke="#b8b8b8" stroke-width="0.5"/>
<line x1="415.2" y1="184.9" x2="415.2" y2="188.1" stroke="#b8b8b8" stroke-width="0.5"/>
<line x1="499.9" y1="182.5" x2="499.9" y2="179.8" stroke="#b8b8b8" stroke-width="0.5"/>
<line x1="468.4" y1="186.5" x2="468.4" y2="189.0" stroke="#b8b8b8" stroke-width="0.5"/>
<line x1="485.2" y1="174.6" x2="485.2" y2="171.8" stroke="#b8b8b8" stroke-width="0.5"/>
<line x1="477.2" y1="187.2" x2="477.2" y2="189.8" stroke="#b8b8b8" stroke-width="0.5"/>
<line x1="454.9" y1="186.4" x2="454.9" y2="189.2" stroke="#b8b8b8" stroke-width="0.5"/>
<line x1="387.1" y1="149.9" x2="387.1" y2="146.5" stroke="#b8b8b8" stroke-width="0.5"/>
<line x1="487.9" y1="176.4" x2="487.9" y2="174.8" stroke="#b8b8b8" stroke-width="0.5"/>
<line x1="449.2" y1="185.3" x2="449.2" y2="189.2" stroke="#b8b8b8" stroke-width="0.5"/>
<line x1="487.2" y1="177.4" x2="487.2" y2="174.5" stroke="#b8b8b8" stroke-width="0.5"/>
<line x1="387.1" y1="180.3" x2="387.1" y2="183.6" stroke="#b8b8b8" stroke-width="0.5"/>
<line x1="388.8" y1="181.1" x2="388.8" y2="183.5" stroke="#b8b8b8" stroke-width="0.5"/>
<line x1="439.7" y1="185.3" x2="439.7" y2="187.5" stroke="#b8b8b8" stroke-width="0.5"/>
<line x1="418.6" y1="183.6" x2="418.6" y2="185.6" stroke="#b8b8b8" stroke-width="0.5"/>
<line x1="446.9" y1="185.3" x2="446.9" y2="188.9" stroke="#b8b8b8" stroke-width="0.5"/>
<line x1="468.6" y1="170.2" x2="468.6" y2="167.0" stroke="#b8b8b8" stroke-width="0.5"/>
<line x1="460.2" y1="185.9" x2="460.2" y2="187.6" stroke="#b8b8b8" stroke-width="0.5"/>
<line x1="420.4" y1="185.4" x2="420.4" y2="189.0" stroke="#b8b8b8" stroke-width="0.5"/>
<line x1="417.7" y1="183.4" x2="417.7" y2="185.1" stroke="#b8b8b8" stroke-width="0.5"/>
<line x1="405.7" y1="153.7" x2="405.7" y2="151.3" stroke="#b8b8b8" stroke-width="0.5"/>
<line x1="401.4" y1="181.4" x2="401.4" y2="185.1" stroke="#b8b8b8" stroke-width="0.5"/>
<line x1="353.1" y1="123.3" x2="353.1" y2="119.4" stroke="#b8b8b8" stroke-width="0.5"/>
<line x1="480.2" y1="173.2" x2="480.2" y2="171.7" stroke="#b8b8b8" stroke-width="0.5"/>
<line x1="363.3" y1="177.1" x2="363.3" y2="180.2" stroke="#b8b8b8" stroke-width="0.5"/>
<line x1="440.3" y1="184.4" x2="440.3" y2="187.4" stroke="#b8b8b8" stroke-width="0.5"/>
<line x1="447.8" y1="185.5" x2="447.8" y2="187.3" stroke="#b8b8b8" stroke-width="0.5"/>
<line x1="479.6" y1="189.5" x2="479.6" y2="192.6" stroke="#b8b8b8" stroke-width="0.5"/>
<line x1="349.5" y1="121.2" x2="349.5" y2="118.1" stroke="#b8b8b8" stroke-width="0.5"/>
<line x1="430.1" y1="183.7" x2="430.1" y2="185.6" stroke="#b8b8b8" stroke-width="0.5"/>
<line x1="489.6" y1="178.1" x2="489.6" y2="175.3" stroke="#b8b8b8" stroke-width="0.5"/>
<line x1="373.4" y1="143.9" x2="373.4" y2="140.8" stroke="#b8b8b8" stroke-width="0.5"/>
<line x1="348.0" y1="115.0" x2="348.0" y2="112.2" stroke="#b8b8b8" stroke-width="0.5"/>
<line x1="399.3" y1="182.0" x2="399.3" y2="185.9" stroke="#b8b8b8" stroke-width="0.5"/>
<line x1="453.5" y1="166.4" x2="453.5" y2="163.7" stroke="#b8b8b8" stroke-width="0.5"/>
<line x1="349.8" y1="167.5" x2="349.8" y2="171.3" stroke="#b8b8b8" stroke-width="0.5"/>
<line x1="464.3" y1="188.8" x2="464.3" y2="190.5" stroke="#b8b8b8" stroke-width="0.5"/>
<line x1="447.8" y1="165.8" x2="447.8" y2="162.2" stroke="#b8b8b8" stroke-width="0.5"/>
<line x1="498.3" y1="181.2" x2="498.3" y2="177.6" stroke="#b8b8b8" stroke-width="0.5"/>
<line x1="378.0" y1="145.6" x2="378.0" y2="142.5" stroke="#b8b8b8" stroke-width="0.5"/>
<line x1="425.0" y1="159.5" x2="425.0" y2="156.0" stroke="#b8b8b8" stroke-width="0.5"/>
<line x1="479.5" y1="174.9" x2="479.5" y2="171.0" stroke="#b8b8b8" stroke-width="0.5"/>
<line x1="356.0" y1="127.8" x2="356.0" y2="126.1" stroke="#b8b8b8" stroke-width="0.5"/>
<line x1="434.2" y1="162.7" x2="434.2" y2="160.1" stroke="#b8b8b8" stroke-width="0.5"/>
<line x1="404.3" y1="183.7" x2="404.3" y2="186.9" stroke="#b8b8b8" stroke-width="0.5"/>
<line x1="492.2" y1="189.0" x2="492.2" y2="190.6" stroke="#b8b8b8" stroke-width="0.5"/>
<line x1="400.9" y1="154.4" x2="400.9" y2="150.7" stroke="#b8b8b8" stroke-width="0.5"/>
<line x1="495.1" y1="180.2" x2="495.1" y2="176.6" stroke="#b8b8b8" stroke-width="0.5"/>
<line x1="449.6" y1="187.6" x2="449.6" y2="189.8" stroke="#b8b8b8" stroke-width="0.5"/>
<line x1="410.9" y1="157.4" x2="410.9" y2="155.9" stroke="#b8b8b8" stroke-width="0.5"/>
<line x1="416.0" y1="157.1" x2="416.0" y2="155.3" stroke="#b8b8b8" stroke-width="0.5"/>
<line x1="348.8" y1="119.6" x2="348.8" y2="117.2" stroke="#b8b8b8" stroke-width="0.5"/>
<line x1="462.6" y1="188.3" x2="462.6" y2="189.8" stroke="#b8b8b8" stroke-width="0.5"/>
<line x1="399.5" y1="153.3" x2="399.5" y2="150.6" stroke="#b8b8b8" stroke-width="0.5"/>
<line x1="407.7" y1="154.4" x2="407.7" y2="151.8" stroke="#b8b8b8" stroke-width="0.5"/>
<line x1="441.5" y1="163.0" x2="441.5" y2="160.6" stroke="#b8b8b8" stroke-width="0.5"/>
<line x1="358.3" y1="129.7" x2="358.3" y2="126.3" stroke="#b8b8b8" stroke-width="0.5"/>
<line x1="451.9" y1="166.2" x2="451.9" y2="163.5" stroke="#b8b8b8" stroke-width="0.5"/>
<line x1="374.7" y1="143.2" x2="374.7" y2="141.2" stroke="#b8b8b8" stroke-width="0.5"/>
<line x1="395.7" y1="152.7" x2="395.7" y2="150.4" stroke="#b8b8b8" stroke-width="0.5"/>
<line x1="479.1" y1="187.0" x2="479.1" y2="189.5" stroke="#b8b8b8" stroke-width="0.5"/>
<line x1="480.7" y1="189.2" x2="480.7" y2="191.6" stroke="#b8b8b8" stroke-width="0.5"/>
<line x1="447.0" y1="186.9" x2="447.0" y2="188.9" stroke="#b8b8b8" stroke-width="0.5"/>
<line x1="397.7" y1="183.7" x2="397.7" y2="185.7" stroke="#b8b8b8" stroke-width="0.5"/>
<line x1="353.0" y1="125.0" x2="353.0" y2="121.2" stroke="#b8b8b8" stroke-width="0.5"/>
<line x1="357.2" y1="130.1" x2="357.2" y2="127.9" stroke="#b8b8b8" stroke-width="0.5"/>
<line x1="358.2" y1="140" x2="358.2" y2="173.4" stroke="#b0143a" stroke-width="1.1" stroke-dasharray="2.2 0.8"/>
<line x1="367.6" y1="145" x2="367.6" y2="166" stroke="#b0143a" stroke-width="1.1"/>
<line x1="390.1" y1="155" x2="390.1" y2="172.9" stroke="#b0143a" stroke-width="1.1"/>
<line x1="423.6" y1="166" x2="423.6" y2="176.9" stroke="#b0143a" stroke-width="1.1"/>
<line x1="426.5" y1="168.8" x2="426.5" y2="178.6" stroke="#b0143a" stroke-width="1.1"/>
<line x1="453.7" y1="171.8" x2="453.7" y2="180.6" stroke="#b0143a" stroke-width="1.1"/>
<line x1="459.2" y1="171.2" x2="459.2" y2="186.6" stroke="#b0143a" stroke-width="1.1"/>
<line x1="497.2" y1="182.6" x2="497.2" y2="186.6" stroke="#b0143a" stroke-width="1.1"/>
<line x1="65.2" y1="263" x2="65.2" y2="404.5" stroke="#111" stroke-width="1.1"/>
<line x1="62.2" y1="265.70" x2="65.2" y2="265.70" stroke="#111" stroke-width="0.9"/>
<text x="59.60" y="268.60" font-size="8.64" fill="#231f20" text-anchor="end" stroke="#231f20" stroke-width="0.12" textLength="11.12" lengthAdjust="spacingAndGlyphs" >1.0</text>
<line x1="62.2" y1="293.00" x2="65.2" y2="293.00" stroke="#111" stroke-width="0.9"/>
<text x="59.60" y="295.90" font-size="8.64" fill="#231f20" text-anchor="end" stroke="#231f20" stroke-width="0.12" textLength="11.12" lengthAdjust="spacingAndGlyphs" >0.5</text>
<line x1="62.2" y1="320.30" x2="65.2" y2="320.30" stroke="#111" stroke-width="0.9"/>
<text x="59.60" y="323.20" font-size="8.64" fill="#231f20" text-anchor="end" stroke="#231f20" stroke-width="0.12" textLength="11.12" lengthAdjust="spacingAndGlyphs" >0.0</text>
<line x1="62.2" y1="347.60" x2="65.2" y2="347.60" stroke="#111" stroke-width="0.9"/>
<text x="59.60" y="350.50" font-size="8.64" fill="#231f20" text-anchor="end" stroke="#231f20" stroke-width="0.12" textLength="15.79" lengthAdjust="spacingAndGlyphs" >−0.5</text>
<line x1="62.2" y1="374.90" x2="65.2" y2="374.90" stroke="#111" stroke-width="0.9"/>
<text x="59.60" y="377.80" font-size="8.64" fill="#231f20" text-anchor="end" stroke="#231f20" stroke-width="0.12" textLength="15.79" lengthAdjust="spacingAndGlyphs" >−1.0</text>
<line x1="62.2" y1="402.20" x2="65.2" y2="402.20" stroke="#111" stroke-width="0.9"/>
<text x="59.60" y="405.10" font-size="8.64" fill="#231f20" text-anchor="end" stroke="#231f20" stroke-width="0.12" textLength="15.79" lengthAdjust="spacingAndGlyphs" >−1.5</text>
<text x="38.40" y="334.20" font-size="8.64" fill="#231f20" text-anchor="middle" stroke="#231f20" stroke-width="0.12" textLength="55.7" lengthAdjust="spacingAndGlyphs" transform="rotate(-90 38.40 334.20)" >log2 foldchange</text>
<rect x="70.2" y="269.4" width="4.2" height="4.2" fill="#6cb04a"/>
<text x="78.00" y="273.70" font-size="8.06" fill="#231f20" text-anchor="start" stroke="#231f20" stroke-width="0.12" textLength="44" lengthAdjust="spacingAndGlyphs" >nontargeting</text>
<rect x="70.2" y="278.2" width="4.2" height="4.2" fill="#a6192e"/>
<text x="78.00" y="282.50" font-size="8.06" fill="#231f20" text-anchor="start" stroke="#231f20" stroke-width="0.12" textLength="56" lengthAdjust="spacingAndGlyphs" >positive controls</text>
<rect x="70.2" y="287.8" width="4.2" height="4.2" fill="#27458a"/>
<text x="78.00" y="292.10" font-size="8.06" fill="#231f20" text-anchor="start" stroke="#231f20" stroke-width="0.12" textLength="68" lengthAdjust="spacingAndGlyphs" >SNORD42A_gRNA2</text>
<path d="M72,320.3 L72,372 L73,362 L75,353 L77.5,345.5 L80,340.4 L85,335.2 L93,330.6 L106,326 L128,322.5 L143,320.3 L180,315.4 L215.4,310 L229.2,306.2 L241.5,300.8 L246.2,297 L249.2,286 L250,270 L250.5,249 L250.5,320.3 Z" fill="#dcdcdf"/>
<line x1="77.5" y1="320.3" x2="77.5" y2="346" stroke="#d0708a" stroke-width="0.7"/>
<line x1="80.3" y1="320.3" x2="80.3" y2="339.2" stroke="#d0708a" stroke-width="0.7"/>
<line x1="93.4" y1="320.3" x2="93.4" y2="330" stroke="#a9cc8f" stroke-width="0.7"/>
<line x1="106" y1="320.3" x2="106" y2="326" stroke="#a9cc8f" stroke-width="0.7"/>
<line x1="124.6" y1="320.3" x2="124.6" y2="321.6" stroke="#d0708a" stroke-width="0.7"/>
<line x1="129.2" y1="320.3" x2="129.2" y2="321" stroke="#a9cc8f" stroke-width="0.7"/>
<line x1="135.4" y1="320.3" x2="135.4" y2="320.6" stroke="#d0708a" stroke-width="0.7"/>
<line x1="140" y1="320.3" x2="140" y2="320.4" stroke="#d0708a" stroke-width="0.7"/>
<line x1="153.8" y1="320.3" x2="153.8" y2="318.2" stroke="#d0708a" stroke-width="0.7"/>
<line x1="167" y1="320.3" x2="167" y2="316.5" stroke="#d0708a" stroke-width="0.7"/>
<line x1="170.8" y1="320.3" x2="170.8" y2="316" stroke="#d0708a" stroke-width="0.7"/>
<line x1="189" y1="320.3" x2="189" y2="313.8" stroke="#a9cc8f" stroke-width="0.7"/>
<line x1="215.4" y1="320.3" x2="215.4" y2="310" stroke="#c9607a" stroke-width="0.7"/>
<line x1="228.9" y1="320.3" x2="228.9" y2="306.3" stroke="#b5d4a0" stroke-width="0.7"/>
<line x1="241.5" y1="320.3" x2="241.5" y2="300.8" stroke="#c9607a" stroke-width="0.7"/>
<line x1="242.4" y1="320.3" x2="242.4" y2="300.8" stroke="#8ab870" stroke-width="0.7"/>
<rect x="71.9" y="320.3" width="2.3" height="100.3" fill="#cc5a7a"/>
<line x1="74.6" y1="320.3" x2="74.6" y2="359" stroke="#6070b0" stroke-width="0.8"/>
<line x1="74.2" y1="365" x2="99.6" y2="370.8" stroke="#7a90c8" stroke-width="0.8"/>
<line x1="73.1" y1="378.5" x2="99.6" y2="384.2" stroke="#d46a86" stroke-width="0.8"/>
<line x1="73.1" y1="385.4" x2="99.6" y2="391.2" stroke="#d46a86" stroke-width="0.8"/>
<line x1="73.1" y1="407" x2="99.6" y2="412.7" stroke="#d46a86" stroke-width="0.8"/>
<line x1="73.1" y1="420.4" x2="99.6" y2="426.5" stroke="#d46a86" stroke-width="0.8"/>
<text x="103.50" y="374.30" font-size="8.64" fill="#231f20" text-anchor="start" stroke="#231f20" stroke-width="0.12" textLength="67.6" lengthAdjust="spacingAndGlyphs" >SNORD42A gRNA2</text>
<text x="103.50" y="386.80" font-size="8.64" fill="#231f20" text-anchor="start" stroke="#231f20" stroke-width="0.12" textLength="43.9" lengthAdjust="spacingAndGlyphs" >MYC gRNA3</text>
<text x="103.50" y="396.40" font-size="8.64" fill="#231f20" text-anchor="start" stroke="#231f20" stroke-width="0.12" textLength="51.8" lengthAdjust="spacingAndGlyphs" >EIF4A1 gRNA1</text>
<text x="103.50" y="414.60" font-size="8.64" fill="#231f20" text-anchor="start" stroke="#231f20" stroke-width="0.12" textLength="43.9" lengthAdjust="spacingAndGlyphs" >MYC gRNA1</text>
<text x="103.50" y="428.70" font-size="8.64" fill="#231f20" text-anchor="start" stroke="#231f20" stroke-width="0.12" textLength="43.9" lengthAdjust="spacingAndGlyphs" >MYC gRNA5</text>
<rect x="332.00" y="247.70" width="13.1" height="3.20" fill="#d23c14"/>
<rect x="332.00" y="250.82" width="13.1" height="3.20" fill="#d23c14"/>
<rect x="332.00" y="253.94" width="13.1" height="3.20" fill="#33238f"/>
<rect x="332.00" y="257.06" width="13.1" height="3.20" fill="#f2eef2"/>
<rect x="332.00" y="260.18" width="13.1" height="3.20" fill="#a898cc"/>
<rect x="332.00" y="263.31" width="13.1" height="3.20" fill="#f2eef2"/>
<rect x="332.00" y="266.43" width="13.1" height="3.20" fill="#5a44a2"/>
<rect x="332.00" y="269.55" width="13.1" height="3.20" fill="#5a44a2"/>
<rect x="332.00" y="272.67" width="13.1" height="3.20" fill="#33238f"/>
<rect x="332.00" y="275.79" width="13.1" height="3.20" fill="#33238f"/>
<rect x="332.00" y="278.91" width="13.1" height="3.20" fill="#33238f"/>
<rect x="332.00" y="282.03" width="13.1" height="3.20" fill="#33238f"/>
<rect x="332.00" y="285.15" width="13.1" height="3.20" fill="#33238f"/>
<rect x="332.00" y="288.27" width="13.1" height="3.20" fill="#5a44a2"/>
<rect x="332.00" y="291.40" width="13.1" height="3.20" fill="#a898cc"/>
<rect x="332.00" y="294.52" width="13.1" height="3.20" fill="#d23c14"/>
<rect x="332.00" y="297.64" width="13.1" height="3.20" fill="#de6640"/>
<rect x="332.00" y="300.76" width="13.1" height="3.20" fill="#de6640"/>
<rect x="332.00" y="303.88" width="13.1" height="3.20" fill="#f2eef2"/>
<rect x="332.00" y="307.00" width="13.1" height="3.20" fill="#33238f"/>
<rect x="332.00" y="310.12" width="13.1" height="3.20" fill="#33238f"/>
<rect x="332.00" y="313.24" width="13.1" height="3.20" fill="#de6640"/>
<rect x="332.00" y="316.37" width="13.1" height="3.20" fill="#f0b8a0"/>
<rect x="332.00" y="319.49" width="13.1" height="3.20" fill="#33238f"/>
<rect x="332.00" y="322.61" width="13.1" height="3.20" fill="#de6640"/>
<rect x="332.00" y="325.73" width="13.1" height="3.20" fill="#d23c14"/>
<rect x="332.00" y="328.85" width="13.1" height="3.20" fill="#d23c14"/>
<rect x="332.00" y="331.97" width="13.1" height="3.20" fill="#d23c14"/>
<rect x="332.00" y="335.09" width="13.1" height="3.20" fill="#d23c14"/>
<rect x="332.00" y="338.21" width="13.1" height="3.20" fill="#d23c14"/>
<rect x="332.00" y="341.33" width="13.1" height="3.20" fill="#f0b8a0"/>
<rect x="332.00" y="344.46" width="13.1" height="3.20" fill="#de6640"/>
<rect x="332.00" y="347.58" width="13.1" height="3.20" fill="#f2eef2"/>
<rect x="332.00" y="350.70" width="13.1" height="3.20" fill="#a898cc"/>
<rect x="332.00" y="353.82" width="13.1" height="3.20" fill="#f0b8a0"/>
<rect x="332.00" y="356.94" width="13.1" height="3.20" fill="#f0b8a0"/>
<rect x="332.00" y="360.06" width="13.1" height="3.20" fill="#f2eef2"/>
<rect x="332.00" y="363.18" width="13.1" height="3.20" fill="#a898cc"/>
<rect x="332.00" y="366.30" width="13.1" height="3.20" fill="#5a44a2"/>
<rect x="332.00" y="369.42" width="13.1" height="3.20" fill="#de6640"/>
<rect x="332.00" y="372.55" width="13.1" height="3.20" fill="#de6640"/>
<rect x="332.00" y="375.67" width="13.1" height="3.20" fill="#f0b8a0"/>
<rect x="332.00" y="378.79" width="13.1" height="3.20" fill="#33238f"/>
<rect x="332.00" y="381.91" width="13.1" height="3.20" fill="#f2eef2"/>
<rect x="332.00" y="385.03" width="13.1" height="3.20" fill="#a898cc"/>
<rect x="332.00" y="388.15" width="13.1" height="3.20" fill="#5a44a2"/>
<rect x="332.00" y="391.27" width="13.1" height="3.20" fill="#33238f"/>
<rect x="332.00" y="394.39" width="13.1" height="3.20" fill="#33238f"/>
<rect x="332.00" y="397.52" width="13.1" height="3.20" fill="#33238f"/>
<rect x="332.00" y="400.64" width="13.1" height="3.20" fill="#33238f"/>
<rect x="332.00" y="403.76" width="13.1" height="3.20" fill="#5a44a2"/>
<rect x="332.00" y="406.88" width="13.1" height="3.20" fill="#5a44a2"/>
<rect x="345.02" y="247.70" width="13.1" height="3.20" fill="#33238f"/>
<rect x="345.02" y="250.82" width="13.1" height="3.20" fill="#33238f"/>
<rect x="345.02" y="253.94" width="13.1" height="3.20" fill="#33238f"/>
<rect x="345.02" y="257.06" width="13.1" height="3.20" fill="#33238f"/>
<rect x="345.02" y="260.18" width="13.1" height="3.20" fill="#33238f"/>
<rect x="345.02" y="263.31" width="13.1" height="3.20" fill="#33238f"/>
<rect x="345.02" y="266.43" width="13.1" height="3.20" fill="#5a44a2"/>
<rect x="345.02" y="269.55" width="13.1" height="3.20" fill="#5a44a2"/>
<rect x="345.02" y="272.67" width="13.1" height="3.20" fill="#33238f"/>
<rect x="345.02" y="275.79" width="13.1" height="3.20" fill="#33238f"/>
<rect x="345.02" y="278.91" width="13.1" height="3.20" fill="#5a44a2"/>
<rect x="345.02" y="282.03" width="13.1" height="3.20" fill="#33238f"/>
<rect x="345.02" y="285.15" width="13.1" height="3.20" fill="#5a44a2"/>
<rect x="345.02" y="288.27" width="13.1" height="3.20" fill="#5a44a2"/>
<rect x="345.02" y="291.40" width="13.1" height="3.20" fill="#33238f"/>
<rect x="345.02" y="294.52" width="13.1" height="3.20" fill="#d23c14"/>
<rect x="345.02" y="297.64" width="13.1" height="3.20" fill="#d23c14"/>
<rect x="345.02" y="300.76" width="13.1" height="3.20" fill="#de6640"/>
<rect x="345.02" y="303.88" width="13.1" height="3.20" fill="#de6640"/>
<rect x="345.02" y="307.00" width="13.1" height="3.20" fill="#f0b8a0"/>
<rect x="345.02" y="310.12" width="13.1" height="3.20" fill="#f0b8a0"/>
<rect x="345.02" y="313.24" width="13.1" height="3.20" fill="#de6640"/>
<rect x="345.02" y="316.37" width="13.1" height="3.20" fill="#de6640"/>
<rect x="345.02" y="319.49" width="13.1" height="3.20" fill="#d23c14"/>
<rect x="345.02" y="322.61" width="13.1" height="3.20" fill="#d23c14"/>
<rect x="345.02" y="325.73" width="13.1" height="3.20" fill="#d23c14"/>
<rect x="345.02" y="328.85" width="13.1" height="3.20" fill="#d23c14"/>
<rect x="345.02" y="331.97" width="13.1" height="3.20" fill="#d23c14"/>
<rect x="345.02" y="335.09" width="13.1" height="3.20" fill="#f0b8a0"/>
<rect x="345.02" y="338.21" width="13.1" height="3.20" fill="#de6640"/>
<rect x="345.02" y="341.33" width="13.1" height="3.20" fill="#de6640"/>
<rect x="345.02" y="344.46" width="13.1" height="3.20" fill="#d23c14"/>
<rect x="345.02" y="347.58" width="13.1" height="3.20" fill="#f2eef2"/>
<rect x="345.02" y="350.70" width="13.1" height="3.20" fill="#33238f"/>
<rect x="345.02" y="353.82" width="13.1" height="3.20" fill="#33238f"/>
<rect x="345.02" y="356.94" width="13.1" height="3.20" fill="#a898cc"/>
<rect x="345.02" y="360.06" width="13.1" height="3.20" fill="#a898cc"/>
<rect x="345.02" y="363.18" width="13.1" height="3.20" fill="#f2eef2"/>
<rect x="345.02" y="366.30" width="13.1" height="3.20" fill="#a898cc"/>
<rect x="345.02" y="369.42" width="13.1" height="3.20" fill="#5a44a2"/>
<rect x="345.02" y="372.55" width="13.1" height="3.20" fill="#a898cc"/>
<rect x="345.02" y="375.67" width="13.1" height="3.20" fill="#33238f"/>
<rect x="345.02" y="378.79" width="13.1" height="3.20" fill="#f0b8a0"/>
<rect x="345.02" y="381.91" width="13.1" height="3.20" fill="#a898cc"/>
<rect x="345.02" y="385.03" width="13.1" height="3.20" fill="#f2eef2"/>
<rect x="345.02" y="388.15" width="13.1" height="3.20" fill="#f2eef2"/>
<rect x="345.02" y="391.27" width="13.1" height="3.20" fill="#5a44a2"/>
<rect x="345.02" y="394.39" width="13.1" height="3.20" fill="#33238f"/>
<rect x="345.02" y="397.52" width="13.1" height="3.20" fill="#de6640"/>
<rect x="345.02" y="400.64" width="13.1" height="3.20" fill="#a898cc"/>
<rect x="345.02" y="403.76" width="13.1" height="3.20" fill="#f2eef2"/>
<rect x="345.02" y="406.88" width="13.1" height="3.20" fill="#33238f"/>
<rect x="358.04" y="247.70" width="13.1" height="3.20" fill="#5a44a2"/>
<rect x="358.04" y="250.82" width="13.1" height="3.20" fill="#33238f"/>
<rect x="358.04" y="253.94" width="13.1" height="3.20" fill="#a898cc"/>
<rect x="358.04" y="257.06" width="13.1" height="3.20" fill="#33238f"/>
<rect x="358.04" y="260.18" width="13.1" height="3.20" fill="#5a44a2"/>
<rect x="358.04" y="263.31" width="13.1" height="3.20" fill="#33238f"/>
<rect x="358.04" y="266.43" width="13.1" height="3.20" fill="#a898cc"/>
<rect x="358.04" y="269.55" width="13.1" height="3.20" fill="#33238f"/>
<rect x="358.04" y="272.67" width="13.1" height="3.20" fill="#33238f"/>
<rect x="358.04" y="275.79" width="13.1" height="3.20" fill="#5a44a2"/>
<rect x="358.04" y="278.91" width="13.1" height="3.20" fill="#33238f"/>
<rect x="358.04" y="282.03" width="13.1" height="3.20" fill="#a898cc"/>
<rect x="358.04" y="285.15" width="13.1" height="3.20" fill="#5a44a2"/>
<rect x="358.04" y="288.27" width="13.1" height="3.20" fill="#5a44a2"/>
<rect x="358.04" y="291.40" width="13.1" height="3.20" fill="#33238f"/>
<rect x="358.04" y="294.52" width="13.1" height="3.20" fill="#d23c14"/>
<rect x="358.04" y="297.64" width="13.1" height="3.20" fill="#f0b8a0"/>
<rect x="358.04" y="300.76" width="13.1" height="3.20" fill="#d23c14"/>
<rect x="358.04" y="303.88" width="13.1" height="3.20" fill="#d23c14"/>
<rect x="358.04" y="307.00" width="13.1" height="3.20" fill="#de6640"/>
<rect x="358.04" y="310.12" width="13.1" height="3.20" fill="#f2eef2"/>
<rect x="358.04" y="313.24" width="13.1" height="3.20" fill="#f0b8a0"/>
<rect x="358.04" y="316.37" width="13.1" height="3.20" fill="#a898cc"/>
<rect x="358.04" y="319.49" width="13.1" height="3.20" fill="#f0b8a0"/>
<rect x="358.04" y="322.61" width="13.1" height="3.20" fill="#d23c14"/>
<rect x="358.04" y="325.73" width="13.1" height="3.20" fill="#de6640"/>
<rect x="358.04" y="328.85" width="13.1" height="3.20" fill="#f2eef2"/>
<rect x="358.04" y="331.97" width="13.1" height="3.20" fill="#f0b8a0"/>
<rect x="358.04" y="335.09" width="13.1" height="3.20" fill="#f0b8a0"/>
<rect x="358.04" y="338.21" width="13.1" height="3.20" fill="#5a44a2"/>
<rect x="358.04" y="341.33" width="13.1" height="3.20" fill="#33238f"/>
<rect x="358.04" y="344.46" width="13.1" height="3.20" fill="#33238f"/>
<rect x="358.04" y="347.58" width="13.1" height="3.20" fill="#a898cc"/>
<rect x="358.04" y="350.70" width="13.1" height="3.20" fill="#a898cc"/>
<rect x="358.04" y="353.82" width="13.1" height="3.20" fill="#33238f"/>
<rect x="358.04" y="356.94" width="13.1" height="3.20" fill="#de6640"/>
<rect x="358.04" y="360.06" width="13.1" height="3.20" fill="#5a44a2"/>
<rect x="358.04" y="363.18" width="13.1" height="3.20" fill="#f2eef2"/>
<rect x="358.04" y="366.30" width="13.1" height="3.20" fill="#a898cc"/>
<rect x="358.04" y="369.42" width="13.1" height="3.20" fill="#5a44a2"/>
<rect x="358.04" y="372.55" width="13.1" height="3.20" fill="#a898cc"/>
<rect x="358.04" y="375.67" width="13.1" height="3.20" fill="#33238f"/>
<rect x="358.04" y="378.79" width="13.1" height="3.20" fill="#f0b8a0"/>
<rect x="358.04" y="381.91" width="13.1" height="3.20" fill="#a898cc"/>
<rect x="358.04" y="385.03" width="13.1" height="3.20" fill="#5a44a2"/>
<rect x="358.04" y="388.15" width="13.1" height="3.20" fill="#5a44a2"/>
<rect x="358.04" y="391.27" width="13.1" height="3.20" fill="#5a44a2"/>
<rect x="358.04" y="394.39" width="13.1" height="3.20" fill="#5a44a2"/>
<rect x="358.04" y="397.52" width="13.1" height="3.20" fill="#33238f"/>
<rect x="358.04" y="400.64" width="13.1" height="3.20" fill="#33238f"/>
<rect x="358.04" y="403.76" width="13.1" height="3.20" fill="#a898cc"/>
<rect x="358.04" y="406.88" width="13.1" height="3.20" fill="#33238f"/>
<rect x="371.06" y="247.70" width="13.1" height="3.20" fill="#de6640"/>
<rect x="371.06" y="250.82" width="13.1" height="3.20" fill="#de6640"/>
<rect x="371.06" y="253.94" width="13.1" height="3.20" fill="#de6640"/>
<rect x="371.06" y="257.06" width="13.1" height="3.20" fill="#5a44a2"/>
<rect x="371.06" y="260.18" width="13.1" height="3.20" fill="#5a44a2"/>
<rect x="371.06" y="263.31" width="13.1" height="3.20" fill="#33238f"/>
<rect x="371.06" y="266.43" width="13.1" height="3.20" fill="#33238f"/>
<rect x="371.06" y="269.55" width="13.1" height="3.20" fill="#a898cc"/>
<rect x="371.06" y="272.67" width="13.1" height="3.20" fill="#33238f"/>
<rect x="371.06" y="275.79" width="13.1" height="3.20" fill="#a898cc"/>
<rect x="371.06" y="278.91" width="13.1" height="3.20" fill="#a898cc"/>
<rect x="371.06" y="282.03" width="13.1" height="3.20" fill="#5a44a2"/>
<rect x="371.06" y="285.15" width="13.1" height="3.20" fill="#5a44a2"/>
<rect x="371.06" y="288.27" width="13.1" height="3.20" fill="#33238f"/>
<rect x="371.06" y="291.40" width="13.1" height="3.20" fill="#33238f"/>
<rect x="371.06" y="294.52" width="13.1" height="3.20" fill="#d23c14"/>
<rect x="371.06" y="297.64" width="13.1" height="3.20" fill="#f0b8a0"/>
<rect x="371.06" y="300.76" width="13.1" height="3.20" fill="#f0b8a0"/>
<rect x="371.06" y="303.88" width="13.1" height="3.20" fill="#f0b8a0"/>
<rect x="371.06" y="307.00" width="13.1" height="3.20" fill="#f0b8a0"/>
<rect x="371.06" y="310.12" width="13.1" height="3.20" fill="#f0b8a0"/>
<rect x="371.06" y="313.24" width="13.1" height="3.20" fill="#f2eef2"/>
<rect x="371.06" y="316.37" width="13.1" height="3.20" fill="#5a44a2"/>
<rect x="371.06" y="319.49" width="13.1" height="3.20" fill="#33238f"/>
<rect x="371.06" y="322.61" width="13.1" height="3.20" fill="#a898cc"/>
<rect x="371.06" y="325.73" width="13.1" height="3.20" fill="#a898cc"/>
<rect x="371.06" y="328.85" width="13.1" height="3.20" fill="#f0b8a0"/>
<rect x="371.06" y="331.97" width="13.1" height="3.20" fill="#f2eef2"/>
<rect x="371.06" y="335.09" width="13.1" height="3.20" fill="#f0b8a0"/>
<rect x="371.06" y="338.21" width="13.1" height="3.20" fill="#a898cc"/>
<rect x="371.06" y="341.33" width="13.1" height="3.20" fill="#f0b8a0"/>
<rect x="371.06" y="344.46" width="13.1" height="3.20" fill="#33238f"/>
<rect x="371.06" y="347.58" width="13.1" height="3.20" fill="#33238f"/>
<rect x="371.06" y="350.70" width="13.1" height="3.20" fill="#d23c14"/>
<rect x="371.06" y="353.82" width="13.1" height="3.20" fill="#f0b8a0"/>
<rect x="371.06" y="356.94" width="13.1" height="3.20" fill="#a898cc"/>
<rect x="371.06" y="360.06" width="13.1" height="3.20" fill="#f2eef2"/>
<rect x="371.06" y="363.18" width="13.1" height="3.20" fill="#a898cc"/>
<rect x="371.06" y="366.30" width="13.1" height="3.20" fill="#5a44a2"/>
<rect x="371.06" y="369.42" width="13.1" height="3.20" fill="#5a44a2"/>
<rect x="371.06" y="372.55" width="13.1" height="3.20" fill="#5a44a2"/>
<rect x="371.06" y="375.67" width="13.1" height="3.20" fill="#33238f"/>
<rect x="371.06" y="378.79" width="13.1" height="3.20" fill="#a898cc"/>
<rect x="371.06" y="381.91" width="13.1" height="3.20" fill="#f2eef2"/>
<rect x="371.06" y="385.03" width="13.1" height="3.20" fill="#f2eef2"/>
<rect x="371.06" y="388.15" width="13.1" height="3.20" fill="#a898cc"/>
<rect x="371.06" y="391.27" width="13.1" height="3.20" fill="#de6640"/>
<rect x="371.06" y="394.39" width="13.1" height="3.20" fill="#a898cc"/>
<rect x="371.06" y="397.52" width="13.1" height="3.20" fill="#33238f"/>
<rect x="371.06" y="400.64" width="13.1" height="3.20" fill="#33238f"/>
<rect x="371.06" y="403.76" width="13.1" height="3.20" fill="#33238f"/>
<rect x="371.06" y="406.88" width="13.1" height="3.20" fill="#33238f"/>
<rect x="384.08" y="247.70" width="13.1" height="3.20" fill="#f0b8a0"/>
<rect x="384.08" y="250.82" width="13.1" height="3.20" fill="#f2eef2"/>
<rect x="384.08" y="253.94" width="13.1" height="3.20" fill="#d23c14"/>
<rect x="384.08" y="257.06" width="13.1" height="3.20" fill="#33238f"/>
<rect x="384.08" y="260.18" width="13.1" height="3.20" fill="#a898cc"/>
<rect x="384.08" y="263.31" width="13.1" height="3.20" fill="#33238f"/>
<rect x="384.08" y="266.43" width="13.1" height="3.20" fill="#5a44a2"/>
<rect x="384.08" y="269.55" width="13.1" height="3.20" fill="#33238f"/>
<rect x="384.08" y="272.67" width="13.1" height="3.20" fill="#5a44a2"/>
<rect x="384.08" y="275.79" width="13.1" height="3.20" fill="#f2eef2"/>
<rect x="384.08" y="278.91" width="13.1" height="3.20" fill="#33238f"/>
<rect x="384.08" y="282.03" width="13.1" height="3.20" fill="#5a44a2"/>
<rect x="384.08" y="285.15" width="13.1" height="3.20" fill="#33238f"/>
<rect x="384.08" y="288.27" width="13.1" height="3.20" fill="#a898cc"/>
<rect x="384.08" y="291.40" width="13.1" height="3.20" fill="#33238f"/>
<rect x="384.08" y="294.52" width="13.1" height="3.20" fill="#d23c14"/>
<rect x="384.08" y="297.64" width="13.1" height="3.20" fill="#de6640"/>
<rect x="384.08" y="300.76" width="13.1" height="3.20" fill="#de6640"/>
<rect x="384.08" y="303.88" width="13.1" height="3.20" fill="#f2eef2"/>
<rect x="384.08" y="307.00" width="13.1" height="3.20" fill="#f0b8a0"/>
<rect x="384.08" y="310.12" width="13.1" height="3.20" fill="#f2eef2"/>
<rect x="384.08" y="313.24" width="13.1" height="3.20" fill="#d23c14"/>
<rect x="384.08" y="316.37" width="13.1" height="3.20" fill="#de6640"/>
<rect x="384.08" y="319.49" width="13.1" height="3.20" fill="#33238f"/>
<rect x="384.08" y="322.61" width="13.1" height="3.20" fill="#a898cc"/>
<rect x="384.08" y="325.73" width="13.1" height="3.20" fill="#f2eef2"/>
<rect x="384.08" y="328.85" width="13.1" height="3.20" fill="#a898cc"/>
<rect x="384.08" y="331.97" width="13.1" height="3.20" fill="#f2eef2"/>
<rect x="384.08" y="335.09" width="13.1" height="3.20" fill="#f2eef2"/>
<rect x="384.08" y="338.21" width="13.1" height="3.20" fill="#33238f"/>
<rect x="384.08" y="341.33" width="13.1" height="3.20" fill="#5a44a2"/>
<rect x="384.08" y="344.46" width="13.1" height="3.20" fill="#5a44a2"/>
<rect x="384.08" y="347.58" width="13.1" height="3.20" fill="#5a44a2"/>
<rect x="384.08" y="350.70" width="13.1" height="3.20" fill="#d23c14"/>
<rect x="384.08" y="353.82" width="13.1" height="3.20" fill="#33238f"/>
<rect x="384.08" y="356.94" width="13.1" height="3.20" fill="#a898cc"/>
<rect x="384.08" y="360.06" width="13.1" height="3.20" fill="#de6640"/>
<rect x="384.08" y="363.18" width="13.1" height="3.20" fill="#f0b8a0"/>
<rect x="384.08" y="366.30" width="13.1" height="3.20" fill="#f2eef2"/>
<rect x="384.08" y="369.42" width="13.1" height="3.20" fill="#5a44a2"/>
<rect x="384.08" y="372.55" width="13.1" height="3.20" fill="#33238f"/>
<rect x="384.08" y="375.67" width="13.1" height="3.20" fill="#33238f"/>
<rect x="384.08" y="378.79" width="13.1" height="3.20" fill="#a898cc"/>
<rect x="384.08" y="381.91" width="13.1" height="3.20" fill="#5a44a2"/>
<rect x="384.08" y="385.03" width="13.1" height="3.20" fill="#a898cc"/>
<rect x="384.08" y="388.15" width="13.1" height="3.20" fill="#5a44a2"/>
<rect x="384.08" y="391.27" width="13.1" height="3.20" fill="#5a44a2"/>
<rect x="384.08" y="394.39" width="13.1" height="3.20" fill="#f2eef2"/>
<rect x="384.08" y="397.52" width="13.1" height="3.20" fill="#33238f"/>
<rect x="384.08" y="400.64" width="13.1" height="3.20" fill="#33238f"/>
<rect x="384.08" y="403.76" width="13.1" height="3.20" fill="#33238f"/>
<rect x="384.08" y="406.88" width="13.1" height="3.20" fill="#33238f"/>
<rect x="397.10" y="247.70" width="13.1" height="3.20" fill="#de6640"/>
<rect x="397.10" y="250.82" width="13.1" height="3.20" fill="#de6640"/>
<rect x="397.10" y="253.94" width="13.1" height="3.20" fill="#d23c14"/>
<rect x="397.10" y="257.06" width="13.1" height="3.20" fill="#d23c14"/>
<rect x="397.10" y="260.18" width="13.1" height="3.20" fill="#d23c14"/>
<rect x="397.10" y="263.31" width="13.1" height="3.20" fill="#d23c14"/>
<rect x="397.10" y="266.43" width="13.1" height="3.20" fill="#d23c14"/>
<rect x="397.10" y="269.55" width="13.1" height="3.20" fill="#d23c14"/>
<rect x="397.10" y="272.67" width="13.1" height="3.20" fill="#d23c14"/>
<rect x="397.10" y="275.79" width="13.1" height="3.20" fill="#de6640"/>
<rect x="397.10" y="278.91" width="13.1" height="3.20" fill="#de6640"/>
<rect x="397.10" y="282.03" width="13.1" height="3.20" fill="#f0b8a0"/>
<rect x="397.10" y="285.15" width="13.1" height="3.20" fill="#f2eef2"/>
<rect x="397.10" y="288.27" width="13.1" height="3.20" fill="#a898cc"/>
<rect x="397.10" y="291.40" width="13.1" height="3.20" fill="#f0b8a0"/>
<rect x="397.10" y="294.52" width="13.1" height="3.20" fill="#5a44a2"/>
<rect x="397.10" y="297.64" width="13.1" height="3.20" fill="#a898cc"/>
<rect x="397.10" y="300.76" width="13.1" height="3.20" fill="#f0b8a0"/>
<rect x="397.10" y="303.88" width="13.1" height="3.20" fill="#5a44a2"/>
<rect x="397.10" y="307.00" width="13.1" height="3.20" fill="#f2eef2"/>
<rect x="397.10" y="310.12" width="13.1" height="3.20" fill="#f0b8a0"/>
<rect x="397.10" y="313.24" width="13.1" height="3.20" fill="#33238f"/>
<rect x="397.10" y="316.37" width="13.1" height="3.20" fill="#33238f"/>
<rect x="397.10" y="319.49" width="13.1" height="3.20" fill="#33238f"/>
<rect x="397.10" y="322.61" width="13.1" height="3.20" fill="#33238f"/>
<rect x="397.10" y="325.73" width="13.1" height="3.20" fill="#33238f"/>
<rect x="397.10" y="328.85" width="13.1" height="3.20" fill="#5a44a2"/>
<rect x="397.10" y="331.97" width="13.1" height="3.20" fill="#a898cc"/>
<rect x="397.10" y="335.09" width="13.1" height="3.20" fill="#33238f"/>
<rect x="397.10" y="338.21" width="13.1" height="3.20" fill="#a898cc"/>
<rect x="397.10" y="341.33" width="13.1" height="3.20" fill="#5a44a2"/>
<rect x="397.10" y="344.46" width="13.1" height="3.20" fill="#a898cc"/>
<rect x="397.10" y="347.58" width="13.1" height="3.20" fill="#5a44a2"/>
<rect x="397.10" y="350.70" width="13.1" height="3.20" fill="#5a44a2"/>
<rect x="397.10" y="353.82" width="13.1" height="3.20" fill="#33238f"/>
<rect x="397.10" y="356.94" width="13.1" height="3.20" fill="#33238f"/>
<rect x="397.10" y="360.06" width="13.1" height="3.20" fill="#33238f"/>
<rect x="397.10" y="363.18" width="13.1" height="3.20" fill="#33238f"/>
<rect x="397.10" y="366.30" width="13.1" height="3.20" fill="#33238f"/>
<rect x="397.10" y="369.42" width="13.1" height="3.20" fill="#33238f"/>
<rect x="397.10" y="372.55" width="13.1" height="3.20" fill="#a898cc"/>
<rect x="397.10" y="375.67" width="13.1" height="3.20" fill="#a898cc"/>
<rect x="397.10" y="378.79" width="13.1" height="3.20" fill="#f2eef2"/>
<rect x="397.10" y="381.91" width="13.1" height="3.20" fill="#a898cc"/>
<rect x="397.10" y="385.03" width="13.1" height="3.20" fill="#f0b8a0"/>
<rect x="397.10" y="388.15" width="13.1" height="3.20" fill="#f2eef2"/>
<rect x="397.10" y="391.27" width="13.1" height="3.20" fill="#f2eef2"/>
<rect x="397.10" y="394.39" width="13.1" height="3.20" fill="#d23c14"/>
<rect x="397.10" y="397.52" width="13.1" height="3.20" fill="#f2eef2"/>
<rect x="397.10" y="400.64" width="13.1" height="3.20" fill="#f0b8a0"/>
<rect x="397.10" y="403.76" width="13.1" height="3.20" fill="#33238f"/>
<rect x="397.10" y="406.88" width="13.1" height="3.20" fill="#33238f"/>
<rect x="410.12" y="247.70" width="13.1" height="3.20" fill="#de6640"/>
<rect x="410.12" y="250.82" width="13.1" height="3.20" fill="#de6640"/>
<rect x="410.12" y="253.94" width="13.1" height="3.20" fill="#d23c14"/>
<rect x="410.12" y="257.06" width="13.1" height="3.20" fill="#d23c14"/>
<rect x="410.12" y="260.18" width="13.1" height="3.20" fill="#de6640"/>
<rect x="410.12" y="263.31" width="13.1" height="3.20" fill="#de6640"/>
<rect x="410.12" y="266.43" width="13.1" height="3.20" fill="#d23c14"/>
<rect x="410.12" y="269.55" width="13.1" height="3.20" fill="#d23c14"/>
<rect x="410.12" y="272.67" width="13.1" height="3.20" fill="#de6640"/>
<rect x="410.12" y="275.79" width="13.1" height="3.20" fill="#d23c14"/>
<rect x="410.12" y="278.91" width="13.1" height="3.20" fill="#f2eef2"/>
<rect x="410.12" y="282.03" width="13.1" height="3.20" fill="#de6640"/>
<rect x="410.12" y="285.15" width="13.1" height="3.20" fill="#de6640"/>
<rect x="410.12" y="288.27" width="13.1" height="3.20" fill="#f2eef2"/>
<rect x="410.12" y="291.40" width="13.1" height="3.20" fill="#a898cc"/>
<rect x="410.12" y="294.52" width="13.1" height="3.20" fill="#a898cc"/>
<rect x="410.12" y="297.64" width="13.1" height="3.20" fill="#a898cc"/>
<rect x="410.12" y="300.76" width="13.1" height="3.20" fill="#33238f"/>
<rect x="410.12" y="303.88" width="13.1" height="3.20" fill="#f2eef2"/>
<rect x="410.12" y="307.00" width="13.1" height="3.20" fill="#f0b8a0"/>
<rect x="410.12" y="310.12" width="13.1" height="3.20" fill="#de6640"/>
<rect x="410.12" y="313.24" width="13.1" height="3.20" fill="#33238f"/>
<rect x="410.12" y="316.37" width="13.1" height="3.20" fill="#f0b8a0"/>
<rect x="410.12" y="319.49" width="13.1" height="3.20" fill="#33238f"/>
<rect x="410.12" y="322.61" width="13.1" height="3.20" fill="#5a44a2"/>
<rect x="410.12" y="325.73" width="13.1" height="3.20" fill="#5a44a2"/>
<rect x="410.12" y="328.85" width="13.1" height="3.20" fill="#a898cc"/>
<rect x="410.12" y="331.97" width="13.1" height="3.20" fill="#33238f"/>
<rect x="410.12" y="335.09" width="13.1" height="3.20" fill="#33238f"/>
<rect x="410.12" y="338.21" width="13.1" height="3.20" fill="#f2eef2"/>
<rect x="410.12" y="341.33" width="13.1" height="3.20" fill="#33238f"/>
<rect x="410.12" y="344.46" width="13.1" height="3.20" fill="#5a44a2"/>
<rect x="410.12" y="347.58" width="13.1" height="3.20" fill="#5a44a2"/>
<rect x="410.12" y="350.70" width="13.1" height="3.20" fill="#33238f"/>
<rect x="410.12" y="353.82" width="13.1" height="3.20" fill="#33238f"/>
<rect x="410.12" y="356.94" width="13.1" height="3.20" fill="#33238f"/>
<rect x="410.12" y="360.06" width="13.1" height="3.20" fill="#a898cc"/>
<rect x="410.12" y="363.18" width="13.1" height="3.20" fill="#5a44a2"/>
<rect x="410.12" y="366.30" width="13.1" height="3.20" fill="#a898cc"/>
<rect x="410.12" y="369.42" width="13.1" height="3.20" fill="#a898cc"/>
<rect x="410.12" y="372.55" width="13.1" height="3.20" fill="#5a44a2"/>
<rect x="410.12" y="375.67" width="13.1" height="3.20" fill="#5a44a2"/>
<rect x="410.12" y="378.79" width="13.1" height="3.20" fill="#f2eef2"/>
<rect x="410.12" y="381.91" width="13.1" height="3.20" fill="#33238f"/>
<rect x="410.12" y="385.03" width="13.1" height="3.20" fill="#a898cc"/>
<rect x="410.12" y="388.15" width="13.1" height="3.20" fill="#a898cc"/>
<rect x="410.12" y="391.27" width="13.1" height="3.20" fill="#a898cc"/>
<rect x="410.12" y="394.39" width="13.1" height="3.20" fill="#33238f"/>
<rect x="410.12" y="397.52" width="13.1" height="3.20" fill="#33238f"/>
<rect x="410.12" y="400.64" width="13.1" height="3.20" fill="#5a44a2"/>
<rect x="410.12" y="403.76" width="13.1" height="3.20" fill="#33238f"/>
<rect x="410.12" y="406.88" width="13.1" height="3.20" fill="#33238f"/>
<rect x="423.14" y="247.70" width="13.1" height="3.20" fill="#d23c14"/>
<rect x="423.14" y="250.82" width="13.1" height="3.20" fill="#d23c14"/>
<rect x="423.14" y="253.94" width="13.1" height="3.20" fill="#d23c14"/>
<rect x="423.14" y="257.06" width="13.1" height="3.20" fill="#d23c14"/>
<rect x="423.14" y="260.18" width="13.1" height="3.20" fill="#d23c14"/>
<rect x="423.14" y="263.31" width="13.1" height="3.20" fill="#d23c14"/>
<rect x="423.14" y="266.43" width="13.1" height="3.20" fill="#d23c14"/>
<rect x="423.14" y="269.55" width="13.1" height="3.20" fill="#f2eef2"/>
<rect x="423.14" y="272.67" width="13.1" height="3.20" fill="#f0b8a0"/>
<rect x="423.14" y="275.79" width="13.1" height="3.20" fill="#5a44a2"/>
<rect x="423.14" y="278.91" width="13.1" height="3.20" fill="#33238f"/>
<rect x="423.14" y="282.03" width="13.1" height="3.20" fill="#5a44a2"/>
<rect x="423.14" y="285.15" width="13.1" height="3.20" fill="#33238f"/>
<rect x="423.14" y="288.27" width="13.1" height="3.20" fill="#a898cc"/>
<rect x="423.14" y="291.40" width="13.1" height="3.20" fill="#33238f"/>
<rect x="423.14" y="294.52" width="13.1" height="3.20" fill="#33238f"/>
<rect x="423.14" y="297.64" width="13.1" height="3.20" fill="#33238f"/>
<rect x="423.14" y="300.76" width="13.1" height="3.20" fill="#5a44a2"/>
<rect x="423.14" y="303.88" width="13.1" height="3.20" fill="#33238f"/>
<rect x="423.14" y="307.00" width="13.1" height="3.20" fill="#de6640"/>
<rect x="423.14" y="310.12" width="13.1" height="3.20" fill="#33238f"/>
<rect x="423.14" y="313.24" width="13.1" height="3.20" fill="#f0b8a0"/>
<rect x="423.14" y="316.37" width="13.1" height="3.20" fill="#d23c14"/>
<rect x="423.14" y="319.49" width="13.1" height="3.20" fill="#de6640"/>
<rect x="423.14" y="322.61" width="13.1" height="3.20" fill="#a898cc"/>
<rect x="423.14" y="325.73" width="13.1" height="3.20" fill="#a898cc"/>
<rect x="423.14" y="328.85" width="13.1" height="3.20" fill="#33238f"/>
<rect x="423.14" y="331.97" width="13.1" height="3.20" fill="#33238f"/>
<rect x="423.14" y="335.09" width="13.1" height="3.20" fill="#33238f"/>
<rect x="423.14" y="338.21" width="13.1" height="3.20" fill="#a898cc"/>
<rect x="423.14" y="341.33" width="13.1" height="3.20" fill="#33238f"/>
<rect x="423.14" y="344.46" width="13.1" height="3.20" fill="#33238f"/>
<rect x="423.14" y="347.58" width="13.1" height="3.20" fill="#5a44a2"/>
<rect x="423.14" y="350.70" width="13.1" height="3.20" fill="#f2eef2"/>
<rect x="423.14" y="353.82" width="13.1" height="3.20" fill="#d23c14"/>
<rect x="423.14" y="356.94" width="13.1" height="3.20" fill="#a898cc"/>
<rect x="423.14" y="360.06" width="13.1" height="3.20" fill="#5a44a2"/>
<rect x="423.14" y="363.18" width="13.1" height="3.20" fill="#a898cc"/>
<rect x="423.14" y="366.30" width="13.1" height="3.20" fill="#33238f"/>
<rect x="423.14" y="369.42" width="13.1" height="3.20" fill="#f2eef2"/>
<rect x="423.14" y="372.55" width="13.1" height="3.20" fill="#5a44a2"/>
<rect x="423.14" y="375.67" width="13.1" height="3.20" fill="#5a44a2"/>
<rect x="423.14" y="378.79" width="13.1" height="3.20" fill="#33238f"/>
<rect x="423.14" y="381.91" width="13.1" height="3.20" fill="#5a44a2"/>
<rect x="423.14" y="385.03" width="13.1" height="3.20" fill="#33238f"/>
<rect x="423.14" y="388.15" width="13.1" height="3.20" fill="#33238f"/>
<rect x="423.14" y="391.27" width="13.1" height="3.20" fill="#5a44a2"/>
<rect x="423.14" y="394.39" width="13.1" height="3.20" fill="#a898cc"/>
<rect x="423.14" y="397.52" width="13.1" height="3.20" fill="#33238f"/>
<rect x="423.14" y="400.64" width="13.1" height="3.20" fill="#33238f"/>
<rect x="423.14" y="403.76" width="13.1" height="3.20" fill="#f2eef2"/>
<rect x="423.14" y="406.88" width="13.1" height="3.20" fill="#5a44a2"/>
<path d="M338.2,248 L338.2,236.4 M338.2,236.4 L357.8,236.4 M357.8,236.4 L357.8,239.6 M351.2,239.6 L364.1,239.6 M351.2,239.6 L351.2,248 M364.1,239.6 L364.1,248 M348,236.4 L348,235.2 M348,235.2 L384.3,235.2 M384.3,235.2 L384.3,240.8 M377.4,240.8 L390.7,240.8 M377.4,240.8 L377.4,248 M390.7,240.8 L390.7,248 M366.2,235.2 L366.2,230.4 M366.2,230.4 L420.1,230.4 M420.1,230.4 L420.1,235.8 M410.2,235.8 L429.6,235.8 M429.6,235.8 L429.6,248 M410.2,235.8 L410.2,240.4 M403.4,240.4 L416.7,240.4 M403.4,240.4 L403.4,248 M416.7,240.4 L416.7,248" stroke="#1a1a1a" stroke-width="0.9" fill="none" stroke-linecap="square"/>
<g transform="translate(329 250.26) scale(0.3)"><text x="0" y="0" font-size="9.6" fill="#6a6a6a" text-anchor="end" textLength="49.8" lengthAdjust="spacingAndGlyphs">SNORA21</text></g>
<g transform="translate(329 253.38) scale(0.3)"><text x="0" y="0" font-size="9.6" fill="#6a6a6a" text-anchor="end" textLength="56.9" lengthAdjust="spacingAndGlyphs">SNORA71B</text></g>
<g transform="translate(329 256.50) scale(0.3)"><text x="0" y="0" font-size="9.6" fill="#6a6a6a" text-anchor="end" textLength="57.5" lengthAdjust="spacingAndGlyphs">SNORD12A</text></g>
<g transform="translate(329 259.62) scale(0.3)"><text x="0" y="0" font-size="9.6" fill="#6a6a6a" text-anchor="end" textLength="51.0" lengthAdjust="spacingAndGlyphs">SNORA7B</text></g>
<g transform="translate(329 262.75) scale(0.3)"><text x="0" y="0" font-size="9.6" fill="#6a6a6a" text-anchor="end" textLength="51.6" lengthAdjust="spacingAndGlyphs">SNORA7C</text></g>
<g transform="translate(329 265.87) scale(0.3)"><text x="0" y="0" font-size="9.6" fill="#6a6a6a" text-anchor="end" textLength="51.0" lengthAdjust="spacingAndGlyphs">SNORA7B</text></g>
<g transform="translate(329 268.99) scale(0.3)"><text x="0" y="0" font-size="9.6" fill="#6a6a6a" text-anchor="end" textLength="56.9" lengthAdjust="spacingAndGlyphs">SNORA14A</text></g>
<g transform="translate(329 272.11) scale(0.3)"><text x="0" y="0" font-size="9.6" fill="#6a6a6a" text-anchor="end" textLength="50.4" lengthAdjust="spacingAndGlyphs">SNORD55</text></g>
<g transform="translate(329 275.23) scale(0.3)"><text x="0" y="0" font-size="9.6" fill="#6a6a6a" text-anchor="end" textLength="49.8" lengthAdjust="spacingAndGlyphs">SNORA52</text></g>
<g transform="translate(329 278.35) scale(0.3)"><text x="0" y="0" font-size="9.6" fill="#6a6a6a" text-anchor="end" textLength="49.8" lengthAdjust="spacingAndGlyphs">SNORA72</text></g>
<g transform="translate(329 281.47) scale(0.3)"><text x="0" y="0" font-size="9.6" fill="#6a6a6a" text-anchor="end" textLength="57.5" lengthAdjust="spacingAndGlyphs">SNORD14B</text></g>
<g transform="translate(329 284.59) scale(0.3)"><text x="0" y="0" font-size="9.6" fill="#6a6a6a" text-anchor="end" textLength="50.4" lengthAdjust="spacingAndGlyphs">SNORD34</text></g>
<g transform="translate(329 287.71) scale(0.3)"><text x="0" y="0" font-size="9.6" fill="#6a6a6a" text-anchor="end" textLength="50.4" lengthAdjust="spacingAndGlyphs">SNORD32</text></g>
<g transform="translate(329 290.84) scale(0.3)"><text x="0" y="0" font-size="9.6" fill="#6a6a6a" text-anchor="end" textLength="43.9" lengthAdjust="spacingAndGlyphs">SNORA5</text></g>
<g transform="translate(329 293.96) scale(0.3)"><text x="0" y="0" font-size="9.6" fill="#6a6a6a" text-anchor="end" textLength="57.5" lengthAdjust="spacingAndGlyphs">SNORD72A</text></g>
<g transform="translate(329 297.08) scale(0.3)"><text x="0" y="0" font-size="9.6" fill="#6a6a6a" text-anchor="end" textLength="57.5" lengthAdjust="spacingAndGlyphs">SNORD58B</text></g>
<g transform="translate(329 300.20) scale(0.3)"><text x="0" y="0" font-size="9.6" fill="#6a6a6a" text-anchor="end" textLength="113.3" lengthAdjust="spacingAndGlyphs">SNORD119A_SNORD118B</text></g>
<g transform="translate(329 303.32) scale(0.3)"><text x="0" y="0" font-size="9.6" fill="#6a6a6a" text-anchor="end" textLength="44.5" lengthAdjust="spacingAndGlyphs">SNORD7</text></g>
<g transform="translate(329 306.44) scale(0.3)"><text x="0" y="0" font-size="9.6" fill="#6a6a6a" text-anchor="end" textLength="57.5" lengthAdjust="spacingAndGlyphs">SNORD44A</text></g>
<g transform="translate(329 309.56) scale(0.3)"><text x="0" y="0" font-size="9.6" fill="#6a6a6a" text-anchor="end" textLength="50.4" lengthAdjust="spacingAndGlyphs">SNORD29</text></g>
<g transform="translate(329 312.68) scale(0.3)"><text x="0" y="0" font-size="9.6" fill="#6a6a6a" text-anchor="end" textLength="49.8" lengthAdjust="spacingAndGlyphs">SNORA32</text></g>
<g transform="translate(329 315.80) scale(0.3)"><text x="0" y="0" font-size="9.6" fill="#6a6a6a" text-anchor="end" textLength="56.7" lengthAdjust="spacingAndGlyphs">SNORD11B</text></g>
<g transform="translate(329 318.93) scale(0.3)"><text x="0" y="0" font-size="9.6" fill="#6a6a6a" text-anchor="end" textLength="50.4" lengthAdjust="spacingAndGlyphs">SNORD49</text></g>
<g transform="translate(329 322.05) scale(0.3)"><text x="0" y="0" font-size="9.6" fill="#6a6a6a" text-anchor="end" textLength="56.3" lengthAdjust="spacingAndGlyphs">SNORD127</text></g>
<g transform="translate(329 325.17) scale(0.3)"><text x="0" y="0" font-size="9.6" fill="#6a6a6a" text-anchor="end" textLength="49.8" lengthAdjust="spacingAndGlyphs">SNORA29</text></g>
<g transform="translate(329 328.29) scale(0.3)"><text x="0" y="0" font-size="9.6" fill="#6a6a6a" text-anchor="end" textLength="50.4" lengthAdjust="spacingAndGlyphs">SNORD24</text></g>
<g transform="translate(329 331.41) scale(0.3)"><text x="0" y="0" font-size="9.6" fill="#6a6a6a" text-anchor="end" textLength="50.4" lengthAdjust="spacingAndGlyphs">SNORD23</text></g>
<g transform="translate(329 334.53) scale(0.3)"><text x="0" y="0" font-size="9.6" fill="#6a6a6a" text-anchor="end" textLength="106.7" lengthAdjust="spacingAndGlyphs">SNORA3_SNORA41A</text></g>
<g transform="translate(329 337.65) scale(0.3)"><text x="0" y="0" font-size="9.6" fill="#6a6a6a" text-anchor="end" textLength="51.0" lengthAdjust="spacingAndGlyphs">SNORA1A</text></g>
<g transform="translate(329 340.77) scale(0.3)"><text x="0" y="0" font-size="9.6" fill="#6a6a6a" text-anchor="end" textLength="50.4" lengthAdjust="spacingAndGlyphs">SNORD66</text></g>
<g transform="translate(329 343.90) scale(0.3)"><text x="0" y="0" font-size="9.6" fill="#6a6a6a" text-anchor="end" textLength="50.4" lengthAdjust="spacingAndGlyphs">SNORD45</text></g>
<g transform="translate(329 347.02) scale(0.3)"><text x="0" y="0" font-size="9.6" fill="#6a6a6a" text-anchor="end" textLength="49.8" lengthAdjust="spacingAndGlyphs">SNORA71</text></g>
<g transform="translate(329 350.14) scale(0.3)"><text x="0" y="0" font-size="9.6" fill="#6a6a6a" text-anchor="end" textLength="50.4" lengthAdjust="spacingAndGlyphs">SNORD13</text></g>
<g transform="translate(329 353.26) scale(0.3)"><text x="0" y="0" font-size="9.6" fill="#6a6a6a" text-anchor="end" textLength="49.8" lengthAdjust="spacingAndGlyphs">SNORA16</text></g>
<g transform="translate(329 356.38) scale(0.3)"><text x="0" y="0" font-size="9.6" fill="#6a6a6a" text-anchor="end" textLength="50.4" lengthAdjust="spacingAndGlyphs">SNORD33</text></g>
<g transform="translate(329 359.50) scale(0.3)"><text x="0" y="0" font-size="9.6" fill="#6a6a6a" text-anchor="end" textLength="57.5" lengthAdjust="spacingAndGlyphs">SNORD42B</text></g>
<g transform="translate(329 362.62) scale(0.3)"><text x="0" y="0" font-size="9.6" fill="#6a6a6a" text-anchor="end" textLength="50.4" lengthAdjust="spacingAndGlyphs">SNORD47</text></g>
<g transform="translate(329 365.74) scale(0.3)"><text x="0" y="0" font-size="9.6" fill="#6a6a6a" text-anchor="end" textLength="50.4" lengthAdjust="spacingAndGlyphs">SNORD71</text></g>
<g transform="translate(329 368.86) scale(0.3)"><text x="0" y="0" font-size="9.6" fill="#6a6a6a" text-anchor="end" textLength="50.4" lengthAdjust="spacingAndGlyphs">SNORD22</text></g>
<g transform="translate(329 371.99) scale(0.3)"><text x="0" y="0" font-size="9.6" fill="#6a6a6a" text-anchor="end" textLength="50.4" lengthAdjust="spacingAndGlyphs">SNORD15</text></g>
<g transform="translate(329 375.11) scale(0.3)"><text x="0" y="0" font-size="9.6" fill="#6a6a6a" text-anchor="end" textLength="50.4" lengthAdjust="spacingAndGlyphs">SNORD48</text></g>
<g transform="translate(329 378.23) scale(0.3)"><text x="0" y="0" font-size="9.6" fill="#6a6a6a" text-anchor="end" textLength="56.9" lengthAdjust="spacingAndGlyphs">SNORA71A</text></g>
<g transform="translate(329 381.35) scale(0.3)"><text x="0" y="0" font-size="9.6" fill="#6a6a6a" text-anchor="end" textLength="56.9" lengthAdjust="spacingAndGlyphs">SNORA71E</text></g>
<g transform="translate(329 384.47) scale(0.3)"><text x="0" y="0" font-size="9.6" fill="#6a6a6a" text-anchor="end" textLength="50.4" lengthAdjust="spacingAndGlyphs">SNORD61</text></g>
<g transform="translate(329 387.59) scale(0.3)"><text x="0" y="0" font-size="9.6" fill="#6a6a6a" text-anchor="end" textLength="50.4" lengthAdjust="spacingAndGlyphs">SNORD43</text></g>
<g transform="translate(329 390.71) scale(0.3)"><text x="0" y="0" font-size="9.6" fill="#6a6a6a" text-anchor="end" textLength="49.8" lengthAdjust="spacingAndGlyphs">SNORA24</text></g>
<g transform="translate(329 393.83) scale(0.3)"><text x="0" y="0" font-size="9.6" fill="#6a6a6a" text-anchor="end" textLength="113.3" lengthAdjust="spacingAndGlyphs">SNORD42A_SNORD42B</text></g>
<g transform="translate(329 396.95) scale(0.3)"><text x="0" y="0" font-size="9.6" fill="#6a6a6a" text-anchor="end" textLength="49.8" lengthAdjust="spacingAndGlyphs">SNORA72</text></g>
<g transform="translate(329 400.08) scale(0.3)"><text x="0" y="0" font-size="9.6" fill="#6a6a6a" text-anchor="end" textLength="50.4" lengthAdjust="spacingAndGlyphs">SNORD30</text></g>
<g transform="translate(329 403.20) scale(0.3)"><text x="0" y="0" font-size="9.6" fill="#6a6a6a" text-anchor="end" textLength="55.5" lengthAdjust="spacingAndGlyphs">SNORD110</text></g>
<g transform="translate(329 406.32) scale(0.3)"><text x="0" y="0" font-size="9.6" fill="#6a6a6a" text-anchor="end" textLength="50.4" lengthAdjust="spacingAndGlyphs">SNORD21</text></g>
<g transform="translate(329 409.44) scale(0.3)"><text x="0" y="0" font-size="9.6" fill="#6a6a6a" text-anchor="end" textLength="57.5" lengthAdjust="spacingAndGlyphs">SNORD42A</text></g>
<rect x="437.6" y="247.7" width="8.3" height="8.95" fill="#e39a20"/>
<rect x="437.6" y="256.6" width="8.3" height="6.45" fill="#eebb6c"/>
<rect x="437.6" y="263" width="8.3" height="6.75" fill="#efbf74"/>
<rect x="437.6" y="269.7" width="8.3" height="9.05" fill="#f2c482"/>
<rect x="437.6" y="278.7" width="8.3" height="6.05" fill="#f6dcb6"/>
<rect x="437.6" y="284.7" width="8.3" height="6.55" fill="#f8e4c8"/>
<rect x="437.6" y="291.2" width="8.3" height="3.65" fill="#faeedd"/>
<rect x="437.6" y="294.8" width="8.3" height="9.05" fill="#e49c22"/>
<rect x="437.6" y="303.8" width="8.3" height="7.25" fill="#e8a232"/>
<rect x="437.6" y="311" width="8.3" height="7.85" fill="#eaaa40"/>
<rect x="437.6" y="318.8" width="8.3" height="4.05" fill="#f5d6a8"/>
<rect x="437.6" y="322.8" width="8.3" height="18.55" fill="#eeb55e"/>
<rect x="437.6" y="341.3" width="8.3" height="9.75" fill="#f3d09a"/>
<rect x="437.6" y="351" width="8.3" height="3.45" fill="#eaa848"/>
<rect x="437.6" y="354.4" width="8.3" height="12.45" fill="#f0c07a"/>
<rect x="437.6" y="366.8" width="8.3" height="8.25" fill="#f5d8aa"/>
<rect x="437.6" y="375" width="8.3" height="4.25" fill="#f8ead8"/>
<rect x="437.6" y="379.2" width="8.3" height="9.65" fill="#f2c688"/>
<rect x="437.6" y="388.8" width="8.3" height="9.65" fill="#f4d6a8"/>
<rect x="437.6" y="398.4" width="8.3" height="11.65" fill="#f8e6cc"/>
<rect x="447.2" y="251.2" width="7.6" height="2.40" fill="#d5e6c6"/>
<rect x="447.2" y="257.4" width="7.6" height="2.40" fill="#8cc078"/>
<rect x="447.2" y="263.7" width="7.6" height="2.40" fill="#8cc078"/>
<rect x="447.2" y="269.7" width="7.6" height="15.60" fill="#d8e8cc"/>
<rect x="447.2" y="285.3" width="7.6" height="2.40" fill="#8cc078"/>
<rect x="447.2" y="291.8" width="7.6" height="2.40" fill="#8cc078"/>
<rect x="447.2" y="310.4" width="7.6" height="2.40" fill="#d5e6c6"/>
<rect x="447.2" y="320" width="7.6" height="2.50" fill="#8cc078"/>
<rect x="447.2" y="332.4" width="7.6" height="2.70" fill="#d5e6c6"/>
<rect x="447.2" y="342" width="7.6" height="2.80" fill="#8cc078"/>
<rect x="447.2" y="344.8" width="7.6" height="2.70" fill="#bcdaa8"/>
<rect x="447.2" y="354.4" width="7.6" height="2.70" fill="#8cc078"/>
<rect x="447.2" y="376.4" width="7.6" height="2.80" fill="#d5e6c6"/>
<rect x="447.2" y="401.2" width="7.6" height="5.50" fill="#9cc888"/>
<rect x="447.2" y="406.7" width="7.6" height="3.50" fill="#4a9a30"/>
<text x="459.00" y="255.00" font-size="6.8" fill="#231f20" text-anchor="start" stroke="#231f20" stroke-width="0.12" textLength="23.7" lengthAdjust="spacingAndGlyphs" >Mageck</text>
<text x="459.00" y="262.70" font-size="6.8" fill="#231f20" text-anchor="start" stroke="#231f20" stroke-width="0.12" textLength="30.6" lengthAdjust="spacingAndGlyphs" >neg. score</text>
<defs><linearGradient id="gm" x1="0" y1="0" x2="0" y2="1"><stop offset="0" stop-color="#d6604a"/><stop offset="0.3" stop-color="#e8a090"/><stop offset="0.52" stop-color="#f6f0f2"/><stop offset="0.7" stop-color="#b8a8d8"/><stop offset="1" stop-color="#5c44a0"/></linearGradient><linearGradient id="ga" x1="0" y1="0" x2="0" y2="1"><stop offset="0" stop-color="#df9210"/><stop offset="0.3" stop-color="#e4a030"/><stop offset="0.55" stop-color="#edbb68"/><stop offset="0.8" stop-color="#f6dcb4"/><stop offset="1" stop-color="#ffffff"/></linearGradient><linearGradient id="gn" x1="0" y1="0" x2="0" y2="1"><stop offset="0" stop-color="#3f9430"/><stop offset="0.35" stop-color="#58a648"/><stop offset="0.65" stop-color="#a4cc94"/><stop offset="1" stop-color="#f6faf2"/></linearGradient></defs>
<rect x="459.8" y="266.8" width="7.3" height="27.6" fill="url(#gm)"/>
<line x1="459.8" y1="268.50" x2="461.2" y2="268.50" stroke="#fff" stroke-width="0.6"/><line x1="465.7" y1="268.50" x2="467.1" y2="268.50" stroke="#fff" stroke-width="0.6"/>
<text x="470.00" y="269.60" font-size="6.8" fill="#231f20" text-anchor="start" stroke="#231f20" stroke-width="0.12" textLength="9.45" lengthAdjust="spacingAndGlyphs" >0.8</text>
<line x1="459.8" y1="276.57" x2="461.2" y2="276.57" stroke="#fff" stroke-width="0.6"/><line x1="465.7" y1="276.57" x2="467.1" y2="276.57" stroke="#fff" stroke-width="0.6"/>
<text x="470.00" y="278.07" font-size="6.8" fill="#231f20" text-anchor="start" stroke="#231f20" stroke-width="0.12" textLength="9.45" lengthAdjust="spacingAndGlyphs" >0.6</text>
<line x1="459.8" y1="284.64" x2="461.2" y2="284.64" stroke="#fff" stroke-width="0.6"/><line x1="465.7" y1="284.64" x2="467.1" y2="284.64" stroke="#fff" stroke-width="0.6"/>
<text x="470.00" y="286.54" font-size="6.8" fill="#231f20" text-anchor="start" stroke="#231f20" stroke-width="0.12" textLength="9.45" lengthAdjust="spacingAndGlyphs" >0.4</text>
<line x1="459.8" y1="292.71" x2="461.2" y2="292.71" stroke="#fff" stroke-width="0.6"/><line x1="465.7" y1="292.71" x2="467.1" y2="292.71" stroke="#fff" stroke-width="0.6"/>
<text x="470.00" y="295.01" font-size="6.8" fill="#231f20" text-anchor="start" stroke="#231f20" stroke-width="0.12" textLength="9.45" lengthAdjust="spacingAndGlyphs" >0.2</text>
<text x="459.00" y="305.20" font-size="6.8" fill="#231f20" text-anchor="start" stroke="#231f20" stroke-width="0.12" textLength="23.7" lengthAdjust="spacingAndGlyphs" >average</text>
<text x="459.00" y="313.30" font-size="6.8" fill="#231f20" text-anchor="start" stroke="#231f20" stroke-width="0.12" textLength="30.6" lengthAdjust="spacingAndGlyphs" >neg. score</text>
<rect x="459.8" y="317.3" width="8.1" height="29.4" fill="url(#ga)"/>
<text x="470.00" y="320.90" font-size="6.8" fill="#231f20" text-anchor="start" stroke="#231f20" stroke-width="0.12" textLength="9.45" lengthAdjust="spacingAndGlyphs" >0.8</text>
<line x1="459.8" y1="322.10" x2="461.2" y2="322.10" stroke="#fff" stroke-width="0.6"/><line x1="466.5" y1="322.10" x2="467.9" y2="322.10" stroke="#fff" stroke-width="0.6"/>
<text x="470.00" y="328.90" font-size="6.8" fill="#231f20" text-anchor="start" stroke="#231f20" stroke-width="0.12" textLength="9.45" lengthAdjust="spacingAndGlyphs" >0.6</text>
<line x1="459.8" y1="330.10" x2="461.2" y2="330.10" stroke="#fff" stroke-width="0.6"/><line x1="466.5" y1="330.10" x2="467.9" y2="330.10" stroke="#fff" stroke-width="0.6"/>
<text x="470.00" y="336.90" font-size="6.8" fill="#231f20" text-anchor="start" stroke="#231f20" stroke-width="0.12" textLength="9.45" lengthAdjust="spacingAndGlyphs" >0.4</text>
<line x1="459.8" y1="338.10" x2="461.2" y2="338.10" stroke="#fff" stroke-width="0.6"/><line x1="466.5" y1="338.10" x2="467.9" y2="338.10" stroke="#fff" stroke-width="0.6"/>
<text x="470.00" y="344.90" font-size="6.8" fill="#231f20" text-anchor="start" stroke="#231f20" stroke-width="0.12" textLength="9.45" lengthAdjust="spacingAndGlyphs" >0.2</text>
<line x1="459.8" y1="346.10" x2="461.2" y2="346.10" stroke="#fff" stroke-width="0.6"/><line x1="466.5" y1="346.10" x2="467.9" y2="346.10" stroke="#fff" stroke-width="0.6"/>
<text x="470.00" y="352.90" font-size="6.8" fill="#231f20" text-anchor="start" stroke="#231f20" stroke-width="0.12" textLength="3.78" lengthAdjust="spacingAndGlyphs" >0</text>
<text x="458.10" y="363.80" font-size="6.8" fill="#231f20" text-anchor="start" stroke="#231f20" stroke-width="0.12" textLength="54.6" lengthAdjust="spacingAndGlyphs" >number significant</text>
<rect x="460" y="368.1" width="7.7" height="32" fill="url(#gn)"/>
<text x="470.80" y="371.20" font-size="6.8" fill="#231f20" text-anchor="start" stroke="#231f20" stroke-width="0.12" textLength="3.78" lengthAdjust="spacingAndGlyphs" >5</text>
<line x1="460" y1="369.20" x2="461.4" y2="369.20" stroke="#fff" stroke-width="0.6"/><line x1="466.3" y1="369.20" x2="467.7" y2="369.20" stroke="#fff" stroke-width="0.6"/>
<text x="470.80" y="379.17" font-size="6.8" fill="#231f20" text-anchor="start" stroke="#231f20" stroke-width="0.12" textLength="3.78" lengthAdjust="spacingAndGlyphs" >4</text>
<line x1="460" y1="377.17" x2="461.4" y2="377.17" stroke="#fff" stroke-width="0.6"/><line x1="466.3" y1="377.17" x2="467.7" y2="377.17" stroke="#fff" stroke-width="0.6"/>
<text x="470.80" y="387.14" font-size="6.8" fill="#231f20" text-anchor="start" stroke="#231f20" stroke-width="0.12" textLength="3.78" lengthAdjust="spacingAndGlyphs" >3</text>
<line x1="460" y1="385.14" x2="461.4" y2="385.14" stroke="#fff" stroke-width="0.6"/><line x1="466.3" y1="385.14" x2="467.7" y2="385.14" stroke="#fff" stroke-width="0.6"/>
<text x="470.80" y="395.11" font-size="6.8" fill="#231f20" text-anchor="start" stroke="#231f20" stroke-width="0.12" textLength="3.78" lengthAdjust="spacingAndGlyphs" >2</text>
<line x1="460" y1="393.11" x2="461.4" y2="393.11" stroke="#fff" stroke-width="0.6"/><line x1="466.3" y1="393.11" x2="467.7" y2="393.11" stroke="#fff" stroke-width="0.6"/>
<text x="470.80" y="403.08" font-size="6.8" fill="#231f20" text-anchor="start" stroke="#231f20" stroke-width="0.12" textLength="3.78" lengthAdjust="spacingAndGlyphs" >1</text>
<text x="341.70" y="416.20" font-size="7.6" fill="#231f20" text-anchor="end" stroke="#231f20" stroke-width="0.12" textLength="45.4" lengthAdjust="spacingAndGlyphs" transform="rotate(-56 341.70 416.20)" >d5/d1_MV4-11</text>
<text x="354.72" y="416.20" font-size="7.6" fill="#231f20" text-anchor="end" stroke="#231f20" stroke-width="0.12" textLength="40.9" lengthAdjust="spacingAndGlyphs" transform="rotate(-56 354.72 416.20)" >d5/d1_U937*</text>
<text x="367.74" y="416.20" font-size="7.6" fill="#231f20" text-anchor="end" stroke="#231f20" stroke-width="0.12" textLength="38.1" lengthAdjust="spacingAndGlyphs" transform="rotate(-56 367.74 416.20)" >d9/d1_U937</text>
<text x="380.76" y="416.20" font-size="7.6" fill="#231f20" text-anchor="end" stroke="#231f20" stroke-width="0.12" textLength="40.9" lengthAdjust="spacingAndGlyphs" transform="rotate(-56 380.76 416.20)" >d5/d1_HL60*</text>
<text x="393.78" y="416.20" font-size="7.6" fill="#231f20" text-anchor="end" stroke="#231f20" stroke-width="0.12" textLength="40.9" lengthAdjust="spacingAndGlyphs" transform="rotate(-56 393.78 416.20)" >d9/d1_HL60*</text>
<text x="406.80" y="416.20" font-size="7.6" fill="#231f20" text-anchor="end" stroke="#231f20" stroke-width="0.12" textLength="53.7" lengthAdjust="spacingAndGlyphs" transform="rotate(-56 406.80 416.20)" >d5/d1_Kasumi-1*</text>
<text x="419.82" y="416.20" font-size="7.6" fill="#231f20" text-anchor="end" stroke="#231f20" stroke-width="0.12" textLength="53.7" lengthAdjust="spacingAndGlyphs" transform="rotate(-56 419.82 416.20)" >d9/d1_Kasumi-1*</text>
<text x="432.84" y="416.20" font-size="7.6" fill="#231f20" text-anchor="end" stroke="#231f20" stroke-width="0.12" textLength="45.4" lengthAdjust="spacingAndGlyphs" transform="rotate(-56 432.84 416.20)" >d9/d1_MV4-11</text>
<text x="444.70" y="413.60" font-size="7.34" fill="#231f20" text-anchor="end" stroke="#231f20" stroke-width="0.12" textLength="23.4" lengthAdjust="spacingAndGlyphs" transform="rotate(-90 444.70 413.60)" >average</text>
<text x="453.80" y="413.60" font-size="7.34" fill="#231f20" text-anchor="end" stroke="#231f20" stroke-width="0.12" textLength="42.1" lengthAdjust="spacingAndGlyphs" transform="rotate(-90 453.80 413.60)" >number_signif</text>
<text x="322.40" y="466.50" font-size="7.24" fill="#231f20" text-anchor="start" stroke="#231f20" stroke-width="0.12" textLength="123" lengthAdjust="spacingAndGlyphs" >*experiments with p&lt;0.05 for SNORD42A</text>
<line x1="63.9" y1="505.2" x2="63.9" y2="602.9" stroke="#111" stroke-width="1.2"/>
<line x1="63.3" y1="602.3" x2="209" y2="602.3" stroke="#111" stroke-width="1.2"/>
<line x1="63.3" y1="505.8" x2="208.7" y2="505.8" stroke="#333" stroke-width="1.0"/>
<line x1="61" y1="505.80" x2="63.9" y2="505.80" stroke="#111" stroke-width="0.9"/>
<text x="58.00" y="508.80" font-size="9.04" fill="#231f20" text-anchor="end" stroke="#231f20" stroke-width="0.12" textLength="11.12" lengthAdjust="spacingAndGlyphs" >0.0</text>
<line x1="61" y1="538.00" x2="63.9" y2="538.00" stroke="#111" stroke-width="0.9"/>
<text x="58.00" y="541.00" font-size="9.04" fill="#231f20" text-anchor="end" stroke="#231f20" stroke-width="0.12" textLength="13.78" lengthAdjust="spacingAndGlyphs" >-0.5</text>
<line x1="61" y1="570.20" x2="63.9" y2="570.20" stroke="#111" stroke-width="0.9"/>
<text x="58.00" y="573.20" font-size="9.04" fill="#231f20" text-anchor="end" stroke="#231f20" stroke-width="0.12" textLength="13.78" lengthAdjust="spacingAndGlyphs" >-1.0</text>
<line x1="61" y1="602.40" x2="63.9" y2="602.40" stroke="#111" stroke-width="0.9"/>
<text x="58.00" y="605.40" font-size="9.04" fill="#231f20" text-anchor="end" stroke="#231f20" stroke-width="0.12" textLength="13.78" lengthAdjust="spacingAndGlyphs" >-1.5</text>
<text x="38.30" y="554.30" font-size="9.72" fill="#231f20" text-anchor="middle" stroke="#231f20" stroke-width="0.12" textLength="97" lengthAdjust="spacingAndGlyphs" transform="rotate(-90 38.30 554.30)" >SNORD42A log2 foldchange</text>
<rect x="70.80" y="506.2" width="10" height="40.00" fill="#a4002b"/>
<line x1="75.80" y1="602.3" x2="75.80" y2="605" stroke="#111" stroke-width="0.9"/>
<text x="77.80" y="609.60" font-size="9.2" fill="#231f20" text-anchor="end" stroke="#231f20" stroke-width="0.12" textLength="60.8" lengthAdjust="spacingAndGlyphs" transform="rotate(-55 77.80 609.60)" >d5/d1_Kasumi-1</text>
<rect x="88.11" y="506.2" width="10" height="66.70" fill="#a4002b"/>
<line x1="93.11" y1="602.3" x2="93.11" y2="605" stroke="#111" stroke-width="0.9"/>
<text x="95.11" y="609.60" font-size="9.2" fill="#231f20" text-anchor="end" stroke="#231f20" stroke-width="0.12" textLength="60.8" lengthAdjust="spacingAndGlyphs" transform="rotate(-55 95.11 609.60)" >d9/d1_Kasumi-1</text>
<rect x="105.42" y="506.2" width="10" height="30.70" fill="#a4002b"/>
<line x1="110.42" y1="602.3" x2="110.42" y2="605" stroke="#111" stroke-width="0.9"/>
<text x="112.42" y="609.60" font-size="9.2" fill="#231f20" text-anchor="end" stroke="#231f20" stroke-width="0.12" textLength="45.5" lengthAdjust="spacingAndGlyphs" transform="rotate(-55 112.42 609.60)" >d5/d1_HL60</text>
<rect x="122.73" y="506.2" width="10" height="56.10" fill="#a4002b"/>
<line x1="127.73" y1="602.3" x2="127.73" y2="605" stroke="#111" stroke-width="0.9"/>
<text x="129.73" y="609.60" font-size="9.2" fill="#231f20" text-anchor="end" stroke="#231f20" stroke-width="0.12" textLength="45.5" lengthAdjust="spacingAndGlyphs" transform="rotate(-55 129.73 609.60)" >d9/d1_HL60</text>
<rect x="140.04" y="506.2" width="10" height="46.10" fill="#a4002b"/>
<line x1="145.04" y1="602.3" x2="145.04" y2="605" stroke="#111" stroke-width="0.9"/>
<text x="147.04" y="609.60" font-size="9.2" fill="#231f20" text-anchor="end" stroke="#231f20" stroke-width="0.12" textLength="45.5" lengthAdjust="spacingAndGlyphs" transform="rotate(-55 147.04 609.60)" >d5/d1_U937</text>
<rect x="157.35" y="506.2" width="10" height="43.00" fill="#a4002b"/>
<line x1="162.35" y1="602.3" x2="162.35" y2="605" stroke="#111" stroke-width="0.9"/>
<text x="164.35" y="609.60" font-size="9.2" fill="#231f20" text-anchor="end" stroke="#231f20" stroke-width="0.12" textLength="45.5" lengthAdjust="spacingAndGlyphs" transform="rotate(-55 164.35 609.60)" >d9/d1_U937</text>
<rect x="174.66" y="506.2" width="10" height="29.20" fill="#a4002b"/>
<line x1="179.66" y1="602.3" x2="179.66" y2="605" stroke="#111" stroke-width="0.9"/>
<text x="181.66" y="609.60" font-size="9.2" fill="#231f20" text-anchor="end" stroke="#231f20" stroke-width="0.12" textLength="54.2" lengthAdjust="spacingAndGlyphs" transform="rotate(-55 181.66 609.60)" >d5/d1_MV4-11</text>
<rect x="191.97" y="506.2" width="10" height="43.00" fill="#a4002b"/>
<line x1="196.97" y1="602.3" x2="196.97" y2="605" stroke="#111" stroke-width="0.9"/>
<text x="198.97" y="609.60" font-size="9.2" fill="#231f20" text-anchor="end" stroke="#231f20" stroke-width="0.12" textLength="54.2" lengthAdjust="spacingAndGlyphs" transform="rotate(-55 198.97 609.60)" >d9/d1_MV4-11</text>
</svg></body></html>
